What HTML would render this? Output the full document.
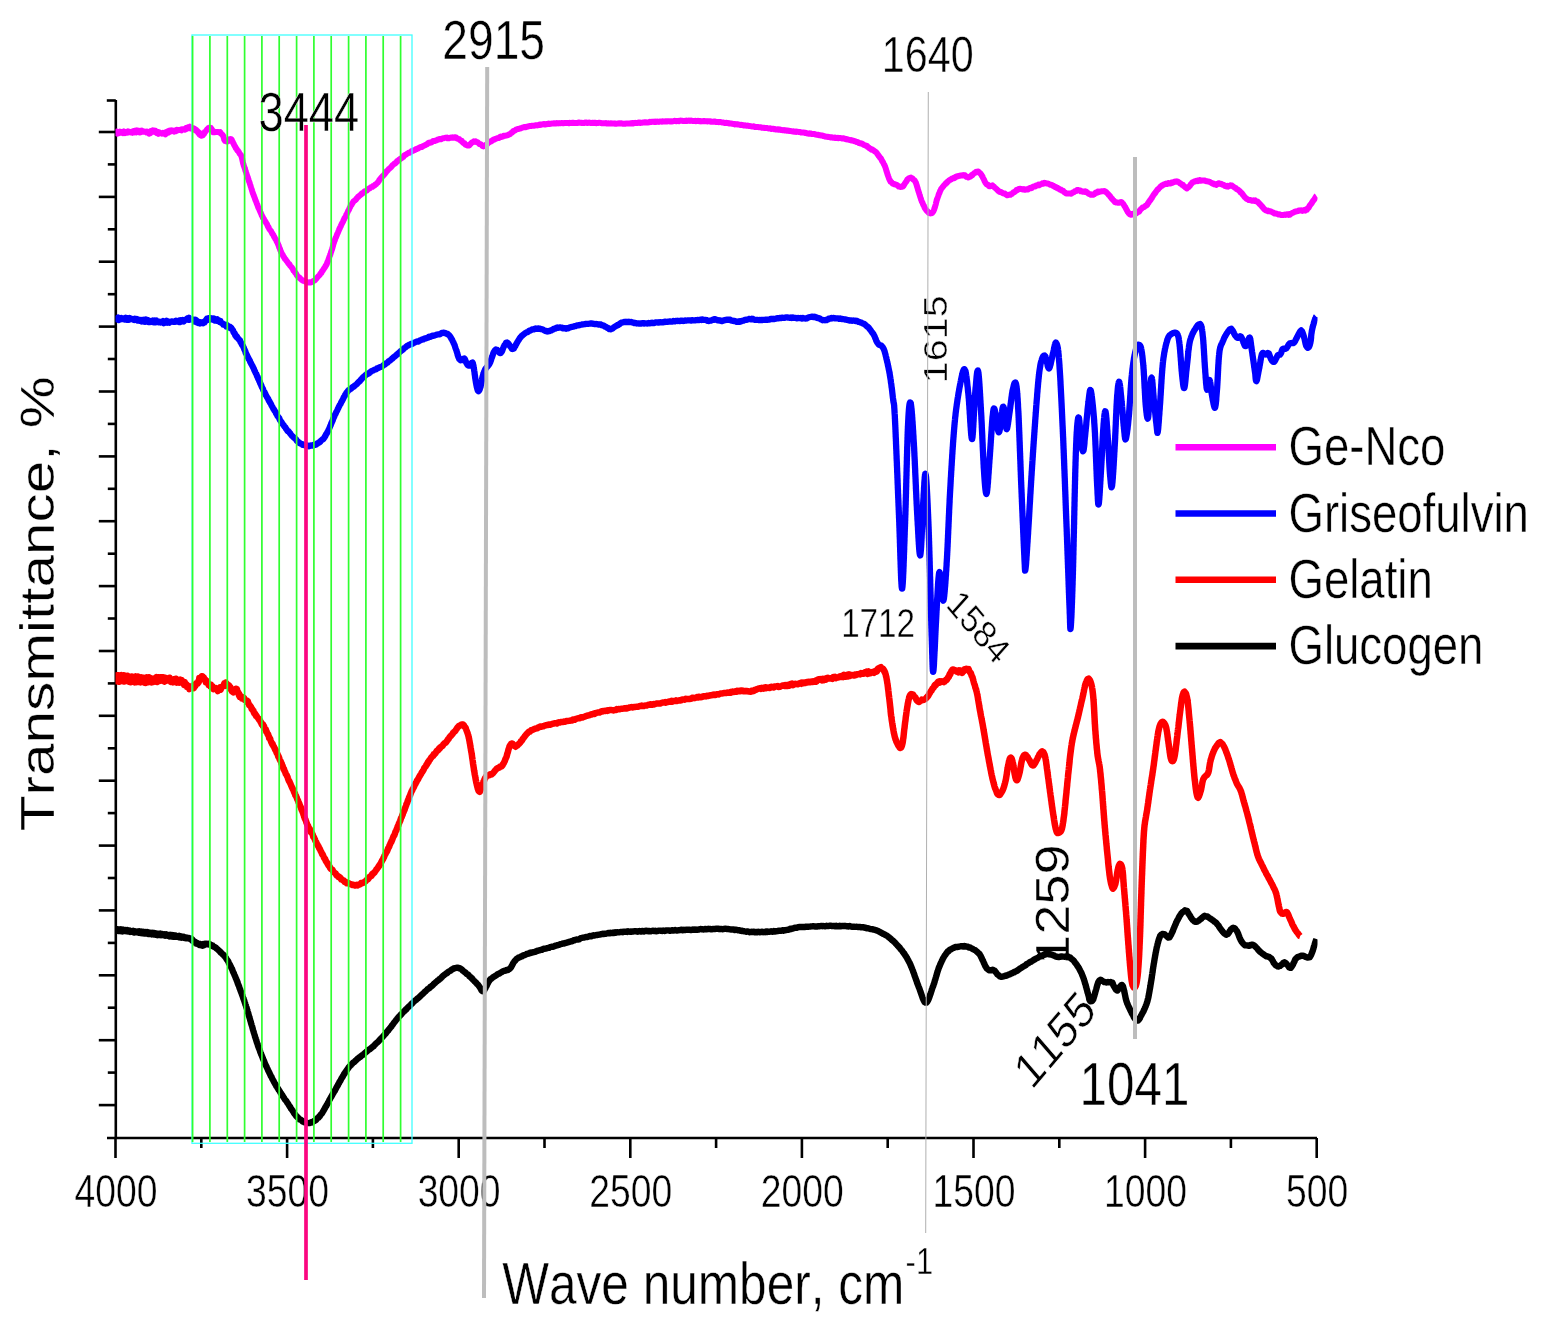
<!DOCTYPE html>
<html lang="en"><head><meta charset="utf-8"><title>FTIR spectra</title>
<style>html,body{margin:0;padding:0;background:#fff}body{width:1548px;height:1327px;overflow:hidden}svg{display:block}text{font-family:"Liberation Sans",sans-serif;fill:#000;font-kerning:none;stroke:#fff;stroke-width:.45px}text.b{stroke-width:.35px}</style>
</head><body>
<svg width="1548" height="1327" viewBox="0 0 1548 1327">
<rect width="1548" height="1327" fill="#fff"/>
<g stroke="#000" stroke-width="2.6" fill="none" stroke-linecap="butt">
<path d="M115.8,100 V1139"/>
<path d="M107,1138 H1317"/>
<path d="M106.8,100.5 H115.8"/>
<path d="M98.8,132.0 H115.8"/>
<path d="M107.8,164.4 H115.8"/>
<path d="M98.8,196.9 H115.8"/>
<path d="M107.8,229.3 H115.8"/>
<path d="M98.8,261.7 H115.8"/>
<path d="M107.8,294.2 H115.8"/>
<path d="M98.8,326.6 H115.8"/>
<path d="M107.8,359.0 H115.8"/>
<path d="M98.8,391.5 H115.8"/>
<path d="M107.8,423.9 H115.8"/>
<path d="M98.8,456.4 H115.8"/>
<path d="M107.8,488.8 H115.8"/>
<path d="M98.8,521.2 H115.8"/>
<path d="M107.8,553.7 H115.8"/>
<path d="M98.8,586.1 H115.8"/>
<path d="M107.8,618.5 H115.8"/>
<path d="M98.8,651.0 H115.8"/>
<path d="M107.8,683.4 H115.8"/>
<path d="M98.8,715.8 H115.8"/>
<path d="M107.8,748.3 H115.8"/>
<path d="M98.8,780.7 H115.8"/>
<path d="M107.8,813.1 H115.8"/>
<path d="M98.8,845.6 H115.8"/>
<path d="M107.8,878.0 H115.8"/>
<path d="M98.8,910.4 H115.8"/>
<path d="M107.8,942.9 H115.8"/>
<path d="M98.8,975.3 H115.8"/>
<path d="M107.8,1007.7 H115.8"/>
<path d="M98.8,1040.2 H115.8"/>
<path d="M107.8,1072.6 H115.8"/>
<path d="M98.8,1105.1 H115.8"/>
<path d="M115.5,1138 V1158"/>
<path d="M201.3,1138 V1148"/>
<path d="M287.1,1138 V1158"/>
<path d="M372.9,1138 V1148"/>
<path d="M458.7,1138 V1158"/>
<path d="M544.5,1138 V1148"/>
<path d="M630.3,1138 V1158"/>
<path d="M716.1,1138 V1148"/>
<path d="M801.9,1138 V1158"/>
<path d="M887.7,1138 V1148"/>
<path d="M973.5,1138 V1158"/>
<path d="M1059.3,1138 V1148"/>
<path d="M1145.1,1138 V1158"/>
<path d="M1230.9,1138 V1148"/>
<path d="M1316.7,1138 V1158"/>
</g>
<text transform="translate(115.9,1207.1) scale(0.8,1)" font-size="46.6" text-anchor="middle">4000</text>
<text transform="translate(287.5,1207.1) scale(0.8,1)" font-size="46.6" text-anchor="middle">3500</text>
<text transform="translate(459.1,1207.1) scale(0.8,1)" font-size="46.6" text-anchor="middle">3000</text>
<text transform="translate(630.7,1207.1) scale(0.8,1)" font-size="46.6" text-anchor="middle">2500</text>
<text transform="translate(802.3,1207.1) scale(0.8,1)" font-size="46.6" text-anchor="middle">2000</text>
<text transform="translate(973.9,1207.1) scale(0.8,1)" font-size="46.6" text-anchor="middle">1500</text>
<text transform="translate(1145.5,1207.1) scale(0.8,1)" font-size="46.6" text-anchor="middle">1000</text>
<text transform="translate(1317.1,1207.1) scale(0.8,1)" font-size="46.6" text-anchor="middle">500</text>
<text transform="translate(442.34,59.14) scale(0.8189,1)" font-size="56.34">2915</text>
<text transform="translate(881.85,72.11) scale(0.8374,1)" font-size="49.30">1640</text>
<text transform="translate(1079.57,1105.09) scale(0.8090,1)" font-size="60.99">1041</text>
<text transform="translate(841.13,637.40) scale(0.8254,1)" font-size="40.29">1712</text>
<text transform="translate(946.57,383.21) rotate(-90) scale(1.2036,1)" font-size="32.82">1615</text>
<text transform="translate(1069.43,965.02) rotate(-90) scale(1.1510,1)" font-size="47.18">1259</text>
<text transform="translate(945.10,605.70) scale(1,1.15) rotate(45.8) scale(1.0,1)" font-size="32.90">1584</text>
<text transform="translate(1031.70,1090.80) scale(1,1.17) rotate(-45.2) scale(1.0,1)" font-size="42.40">1155</text>
<text transform="translate(1288.5,465.2) scale(0.828,1)" font-size="55.0">Ge-Nco</text>
<text transform="translate(1288.5,531.6) scale(0.828,1)" font-size="55.0">Griseofulvin</text>
<text transform="translate(1288.5,597.6) scale(0.828,1)" font-size="55.0">Gelatin</text>
<text transform="translate(1288.5,664) scale(0.828,1)" font-size="55.0">Glucogen</text>
<text transform="translate(502.20,1303.50) scale(0.8382,1)" font-size="59.15">Wave number, cm<tspan font-size="37" dy="-29.5" dx="1.5">-1</tspan></text>
<text transform="translate(54.30,831.26) rotate(-90) scale(1.1980,1)" font-size="48.84" class="b">Transmittance, %</text>
<defs><clipPath id="plot"><rect x="115.5" y="0" width="1202" height="1327"/></clipPath></defs>
<path d="M115.7,928.9 116.2,930.6 116.7,929.3 117.2,930.7 117.8,929.2 118.4,930.9 119.1,929.8 119.8,930.8 120.5,929.4 121.2,931.2 122.0,929.5 122.8,931.4 123.7,929.8 124.5,930.9 125.4,930.1 126.3,931.2 127.3,930.1 128.2,931.4 129.2,930.7 130.1,931.9 131.1,931.0 132.1,931.7 133.1,931.0 134.1,932.5 135.1,931.3 136.2,932.3 137.2,931.6 138.2,932.6 139.3,931.3 140.3,933.0 141.3,931.6 142.3,933.2 143.3,931.9 144.3,933.3 145.3,932.2 146.3,933.4 147.3,932.1 148.2,934.0 149.2,932.6 150.1,933.9 151.0,933.0 151.9,934.3 152.8,933.0 153.7,934.3 154.6,933.1 155.5,934.7 156.5,933.7 157.4,935.0 158.4,933.9 159.4,934.9 160.3,933.6 161.3,935.1 162.3,934.2 163.3,935.2 164.3,934.4 165.3,935.6 166.3,934.4 167.2,935.6 168.2,935.1 169.2,936.3 170.2,934.9 171.1,936.3 172.1,935.1 173.0,936.6 174.0,935.3 174.9,936.6 175.8,935.6 176.7,936.7 177.5,936.2 178.4,937.1 179.2,936.0 180.1,937.3 180.8,936.3 181.6,937.6 182.4,936.8 183.1,937.5 183.8,936.8 184.4,937.8 185.1,937.3 185.7,938.1 186.3,937.6 186.8,938.3 188.9,937.9 190.3,939.2 191.3,938.6 192.0,940.4 192.4,939.5 192.7,940.8 193.0,940.5 193.4,941.4 194.0,941.5 194.8,942.6 195.6,942.1 196.3,943.5 197.1,943.1 197.9,944.1 198.6,943.7 199.4,944.8 200.2,944.2 201.0,945.2 201.8,944.6 202.6,945.5 203.3,944.2 204.1,945.1 204.9,943.8 205.7,944.3 206.5,943.8 207.4,944.3 208.4,943.7 209.1,944.3 209.7,944.0 210.5,945.2 211.2,945.0 211.9,945.9 212.7,945.6 213.5,946.7 214.3,946.9 215.1,947.3 215.8,947.6 216.6,948.5 217.4,949.2 218.2,949.9 219.0,950.6 219.5,951.2 220.0,951.3 220.5,952.4 221.0,952.7 221.5,953.0 222.0,953.6 222.5,954.2 223.0,954.3 223.5,954.9 224.0,955.8 224.5,956.1 225.0,956.7 225.6,957.5 226.1,958.2 226.6,959.3 227.1,959.8 227.7,960.6 228.3,961.5 228.8,963.0 229.4,963.9 230.0,964.9 230.3,965.8 230.6,966.4 230.9,966.7 231.2,967.6 231.5,968.1 231.8,968.6 232.1,969.3 232.4,969.9 232.7,971.0 233.0,971.6 233.3,972.4 233.7,972.9 234.0,973.7 234.3,974.6 234.6,975.2 235.0,976.1 235.3,976.8 235.6,977.6 235.9,978.5 236.3,979.1 236.6,980.1 236.9,981.0 237.3,981.7 237.6,982.8 237.9,983.7 238.3,984.5 238.6,985.4 239.0,986.1 239.3,987.3 239.6,988.2 240.0,989.1 240.3,989.8 240.6,990.9 241.0,991.8 241.3,992.7 241.6,993.5 242.0,994.5 242.3,995.3 242.7,996.5 243.0,997.3 243.3,998.3 243.6,999.1 244.0,1000.0 244.3,1001.1 244.6,1001.8 244.8,1002.5 245.1,1003.2 245.3,1004.2 245.6,1004.9 245.9,1005.6 246.1,1006.5 246.4,1007.4 246.7,1008.2 246.9,1008.9 247.2,1009.9 247.4,1010.7 247.7,1011.7 248.0,1012.4 248.2,1013.2 248.5,1014.2 248.7,1015.0 249.0,1016.1 249.3,1016.9 249.5,1017.7 249.8,1018.7 250.1,1019.7 250.3,1020.6 250.6,1021.3 250.8,1022.2 251.1,1023.3 251.4,1024.1 251.6,1024.9 251.9,1025.8 252.2,1026.6 252.4,1027.8 252.7,1028.5 252.9,1029.6 253.2,1030.5 253.5,1031.3 253.7,1032.1 254.0,1033.2 254.3,1034.0 254.5,1034.7 254.8,1035.5 255.0,1036.6 255.3,1037.4 255.6,1038.1 255.8,1038.9 256.1,1039.7 256.3,1040.6 256.6,1041.5 256.9,1042.4 257.1,1043.0 257.4,1043.8 257.7,1044.5 257.9,1045.5 258.2,1046.3 258.4,1046.9 258.7,1047.7 259.1,1048.5 259.4,1049.4 259.8,1050.4 260.1,1051.5 260.5,1052.5 260.8,1053.2 261.2,1054.3 261.6,1055.1 261.9,1056.0 262.3,1056.9 262.6,1057.7 263.0,1058.8 263.3,1059.5 263.7,1060.3 264.1,1061.0 264.4,1062.1 264.8,1063.0 265.1,1063.9 265.5,1064.6 265.8,1065.4 266.2,1066.0 266.6,1066.9 266.9,1067.6 267.3,1068.4 267.6,1069.1 268.0,1070.0 268.3,1070.8 268.7,1071.4 269.1,1072.2 269.4,1072.9 269.8,1073.7 270.1,1074.5 270.5,1075.2 270.8,1075.9 271.2,1076.4 271.6,1077.3 271.9,1077.9 272.3,1078.7 272.6,1079.3 273.0,1080.0 273.5,1080.9 273.9,1081.8 274.4,1082.6 274.9,1083.6 275.4,1084.4 275.9,1085.0 276.3,1086.2 276.8,1086.6 277.3,1087.6 277.8,1088.4 278.3,1089.0 278.8,1090.1 279.3,1090.6 279.8,1091.4 280.2,1092.1 280.7,1093.1 281.2,1093.6 281.7,1094.5 282.2,1094.9 282.6,1095.9 283.1,1096.5 283.6,1097.3 284.0,1097.9 284.5,1098.8 284.9,1099.4 285.4,1099.9 285.8,1100.5 286.3,1101.0 286.7,1101.7 287.1,1102.3 287.5,1103.1 288.1,1103.7 288.7,1104.8 289.2,1105.5 289.7,1106.5 290.3,1107.1 290.8,1108.2 291.3,1109.1 291.8,1109.6 292.3,1110.2 292.7,1110.9 293.2,1111.8 293.7,1112.3 294.1,1113.3 294.6,1113.8 295.1,1114.5 295.6,1115.1 296.0,1115.9 296.5,1116.3 297.0,1116.6 297.5,1117.3 298.0,1117.6 298.8,1118.5 299.5,1119.3 300.3,1119.5 301.1,1120.0 301.9,1120.6 302.7,1121.5 303.5,1121.4 304.3,1122.3 305.1,1122.3 305.9,1122.4 306.6,1122.9 307.4,1123.1 308.2,1123.1 309.0,1123.1 309.7,1123.0 310.5,1122.5 311.2,1122.6 311.9,1122.4 312.6,1122.0 313.3,1121.5 314.1,1121.0 314.8,1120.7 315.5,1120.3 316.2,1119.7 316.9,1118.8 317.6,1118.1 318.4,1117.8 319.1,1116.6 319.8,1116.2 320.2,1115.4 320.7,1114.7 321.1,1114.3 321.6,1113.7 322.0,1113.3 322.4,1112.5 322.8,1111.9 323.3,1110.9 323.7,1110.5 324.1,1109.5 324.5,1109.0 325.0,1108.1 325.4,1107.3 325.8,1106.5 326.3,1105.9 326.7,1105.0 327.2,1104.2 327.6,1103.5 328.1,1102.6 328.6,1101.6 329.1,1100.8 329.6,1099.6 330.1,1098.9 330.6,1097.9 331.0,1097.1 331.4,1096.7 331.8,1095.8 332.2,1095.1 332.6,1094.4 333.1,1093.5 333.5,1092.8 334.0,1091.9 334.4,1091.2 334.9,1090.6 335.3,1089.7 335.8,1088.9 336.3,1087.8 336.7,1087.1 337.2,1086.3 337.7,1085.5 338.1,1084.7 338.6,1083.6 339.1,1083.1 339.5,1081.9 340.0,1081.3 340.5,1080.6 340.9,1079.6 341.4,1078.6 341.8,1078.1 342.2,1077.2 342.7,1076.7 343.1,1075.7 343.5,1075.4 343.9,1074.4 344.3,1073.7 344.6,1073.5 345.0,1072.7 345.7,1071.8 346.3,1071.0 346.9,1070.0 347.4,1069.4 347.9,1068.6 348.3,1068.2 348.7,1067.2 349.2,1067.0 349.6,1066.3 350.1,1066.0 350.6,1065.3 351.1,1064.9 351.7,1064.0 352.4,1063.6 353.2,1062.6 354.0,1062.2 354.5,1061.8 355.1,1061.1 355.6,1060.5 356.2,1060.2 356.9,1059.4 357.5,1058.8 358.2,1058.4 358.9,1057.9 359.6,1057.1 360.3,1057.0 361.0,1056.1 361.8,1055.5 362.5,1055.1 363.3,1054.5 364.0,1053.9 364.8,1053.1 365.5,1052.5 366.3,1051.9 367.0,1051.3 367.8,1050.7 368.5,1049.9 369.2,1049.5 369.9,1049.1 370.6,1048.7 371.3,1047.9 371.9,1047.5 372.5,1047.0 373.1,1046.4 373.7,1046.1 374.5,1044.9 375.2,1044.6 375.9,1043.5 376.6,1043.1 377.3,1042.4 377.9,1042.0 378.5,1041.3 379.1,1040.6 379.7,1039.9 380.3,1039.6 380.8,1038.8 381.4,1038.3 382.0,1037.5 382.5,1037.0 383.1,1036.5 383.6,1035.8 384.2,1035.0 384.8,1034.3 385.4,1033.9 386.0,1033.2 386.5,1032.3 387.1,1031.6 387.6,1031.0 388.2,1030.6 388.7,1029.7 389.3,1029.0 389.8,1028.4 390.4,1027.6 390.9,1027.1 391.5,1026.4 392.0,1025.3 392.6,1024.7 393.1,1024.2 393.7,1023.2 394.2,1022.5 394.8,1021.7 395.3,1021.2 395.9,1020.4 396.5,1019.5 397.1,1018.9 397.6,1018.2 398.2,1017.6 398.8,1016.9 399.4,1016.2 400.0,1015.8 400.6,1014.8 401.1,1014.5 401.7,1014.0 402.3,1013.1 402.9,1012.5 403.5,1011.8 404.1,1011.2 404.7,1010.9 405.3,1010.3 405.9,1009.4 406.5,1009.2 407.1,1008.1 407.7,1007.6 408.4,1006.9 409.0,1006.6 409.6,1005.8 410.3,1005.3 411.0,1004.6 411.6,1003.9 412.3,1003.5 413.0,1002.5 413.6,1001.9 414.2,1001.4 414.8,1000.7 415.5,1000.3 416.1,999.9 416.7,999.3 417.4,998.6 418.1,998.2 418.7,997.6 419.4,997.0 420.1,996.4 420.7,995.7 421.4,995.0 422.1,994.4 422.8,993.9 423.5,993.1 424.2,992.5 424.9,991.7 425.5,991.3 426.2,990.5 426.9,990.0 427.6,989.2 428.3,988.9 429.0,988.3 429.7,987.8 430.3,986.8 431.0,986.6 431.7,986.1 432.4,985.5 433.0,984.9 433.8,984.0 434.5,983.3 435.2,982.8 435.9,982.0 436.6,981.5 437.3,981.1 438.1,980.1 438.8,980.0 439.5,979.1 440.2,978.7 440.9,978.1 441.6,977.3 442.3,976.7 443.0,975.9 443.7,975.4 444.3,974.8 445.0,974.3 445.6,974.0 446.2,973.4 446.8,973.3 447.4,972.8 448.0,972.1 448.5,971.7 449.0,971.4 450.2,970.9 451.2,969.9 452.1,969.3 452.9,969.2 453.7,968.3 454.4,968.2 455.1,968.2 455.8,968.0 456.5,967.8 457.2,967.9 458.0,967.7 458.7,968.0 459.4,968.4 460.0,968.3 460.7,968.8 461.4,969.1 462.0,969.6 462.7,970.6 463.4,971.0 464.1,971.5 464.8,972.2 465.5,972.5 466.2,973.4 467.0,974.2 467.6,974.3 468.2,974.8 468.8,975.3 469.4,976.3 470.1,976.9 470.7,977.2 471.4,978.2 472.1,978.4 472.7,979.4 473.4,980.2 474.0,980.6 474.7,981.5 475.3,982.1 475.9,982.5 476.5,983.3 477.0,983.9 477.5,984.3 478.0,984.7 478.8,985.8 479.4,986.6 479.9,987.5 480.4,988.2 480.9,989.0 481.3,989.9 481.7,990.6 482.2,991.1 482.7,990.7 483.3,990.8 483.7,990.6 484.1,990.5 484.5,989.7 484.8,989.2 485.2,988.5 485.6,987.7 486.0,986.8 486.5,986.0 486.9,985.2 487.3,984.3 487.8,983.4 488.3,982.3 488.8,981.5 489.3,980.8 489.9,979.9 490.5,979.2 491.1,978.9 491.8,978.2 492.5,977.8 493.2,977.1 494.0,976.7 494.7,976.3 495.5,975.8 496.4,975.3 497.2,974.5 498.0,974.0 498.8,973.7 499.6,973.4 500.3,972.9 501.1,972.4 501.7,972.1 502.4,971.6 503.0,971.3 504.0,970.9 504.9,970.7 505.8,970.6 506.5,969.9 507.3,969.9 507.9,970.1 508.6,969.3 509.3,969.2 510.0,968.4 510.5,967.9 510.9,967.6 511.3,966.8 511.7,966.0 512.1,965.3 512.5,964.5 512.8,964.0 513.2,963.1 513.7,962.3 514.2,961.7 514.7,960.9 515.3,960.5 516.0,959.6 516.6,958.9 517.2,958.5 517.8,958.3 518.4,957.7 519.1,957.5 519.7,957.4 520.4,956.9 521.1,956.4 521.9,956.4 522.7,955.6 523.6,955.4 524.5,954.9 525.4,955.0 526.5,954.0 527.5,953.9 528.7,953.3 529.4,953.5 530.0,952.8 530.8,953.1 531.5,952.5 532.3,952.5 533.1,952.2 533.9,952.1 534.7,951.9 535.6,951.6 536.5,951.1 537.4,950.7 538.3,950.7 539.2,950.2 540.1,950.3 541.0,949.8 541.9,949.8 542.9,949.1 543.8,948.8 544.7,948.7 545.6,948.6 546.5,948.4 547.4,948.2 548.3,947.8 549.2,947.8 550.1,947.2 550.9,947.0 551.7,946.7 552.5,946.6 553.3,946.7 554.0,946.5 555.0,945.7 556.0,945.8 556.9,945.3 557.8,945.2 558.7,945.0 559.6,944.4 560.4,944.3 561.2,944.0 562.0,943.8 562.8,943.5 563.6,943.6 564.4,943.4 565.2,943.2 566.0,942.6 566.8,942.7 567.6,942.2 568.5,942.2 569.3,941.6 570.2,941.8 571.1,941.3 572.0,941.2 572.8,941.1 573.6,940.3 574.4,940.4 575.2,940.0 575.9,939.6 576.7,939.5 577.5,939.6 578.3,939.5 579.2,939.3 580.0,938.6 580.8,938.2 581.6,938.0 582.5,937.7 583.3,937.6 584.2,937.6 585.0,937.3 585.9,936.9 586.8,937.0 587.7,937.0 588.6,936.5 589.5,936.0 590.5,936.2 591.4,936.2 592.4,935.8 593.4,935.2 594.2,935.5 594.9,935.5 595.7,935.1 596.5,935.0 597.2,935.0 598.0,934.9 598.8,934.6 599.6,934.6 600.4,934.4 601.2,934.3 602.0,934.0 602.8,933.7 603.6,934.1 604.5,933.7 605.3,933.9 606.1,933.6 607.0,933.4 607.8,933.2 608.7,932.9 609.6,933.3 610.5,932.7 611.4,933.0 612.3,933.1 613.2,932.5 614.1,933.0 615.1,932.3 616.0,932.8 617.0,932.2 618.0,932.4 619.0,932.4 620.0,932.2 621.0,931.9 622.0,932.0 622.8,932.2 623.5,931.7 624.3,931.9 625.0,931.9 625.8,931.7 626.6,931.5 627.3,931.9 628.1,931.3 628.9,931.5 629.7,931.7 630.4,931.5 631.2,931.8 632.0,931.4 632.8,931.5 633.6,931.5 634.4,931.1 635.2,931.1 636.1,931.4 636.9,931.5 637.7,931.7 638.5,931.2 639.4,931.0 640.2,931.3 641.1,931.6 642.0,930.9 642.9,930.9 643.7,931.5 644.6,930.9 645.6,931.1 646.5,930.8 647.4,930.9 648.3,931.2 649.3,930.9 650.3,931.4 651.2,931.1 652.2,930.9 653.2,930.7 654.2,931.1 655.2,930.8 656.3,931.2 657.3,931.1 658.4,930.6 659.5,930.6 660.6,930.7 661.7,930.9 662.4,931.0 663.2,930.5 664.0,930.9 664.8,931.0 665.6,930.5 666.4,930.5 667.3,930.4 668.1,930.4 669.0,930.5 669.8,930.8 670.7,930.6 671.6,930.4 672.5,930.2 673.4,930.6 674.4,930.4 675.3,930.0 676.2,930.5 677.2,930.5 678.1,930.4 679.1,930.1 680.1,930.1 681.0,929.8 682.0,929.8 683.0,930.3 684.0,929.7 685.0,930.0 686.0,929.6 687.0,929.7 687.9,929.6 688.9,929.7 689.9,929.8 690.9,930.0 691.9,929.8 692.9,929.4 693.9,929.9 694.9,929.4 695.9,929.9 696.9,929.8 697.9,929.7 698.9,929.5 699.9,929.1 700.8,929.0 701.8,929.4 702.8,929.1 703.7,929.5 704.7,929.2 705.6,928.9 706.6,929.3 707.5,928.9 708.4,929.1 709.3,928.9 710.2,929.0 711.1,929.4 712.0,929.3 712.8,929.0 713.7,929.1 714.5,929.0 715.4,929.0 716.2,928.8 717.0,928.7 717.8,928.8 718.5,928.7 719.3,929.1 720.0,929.2 720.7,929.1 721.4,928.9 722.1,929.2 722.8,929.3 724.1,928.9 725.4,928.7 726.6,929.0 727.8,928.9 728.9,929.1 730.0,929.4 731.0,929.5 732.0,929.5 733.0,929.5 733.9,929.4 734.8,930.0 735.6,929.7 736.4,929.9 737.2,930.0 738.0,930.3 738.8,930.3 739.5,930.2 740.3,930.9 741.0,930.7 741.7,930.9 742.4,931.1 743.1,931.0 743.8,931.2 744.5,931.4 745.3,931.4 746.0,931.8 746.7,931.5 747.5,931.6 748.2,931.5 749.0,931.9 749.8,932.2 750.6,932.0 751.5,931.7 752.4,932.1 753.3,931.8 754.1,931.7 755.0,932.3 755.9,932.2 756.8,931.9 757.7,932.2 758.6,931.8 759.5,932.3 760.5,932.1 761.4,931.8 762.3,931.6 763.2,932.2 764.1,932.0 765.0,932.2 765.9,931.6 766.8,932.1 767.7,931.5 768.6,931.8 769.5,931.7 770.4,931.6 771.2,931.3 772.1,931.8 773.0,931.6 773.8,931.1 774.7,931.6 775.5,931.2 776.3,931.3 777.2,931.1 778.0,931.0 778.7,930.6 779.5,930.6 780.3,930.8 781.3,930.7 782.2,930.3 783.1,930.8 784.0,930.2 784.8,930.3 785.6,930.1 786.4,930.0 787.2,929.9 788.0,929.8 788.7,929.6 789.5,929.4 790.2,928.7 791.0,929.1 791.7,928.6 792.5,928.5 793.3,928.5 794.1,928.1 794.9,927.7 795.8,927.8 796.7,927.8 797.6,927.4 798.6,927.1 799.6,926.9 800.7,927.0 801.8,926.9 802.5,926.9 803.2,927.1 804.0,926.9 804.8,927.0 805.6,926.7 806.4,926.6 807.2,926.7 808.0,926.8 808.9,926.6 809.7,926.6 810.6,926.5 811.5,926.4 812.4,926.4 813.3,926.2 814.2,926.4 815.1,926.5 816.1,926.4 817.0,926.5 817.9,926.1 818.9,926.3 819.8,926.3 820.8,926.0 821.7,926.0 822.7,926.2 823.6,926.0 824.6,926.3 825.5,926.2 826.4,925.8 827.4,926.1 828.3,926.1 829.2,925.9 830.1,925.7 831.0,925.7 831.9,926.1 832.8,926.1 833.7,925.9 834.5,926.1 835.4,926.3 836.2,925.8 837.0,926.3 837.8,926.3 838.8,926.1 839.8,925.8 840.8,926.3 841.8,925.9 842.8,926.0 843.8,925.9 844.8,926.1 845.7,925.9 846.7,926.3 847.7,926.2 848.6,926.6 849.6,926.0 850.5,926.4 851.4,926.6 852.4,926.8 853.3,926.7 854.2,926.8 855.1,926.9 856.0,926.9 856.8,926.7 857.7,927.0 858.6,927.0 859.4,927.1 860.2,927.0 861.1,927.4 861.9,927.2 862.7,927.2 863.5,927.3 864.3,927.7 865.0,927.8 865.8,927.6 866.5,928.2 867.5,928.1 868.6,928.3 869.5,928.7 870.5,929.1 871.4,929.1 872.3,929.2 873.1,929.5 874.0,929.6 874.8,929.8 875.6,930.2 876.4,930.2 877.2,930.7 877.9,930.8 878.7,931.6 879.4,931.7 880.1,932.2 880.9,932.5 881.6,933.1 882.3,933.2 883.0,933.8 883.8,934.0 884.5,934.4 885.2,934.9 886.0,935.2 886.7,935.6 887.4,936.0 888.1,936.5 888.8,937.5 889.5,937.7 890.2,938.4 890.9,938.9 891.5,939.6 892.2,940.2 892.9,940.6 893.5,941.2 894.2,941.9 894.8,942.4 895.4,943.3 896.0,943.8 896.6,944.4 897.2,945.2 897.8,945.7 898.4,946.4 899.0,947.1 899.6,947.4 900.1,948.5 900.7,949.1 901.2,949.8 901.7,950.3 902.2,950.7 902.7,951.8 903.2,952.2 903.7,953.1 904.2,953.4 904.6,954.3 905.1,955.1 905.6,955.7 906.0,956.4 906.5,957.3 906.9,957.8 907.4,958.8 907.8,959.7 908.3,960.4 908.7,961.3 909.2,962.2 909.6,962.8 909.9,963.5 910.3,964.4 910.6,965.1 911.0,966.2 911.3,966.8 911.7,967.7 912.0,968.4 912.3,969.3 912.7,970.2 913.0,971.0 913.3,972.0 913.7,972.9 914.0,973.7 914.3,974.6 914.6,975.8 915.0,976.7 915.3,977.4 915.6,978.5 915.9,979.1 916.2,980.1 916.5,980.9 916.8,981.7 917.1,982.8 917.4,983.3 917.7,984.4 918.0,984.8 918.3,985.9 918.6,986.7 919.0,987.6 919.4,988.5 919.8,989.7 920.2,990.9 920.5,991.9 920.9,993.0 921.3,994.0 921.6,994.9 922.0,996.1 922.3,997.0 922.7,998.1 923.0,998.9 923.4,999.7 923.7,1000.5 924.0,1000.9 924.4,1001.6 924.7,1002.2 925.1,1002.3 925.4,1002.5 925.8,1002.4 926.2,1002.4 926.5,1002.6 926.9,1002.3 927.2,1001.7 927.6,1001.2 928.0,1000.5 928.3,999.8 928.7,999.0 929.1,997.9 929.4,997.1 929.8,996.0 930.1,994.8 930.5,994.0 930.9,992.6 931.2,991.8 931.6,990.6 931.9,989.4 932.3,988.3 932.6,987.4 933.0,986.5 933.3,985.9 933.5,985.0 933.8,984.1 934.1,983.6 934.3,982.7 934.6,981.9 934.8,980.8 935.1,979.9 935.4,979.3 935.6,978.2 935.9,977.3 936.1,976.4 936.4,975.7 936.6,974.9 936.9,973.8 937.2,972.9 937.4,972.0 937.7,971.3 938.0,970.3 938.3,969.6 938.5,968.7 938.8,967.8 939.1,967.2 939.4,966.5 939.7,965.9 940.0,965.0 940.4,964.0 940.8,963.2 941.3,962.1 941.7,961.2 942.1,960.2 942.5,959.8 942.9,958.6 943.4,957.8 943.8,957.3 944.3,956.2 944.7,955.6 945.2,954.9 945.7,954.4 946.2,953.4 946.7,953.0 947.3,952.0 947.8,951.4 948.4,951.3 949.0,950.6 949.7,949.8 950.5,949.4 951.2,949.3 952.0,948.7 952.9,948.1 953.7,947.9 954.6,947.4 955.5,947.0 956.4,946.9 957.3,947.1 958.2,946.7 959.1,946.7 960.0,946.5 960.9,946.2 961.8,946.1 962.6,946.1 963.5,946.6 964.3,946.0 965.1,946.3 966.0,946.6 966.8,946.5 967.7,946.7 968.5,947.4 969.4,947.6 970.2,947.5 971.1,948.1 971.9,948.6 972.8,949.0 973.6,949.5 974.4,949.9 975.1,950.1 975.9,950.7 976.6,951.4 977.3,952.0 978.0,952.6 978.5,953.2 979.1,953.5 979.6,954.1 980.1,955.1 980.6,955.7 981.0,956.7 981.5,957.7 981.9,958.5 982.3,959.6 982.8,960.3 983.2,961.3 983.6,962.2 984.0,963.2 984.4,963.8 984.7,964.8 985.1,965.5 985.5,966.5 985.9,966.9 986.2,967.4 986.6,968.2 987.0,968.7 987.9,969.3 988.7,970.1 989.5,970.3 990.2,970.3 991.0,970.1 991.7,970.3 992.5,969.7 993.2,970.0 994.0,970.5 994.6,970.6 995.2,971.3 995.7,972.0 996.3,972.8 996.8,973.5 997.4,974.4 998.0,974.8 998.6,975.2 999.3,976.0 1000.1,976.5 1001.0,976.8 1001.7,976.8 1002.4,976.7 1003.1,976.5 1003.9,976.2 1004.7,975.9 1005.5,975.5 1006.4,975.7 1007.2,975.2 1008.1,974.9 1009.0,974.5 1009.9,974.4 1010.8,973.6 1011.7,973.4 1012.6,972.9 1013.5,972.3 1014.4,972.2 1015.1,971.5 1015.9,971.3 1016.6,971.0 1017.4,970.7 1018.1,969.8 1018.9,969.6 1019.7,968.7 1020.5,968.2 1021.2,967.9 1022.0,967.6 1022.8,966.6 1023.5,966.5 1024.3,965.9 1025.1,965.6 1025.8,965.1 1026.5,964.1 1027.3,963.9 1028.0,963.4 1028.7,963.1 1029.5,962.4 1030.4,961.7 1031.2,961.8 1032.0,961.0 1032.9,960.5 1033.7,959.8 1034.5,959.7 1035.3,958.9 1036.1,958.5 1036.8,958.4 1037.6,957.9 1038.3,957.6 1039.0,956.9 1039.7,956.7 1040.4,956.0 1041.0,955.8 1042.0,955.5 1043.0,955.1 1043.8,955.1 1044.6,954.2 1045.3,954.5 1046.1,954.2 1046.8,953.8 1047.6,953.7 1048.5,954.2 1049.3,954.1 1050.0,954.5 1050.8,954.3 1051.6,954.5 1052.4,954.9 1053.2,955.3 1054.1,955.4 1054.9,956.1 1055.8,956.5 1056.6,956.8 1057.5,956.7 1058.3,957.0 1059.2,957.0 1060.1,956.9 1061.0,956.4 1061.9,956.5 1062.8,956.6 1063.8,956.6 1064.7,956.7 1065.6,956.6 1066.4,956.4 1067.2,956.4 1068.0,956.4 1068.8,957.2 1069.6,957.4 1070.3,957.6 1071.0,958.4 1071.6,959.0 1072.3,959.4 1072.9,959.9 1073.6,960.6 1074.2,961.2 1074.8,962.4 1075.5,963.2 1075.9,963.6 1076.4,964.2 1076.8,964.8 1077.2,965.6 1077.7,966.2 1078.1,966.9 1078.5,967.5 1079.0,968.1 1079.4,969.1 1079.8,969.7 1080.2,970.6 1080.6,971.3 1081.1,972.4 1081.5,973.0 1081.8,973.8 1082.2,975.0 1082.6,975.9 1082.9,976.7 1083.2,977.5 1083.5,978.2 1083.8,979.2 1084.1,980.0 1084.4,980.9 1084.7,981.8 1084.9,982.8 1085.2,983.8 1085.5,984.5 1085.8,985.4 1086.0,986.6 1086.3,987.4 1086.5,988.5 1086.8,989.3 1087.0,989.9 1087.2,990.8 1087.4,991.7 1087.6,992.5 1087.8,993.0 1088.0,993.6 1088.4,995.1 1088.7,996.2 1088.9,997.2 1089.1,998.1 1089.2,999.0 1089.4,999.7 1089.6,1000.0 1089.8,1000.6 1090.0,1000.8 1090.7,1001.3 1091.4,1001.2 1092.2,1000.9 1093.0,999.5 1093.3,999.3 1093.5,998.3 1093.8,997.5 1094.0,996.8 1094.3,996.0 1094.5,995.1 1094.8,994.2 1095.1,993.1 1095.3,992.4 1095.5,991.5 1095.8,990.5 1096.0,989.9 1096.3,988.9 1096.6,987.7 1096.8,987.0 1097.1,985.9 1097.3,985.0 1097.6,984.3 1097.8,983.6 1098.0,983.0 1098.3,982.1 1098.8,981.3 1099.4,980.5 1099.9,980.4 1100.6,979.8 1101.2,979.9 1101.9,980.8 1102.7,981.1 1103.5,981.5 1104.3,982.1 1105.0,981.9 1105.8,982.4 1106.6,982.5 1107.4,982.3 1108.1,982.0 1108.8,982.4 1109.7,982.4 1110.5,981.9 1111.2,982.2 1111.9,982.3 1112.3,982.6 1112.7,983.2 1113.0,984.3 1113.3,985.1 1113.7,985.8 1114.1,986.6 1114.6,987.4 1115.1,988.3 1115.6,989.0 1116.1,989.9 1116.6,990.1 1117.1,990.6 1117.6,990.5 1118.1,989.6 1118.5,988.8 1118.9,988.4 1119.4,987.5 1120.0,986.7 1120.7,985.9 1121.4,985.1 1122.0,985.0 1122.4,985.5 1122.7,986.0 1123.0,986.5 1123.3,987.5 1123.6,988.7 1123.9,989.8 1124.1,990.6 1124.3,991.2 1124.4,992.1 1124.6,993.0 1124.8,993.9 1125.0,995.0 1125.2,995.8 1125.4,996.8 1125.6,997.8 1125.8,998.7 1126.0,999.6 1126.2,1000.2 1126.5,1001.4 1126.8,1002.0 1127.1,1003.1 1127.5,1004.0 1127.8,1004.6 1128.2,1005.6 1128.5,1006.4 1128.9,1007.0 1129.2,1007.7 1129.6,1008.5 1130.0,1009.4 1130.3,1010.2 1130.7,1010.9 1131.1,1011.6 1131.5,1012.3 1131.8,1013.3 1132.2,1013.9 1132.6,1014.6 1133.1,1015.4 1133.5,1016.4 1133.9,1017.4 1134.3,1017.7 1134.8,1018.5 1135.2,1018.9 1136.0,1019.8 1136.7,1020.5 1137.5,1020.2 1138.2,1020.4 1138.6,1019.7 1139.0,1019.6 1139.4,1018.8 1139.9,1018.1 1140.3,1017.0 1140.7,1016.3 1141.2,1015.3 1141.6,1014.7 1141.9,1014.1 1142.3,1013.3 1142.7,1012.7 1143.1,1012.0 1143.5,1011.2 1143.9,1010.2 1144.3,1009.4 1144.6,1008.7 1145.0,1007.7 1145.3,1007.1 1145.6,1006.4 1145.9,1005.5 1146.1,1005.1 1146.4,1004.4 1146.7,1003.4 1146.9,1002.8 1147.2,1001.9 1147.5,1001.0 1147.7,999.9 1148.0,998.8 1148.2,998.1 1148.3,997.5 1148.5,996.7 1148.6,996.0 1148.8,995.1 1148.9,994.3 1149.1,993.4 1149.3,992.4 1149.4,991.6 1149.6,990.6 1149.7,989.8 1149.9,988.9 1150.1,987.9 1150.2,987.0 1150.4,986.0 1150.5,985.1 1150.7,984.2 1150.8,983.0 1151.0,982.3 1151.1,981.4 1151.3,980.5 1151.4,979.8 1151.5,979.0 1151.7,978.0 1151.8,977.2 1151.9,976.3 1152.0,975.4 1152.2,974.6 1152.3,973.8 1152.4,972.8 1152.6,972.1 1152.7,971.2 1152.8,970.2 1152.9,969.3 1153.1,968.4 1153.2,967.6 1153.3,966.7 1153.5,965.9 1153.6,965.0 1153.7,964.3 1153.9,963.4 1154.0,962.6 1154.2,961.7 1154.3,960.6 1154.5,959.9 1154.6,958.8 1154.8,957.8 1155.0,956.8 1155.1,956.0 1155.3,955.0 1155.5,954.1 1155.6,953.1 1155.8,952.3 1156.0,951.6 1156.1,950.5 1156.3,949.9 1156.5,948.9 1156.6,948.1 1156.8,947.4 1156.9,946.6 1157.1,946.1 1157.4,945.0 1157.6,943.9 1157.9,942.9 1158.1,942.1 1158.4,941.0 1158.6,940.2 1158.9,939.4 1159.1,938.7 1159.4,938.1 1159.6,937.4 1159.9,936.9 1160.1,936.0 1160.7,935.2 1161.3,934.6 1161.9,934.5 1162.5,934.0 1163.1,933.9 1163.8,934.4 1164.6,934.3 1165.3,934.9 1166.1,935.7 1166.8,936.2 1167.6,937.0 1168.3,937.6 1169.1,937.1 1169.5,937.3 1169.9,936.6 1170.3,935.9 1170.8,935.2 1171.2,934.2 1171.6,933.6 1172.1,932.4 1172.4,932.0 1172.7,931.3 1173.1,930.2 1173.4,929.3 1173.8,928.4 1174.1,927.6 1174.5,926.8 1174.8,926.0 1175.2,924.9 1175.6,924.3 1175.9,923.3 1176.3,922.5 1176.7,921.6 1177.0,920.8 1177.4,920.3 1177.8,919.5 1178.2,918.8 1178.6,918.0 1178.9,917.4 1179.3,916.7 1179.7,915.8 1180.2,915.1 1180.8,914.2 1181.3,913.4 1181.9,912.9 1182.4,912.1 1182.9,912.0 1183.4,911.6 1184.2,911.1 1185.0,910.3 1185.7,910.7 1186.5,910.6 1186.9,910.8 1187.3,911.3 1187.8,912.4 1188.2,912.7 1188.6,913.8 1189.0,914.3 1189.5,915.1 1189.9,915.7 1190.4,916.4 1190.8,917.4 1191.3,917.9 1191.8,918.7 1192.3,919.3 1192.7,919.9 1193.2,920.1 1194.0,921.2 1194.7,921.5 1195.5,921.9 1196.2,921.9 1197.0,921.7 1197.6,921.5 1198.2,920.8 1198.9,920.6 1199.5,919.8 1200.1,919.6 1200.8,918.8 1201.4,918.6 1202.0,917.7 1202.6,917.3 1203.3,916.9 1203.9,916.2 1204.6,915.8 1205.3,916.2 1206.0,916.3 1206.7,916.6 1207.5,916.4 1208.2,917.1 1209.0,917.7 1209.8,918.3 1210.6,918.7 1211.2,919.2 1211.9,919.7 1212.6,920.1 1213.3,920.6 1214.0,921.3 1214.7,921.8 1215.4,922.1 1216.0,922.6 1216.6,923.3 1217.2,924.2 1217.7,924.7 1218.2,925.3 1218.7,925.9 1219.2,927.0 1219.7,927.6 1220.2,928.3 1220.6,929.1 1221.1,929.5 1221.7,930.4 1222.3,931.0 1222.8,931.9 1223.4,932.4 1223.9,933.1 1224.4,933.6 1224.9,933.8 1225.7,934.4 1226.5,934.7 1227.2,934.2 1227.9,934.0 1228.3,933.5 1228.8,932.8 1229.2,932.2 1229.6,931.3 1230.0,930.8 1230.5,930.1 1230.9,929.4 1231.7,929.0 1232.4,928.2 1233.2,927.7 1233.9,928.1 1234.5,928.2 1235.1,928.7 1235.6,929.4 1236.2,930.2 1236.9,930.9 1237.2,931.6 1237.5,932.4 1237.9,933.1 1238.2,933.8 1238.6,935.0 1238.9,935.7 1239.3,936.9 1239.6,937.7 1240.0,938.5 1240.4,939.4 1240.7,940.2 1241.2,940.8 1241.8,942.0 1242.3,942.4 1242.9,943.3 1243.4,943.9 1244.0,944.3 1244.5,945.0 1245.2,945.4 1246.0,945.4 1246.7,945.4 1247.5,945.5 1248.3,945.5 1249.0,945.9 1249.8,945.7 1250.6,944.9 1251.3,944.8 1252.1,944.8 1252.8,944.7 1253.5,945.3 1254.1,945.4 1254.7,946.0 1255.3,946.5 1255.9,947.2 1256.5,947.8 1257.0,948.2 1257.5,948.8 1258.0,949.6 1258.6,950.3 1259.1,950.6 1259.7,951.6 1260.3,951.8 1260.9,952.4 1261.5,952.8 1262.2,953.5 1262.9,953.9 1263.5,954.4 1264.2,954.8 1264.9,955.3 1265.6,955.9 1266.4,956.3 1267.2,956.2 1268.0,956.7 1268.7,956.6 1269.5,957.2 1270.2,957.8 1270.9,958.0 1271.4,958.6 1271.9,959.5 1272.4,960.3 1272.8,960.9 1273.3,962.0 1273.7,962.9 1274.1,963.3 1274.6,963.8 1275.4,965.0 1276.2,965.5 1276.9,965.8 1277.7,966.4 1278.4,966.5 1279.2,966.2 1280.0,966.0 1280.7,965.4 1281.4,964.7 1282.0,964.6 1282.6,963.8 1283.2,963.0 1283.8,962.6 1284.4,962.3 1285.0,962.8 1285.6,962.9 1286.2,963.5 1286.8,964.5 1287.4,965.1 1288.0,965.5 1288.5,966.3 1289.1,967.3 1289.7,967.6 1290.2,967.8 1290.7,967.9 1291.2,967.3 1291.7,966.6 1292.2,965.8 1292.7,965.0 1293.1,964.3 1293.4,963.6 1293.8,962.5 1294.2,961.9 1294.6,961.2 1294.9,960.1 1295.3,959.3 1295.7,958.9 1296.3,958.2 1296.9,957.7 1297.4,957.3 1298.0,956.8 1298.7,956.7 1299.4,956.6 1300.2,956.3 1301.0,955.7 1301.8,955.9 1302.5,955.7 1303.3,955.7 1304.0,956.2 1304.7,956.4 1305.5,956.8 1306.2,957.0 1307.0,957.4 1307.8,957.6 1308.6,957.3 1309.3,957.2 1309.8,957.2 1310.2,956.2 1310.7,955.6 1311.1,954.9 1311.5,954.0 1311.9,952.9 1312.3,952.0 1312.6,951.2 1312.9,950.3 1313.1,949.5 1313.4,948.7 1313.6,947.7 1313.9,946.8 1314.1,946.1 1314.4,945.4 1314.6,944.6 1314.9,943.5 1315.2,942.5 1315.5,941.8 1315.8,940.7 1316.1,940.0 1316.3,939.6 1316.5,939.0" fill="none" stroke="#000" stroke-width="6.4" stroke-linejoin="round" stroke-linecap="butt" clip-path="url(#plot)"/>
<path d="M115.0,675.5 115.5,680.0 116.0,675.5 116.6,681.2 117.2,675.3 117.9,681.0 118.6,675.3 119.4,681.8 120.2,676.1 121.0,681.0 121.8,675.1 122.7,681.1 123.7,675.2 124.6,681.5 125.6,675.7 126.6,681.0 127.6,675.7 128.6,681.7 129.6,676.6 130.6,682.3 131.7,676.5 132.7,681.8 133.7,677.4 134.8,682.4 135.8,676.4 136.8,682.1 137.8,676.5 138.8,681.9 139.7,677.5 140.7,682.4 141.6,677.4 142.5,681.4 143.4,677.7 144.3,682.6 145.2,678.1 146.1,682.9 147.0,677.4 148.0,682.2 148.9,677.3 149.9,682.0 150.8,678.1 151.8,682.4 152.7,678.7 153.6,681.9 154.6,678.3 155.5,681.1 156.5,677.1 157.4,682.0 158.3,677.3 159.2,681.2 160.1,677.2 161.0,680.6 161.9,677.2 162.7,680.2 163.6,677.4 164.4,681.7 165.2,677.7 166.0,680.8 166.8,679.7 167.5,680.1 168.2,678.8 168.9,680.3 169.6,677.7 170.8,682.0 172.0,679.8 173.1,682.3 174.1,679.3 175.0,682.0 175.9,678.7 176.8,682.6 177.6,680.1 178.3,682.1 179.0,681.3 179.7,682.7 180.4,679.6 181.1,681.9 181.7,680.1 182.4,682.4 183.0,681.5 184.0,684.9 184.8,682.2 185.6,684.7 186.3,684.2 186.9,686.9 187.5,685.3 188.1,686.8 188.7,686.5 189.3,689.1 190.0,686.3 190.8,688.2 191.5,687.0 192.3,687.9 193.1,685.5 193.9,688.2 194.6,684.9 195.3,686.1 196.0,683.6 196.7,684.1 197.3,683.1 197.9,683.4 198.4,680.9 198.8,682.0 199.3,678.1 199.8,678.9 200.3,677.9 200.9,677.4 201.5,676.5 202.1,677.7 202.6,676.3 203.2,678.9 203.8,677.4 204.5,679.8 205.1,679.4 205.8,682.3 206.4,680.6 207.2,682.7 207.9,682.9 208.6,685.0 209.3,684.1 210.1,686.2 210.9,684.7 211.7,687.5 212.5,686.2 213.4,689.1 214.2,688.1 215.0,688.5 215.8,688.2 216.5,689.7 217.2,689.8 217.8,691.0 218.8,688.6 219.5,689.2 220.2,687.4 220.7,689.7 221.3,687.3 222.0,687.1 222.7,686.2 223.4,686.3 224.2,683.7 224.9,686.0 225.7,682.5 226.4,684.8 227.2,684.2 227.7,685.1 228.3,685.1 228.8,686.1 229.3,685.7 229.9,688.0 230.4,687.1 230.9,689.6 231.4,689.7 231.9,691.5 232.4,691.6 233.3,692.4 234.1,690.9 234.9,690.1 235.7,689.0 236.5,691.6 236.9,689.0 237.3,691.9 237.7,691.4 238.1,692.2 238.5,693.2 238.9,695.3 239.3,693.9 239.7,696.7 240.2,696.6 240.7,697.1 241.3,696.6 241.9,698.5 242.6,698.3 243.3,698.7 244.0,697.9 244.8,700.1 245.5,700.0 246.2,701.0 246.9,700.6 247.4,702.2 247.8,701.3 248.3,702.9 248.8,703.9 249.2,705.2 249.7,705.5 250.2,705.8 250.6,706.4 251.1,707.1 251.6,708.7 252.1,709.5 252.5,709.4 253.0,710.6 253.5,710.9 254.0,713.0 254.4,713.0 254.9,714.1 255.4,714.1 255.9,715.8 256.4,715.6 256.9,716.8 257.4,717.3 257.8,717.8 258.3,718.2 258.8,719.3 259.3,719.1 259.8,720.8 260.3,720.8 260.7,722.3 261.2,722.4 261.7,724.3 262.2,723.7 262.6,725.7 263.1,724.5 263.6,725.9 264.1,726.4 264.5,728.3 265.0,728.6 265.5,729.4 265.9,729.5 266.2,731.5 266.6,731.4 267.0,732.8 267.3,733.2 267.7,734.4 268.1,734.1 268.4,735.8 268.8,735.9 269.1,737.9 269.5,737.6 269.9,738.6 270.2,738.9 270.6,740.4 271.0,741.4 271.3,742.5 271.7,742.6 272.1,744.1 272.5,743.8 272.9,744.8 273.3,746.2 273.6,746.3 274.0,746.8 274.4,747.9 274.8,748.3 275.2,749.8 275.6,749.9 276.0,750.6 276.4,752.1 276.7,753.1 277.1,753.2 277.5,754.1 277.9,755.0 278.2,756.5 278.6,756.3 278.9,757.2 279.2,758.0 279.5,759.0 279.9,759.9 280.2,760.4 280.5,761.0 280.8,761.6 281.1,762.1 281.5,763.9 281.8,763.7 282.1,765.6 282.5,765.5 282.9,766.7 283.2,767.9 283.6,769.3 284.0,769.0 284.3,770.2 284.6,771.0 285.0,771.9 285.3,772.1 285.7,773.9 286.0,774.3 286.4,774.7 286.8,775.3 287.1,776.2 287.5,776.8 287.9,778.2 288.3,779.4 288.6,780.2 289.0,781.1 289.4,781.2 289.8,782.5 290.2,783.2 290.5,783.9 290.9,784.9 291.3,786.0 291.7,786.6 292.0,787.6 292.4,788.0 292.8,789.2 293.1,789.4 293.5,790.3 293.9,791.6 294.2,792.4 294.6,793.4 295.0,793.4 295.3,795.1 295.7,795.7 296.1,796.1 296.5,797.3 296.8,797.7 297.2,799.3 297.5,799.7 297.9,800.2 298.3,801.5 298.6,802.5 299.0,802.8 299.3,803.9 299.6,804.6 300.0,805.5 300.3,806.4 300.6,806.6 301.0,807.6 301.3,809.0 301.6,809.7 302.0,810.6 302.3,811.1 302.6,812.0 302.9,812.6 303.2,813.5 303.5,814.7 303.8,815.1 304.1,816.6 304.4,817.2 304.7,818.3 305.0,818.5 305.3,819.8 305.6,819.8 305.9,820.8 306.2,821.7 306.5,822.8 306.8,823.2 307.2,824.5 307.6,825.1 307.9,825.5 308.3,826.5 308.7,827.4 309.0,828.2 309.4,829.1 309.8,829.1 310.1,830.7 310.5,830.6 310.9,832.1 311.3,832.6 311.7,832.9 312.1,833.5 312.6,834.4 313.0,835.6 313.3,836.9 313.7,837.1 314.1,837.6 314.4,838.6 314.8,839.0 315.2,840.4 315.6,841.2 316.0,841.8 316.4,842.6 316.8,843.7 317.2,844.4 317.6,844.8 318.0,845.9 318.5,846.3 318.9,847.6 319.3,848.5 319.7,848.7 320.1,849.5 320.5,850.6 320.9,851.3 321.3,852.2 321.7,852.9 322.2,854.3 322.6,854.2 323.0,855.3 323.5,856.4 323.9,857.5 324.4,858.4 324.8,858.5 325.2,859.0 325.7,860.8 326.1,861.4 326.5,861.9 327.0,862.5 327.4,863.6 327.9,863.5 328.3,865.2 328.7,865.6 329.2,866.5 329.6,866.4 330.2,868.0 330.8,868.8 331.4,869.2 332.0,869.5 332.5,869.9 333.1,871.2 333.7,872.1 334.3,872.5 334.9,873.0 335.5,873.3 336.0,874.3 336.6,875.5 337.2,875.5 337.8,875.9 338.5,877.0 339.2,876.8 339.8,877.4 340.5,877.8 341.2,879.6 341.9,879.6 342.6,879.9 343.3,880.4 343.9,880.6 344.6,882.0 345.3,882.0 346.0,881.9 346.8,883.3 347.7,883.1 348.5,883.1 349.4,883.6 350.2,884.0 351.0,884.4 351.9,884.5 352.7,885.1 353.6,884.8 354.4,885.3 355.2,885.6 356.1,885.0 356.9,884.7 357.7,885.3 358.5,884.6 359.3,884.5 360.1,884.3 361.0,883.1 361.8,883.4 362.6,882.8 363.3,882.8 364.0,882.5 364.7,881.4 365.4,881.4 366.1,880.7 366.7,879.8 367.4,879.3 368.1,879.2 368.8,878.2 369.5,877.0 370.2,876.5 370.9,876.1 371.5,875.9 372.0,874.4 372.6,873.7 373.1,873.9 373.7,872.8 374.2,872.8 374.8,872.1 375.3,871.1 375.9,870.5 376.4,869.4 377.0,869.0 377.5,868.1 378.1,867.4 378.6,866.3 379.2,866.2 379.6,864.8 380.0,864.6 380.4,863.8 380.8,863.3 381.3,862.3 381.7,861.4 382.1,860.7 382.5,859.7 382.9,859.6 383.3,858.6 383.7,857.4 384.1,857.1 384.5,855.7 384.9,855.0 385.3,854.3 385.8,853.2 386.2,852.6 386.6,851.9 387.0,851.4 387.4,850.5 387.8,849.4 388.1,848.3 388.5,847.9 388.8,847.4 389.2,846.7 389.6,845.2 389.9,844.6 390.3,843.7 390.6,843.2 391.0,842.1 391.4,841.9 391.7,840.6 392.1,840.1 392.4,839.3 392.8,838.1 393.2,837.1 393.5,836.4 393.9,835.8 394.3,835.4 394.6,834.2 395.0,833.7 395.3,832.2 395.7,831.2 396.0,830.9 396.4,830.3 396.7,828.9 397.0,828.8 397.4,827.6 397.7,826.4 398.0,826.3 398.4,825.4 398.7,824.2 399.0,823.2 399.4,822.7 399.7,821.8 400.0,821.3 400.4,820.3 400.7,819.2 401.0,818.2 401.4,817.5 401.7,817.0 402.0,816.2 402.3,815.0 402.7,814.6 403.0,813.1 403.3,812.5 403.7,811.9 404.0,810.7 404.3,810.4 404.7,809.5 405.0,808.1 405.3,807.6 405.6,806.7 406.0,805.8 406.3,804.9 406.6,803.8 407.0,803.1 407.3,802.4 407.6,801.3 407.9,800.5 408.3,799.5 408.6,799.3 408.9,797.9 409.2,797.0 409.6,796.4 409.9,795.6 410.2,795.1 410.6,793.6 410.9,793.1 411.2,792.2 411.5,791.5 411.9,790.7 412.2,790.4 412.6,789.2 413.0,788.7 413.4,788.0 413.9,787.0 414.3,786.0 414.7,785.2 415.1,784.0 415.5,783.9 415.9,782.7 416.3,782.3 416.8,781.2 417.2,780.2 417.6,780.0 418.0,779.4 418.4,778.7 418.8,777.6 419.3,776.6 419.7,776.4 420.1,775.4 420.5,774.9 421.0,774.1 421.4,773.2 421.9,772.3 422.3,771.9 422.8,771.0 423.3,770.3 423.7,769.5 424.2,768.2 424.7,767.5 425.1,767.0 425.6,766.5 426.0,765.7 426.5,764.6 427.0,764.4 427.4,763.3 427.9,762.2 428.3,762.4 428.8,761.5 429.3,760.1 429.9,759.7 430.4,758.9 431.0,757.9 431.5,757.4 432.1,756.6 432.6,756.1 433.2,755.9 433.7,754.4 434.3,754.6 434.8,753.8 435.4,753.3 435.9,752.4 436.5,751.3 437.0,750.7 437.6,750.7 438.2,750.1 438.8,748.7 439.4,748.1 440.0,748.4 440.6,747.0 441.1,747.0 441.7,746.2 442.3,746.1 442.9,745.4 443.5,744.1 444.1,743.7 444.7,743.1 445.3,742.9 445.9,742.4 446.4,741.8 447.0,740.8 447.6,740.2 448.1,739.0 448.7,738.8 449.3,737.5 449.9,736.8 450.4,736.2 451.0,735.9 451.5,735.1 452.1,734.5 452.6,734.0 453.1,732.8 453.6,732.4 454.3,731.7 454.9,731.3 455.5,730.6 456.1,729.5 456.7,728.8 457.2,727.9 457.8,727.2 458.3,727.0 458.8,726.1 459.3,725.9 459.8,725.6 460.8,725.0 461.6,724.4 462.4,724.7 463.1,724.5 463.9,725.3 464.3,726.0 464.7,727.0 465.0,727.0 465.4,727.5 465.8,728.3 466.2,729.5 466.6,730.6 466.9,731.4 467.3,732.5 467.7,733.5 468.0,734.5 468.2,735.1 468.4,735.9 468.6,736.7 468.7,737.4 468.9,738.2 469.1,738.7 469.2,739.8 469.4,740.6 469.6,741.5 469.7,742.6 469.9,743.3 470.1,744.4 470.2,745.3 470.4,746.0 470.5,747.1 470.7,748.2 470.9,749.0 471.0,750.2 471.2,751.0 471.3,751.9 471.5,752.6 471.6,753.4 471.7,754.2 471.9,755.2 472.0,756.1 472.1,757.0 472.2,757.8 472.4,758.5 472.5,759.6 472.6,760.3 472.8,761.5 472.9,762.4 473.0,763.3 473.1,764.0 473.3,765.1 473.4,765.8 473.5,766.7 473.7,767.7 473.8,768.3 473.9,769.1 474.0,770.2 474.2,770.7 474.3,771.5 474.5,772.5 474.6,773.6 474.8,774.7 475.0,775.5 475.2,776.5 475.4,777.7 475.5,778.4 475.7,779.5 475.9,780.6 476.1,781.1 476.2,782.1 476.4,783.0 476.6,783.6 476.8,784.7 476.9,785.1 477.1,785.7 477.2,786.3 477.4,787.0 477.8,788.6 478.2,789.8 478.6,791.0 479.0,791.3 479.4,791.1 479.8,791.7 480.1,790.7 480.4,790.3 480.6,789.6 480.9,789.0 481.2,788.0 481.5,787.0 481.8,785.8 482.1,784.8 482.5,784.2 482.8,783.4 483.2,782.5 483.5,781.5 483.9,781.0 484.3,780.1 484.6,779.1 485.0,778.4 485.4,777.4 485.9,777.2 486.3,775.9 486.7,775.9 487.5,775.6 488.3,775.3 489.2,775.2 490.1,774.3 490.9,774.3 491.8,774.4 492.4,773.6 492.9,773.3 493.5,772.5 494.1,771.8 494.7,771.0 495.3,770.2 495.8,769.7 496.4,768.9 497.0,768.7 497.8,767.9 498.5,767.9 499.3,767.7 500.0,766.5 500.8,766.6 501.5,766.4 502.2,765.7 502.6,765.1 503.0,763.9 503.4,763.9 503.8,763.1 504.2,762.0 504.6,761.5 504.9,760.5 505.3,759.6 505.6,758.6 506.0,757.9 506.3,757.2 506.6,756.6 506.8,755.7 507.1,754.6 507.3,753.7 507.6,752.9 507.8,752.3 508.1,751.2 508.3,750.2 508.5,749.4 508.7,748.9 509.0,748.1 509.2,747.6 509.4,746.7 509.9,745.6 510.4,744.9 510.8,744.5 511.3,743.6 511.9,743.5 512.4,744.2 513.0,744.1 513.6,744.9 514.2,745.7 514.9,746.1 515.6,746.8 516.2,746.2 516.8,745.7 517.4,745.6 518.0,744.6 518.7,744.0 519.4,743.5 520.1,742.8 520.8,741.4 521.3,741.1 521.8,740.7 522.3,739.8 522.8,738.8 523.3,738.4 523.8,737.7 524.4,737.0 524.9,736.1 525.5,735.5 526.1,734.6 526.7,733.9 527.4,733.4 528.0,732.6 528.6,732.1 529.2,731.5 529.9,731.6 530.5,731.0 531.1,730.3 531.8,730.2 532.6,729.7 533.4,729.6 534.2,728.9 535.1,728.8 536.1,728.4 537.2,728.2 537.9,727.9 538.5,727.2 539.3,727.2 540.0,726.6 540.8,726.6 541.6,726.7 542.4,726.2 543.3,726.3 544.2,726.0 545.0,725.4 545.9,725.3 546.8,725.0 547.7,724.9 548.7,724.5 549.6,724.6 550.5,724.7 551.4,724.2 552.4,723.8 553.3,723.6 554.2,723.5 555.1,723.2 555.9,723.2 556.8,723.5 557.7,722.7 558.5,722.3 559.3,722.5 560.2,722.4 561.0,722.0 561.9,721.9 562.7,722.0 563.6,721.6 564.4,721.8 565.2,721.8 566.1,721.1 566.9,721.1 567.8,721.0 568.6,720.9 569.5,720.8 570.3,720.6 571.2,720.2 572.1,720.4 572.9,719.6 573.8,719.6 574.7,719.7 575.6,719.1 576.5,718.6 577.3,718.5 578.1,718.4 579.0,718.0 579.8,718.3 580.7,717.4 581.6,717.2 582.4,717.5 583.3,716.9 584.2,716.9 585.1,716.5 586.0,715.9 586.9,715.8 587.8,715.5 588.7,715.3 589.6,715.3 590.5,714.6 591.3,714.6 592.2,713.9 593.0,714.1 593.9,713.5 594.7,713.9 595.5,713.2 596.3,713.0 597.0,712.6 597.8,712.5 598.5,712.5 599.5,712.5 600.5,711.8 601.4,711.3 602.2,711.5 602.9,711.0 603.7,711.0 604.4,711.1 605.1,711.0 605.8,710.7 606.5,710.5 607.3,710.9 608.1,710.2 609.0,710.4 609.9,710.0 610.9,709.9 612.1,710.1 613.3,710.4 614.0,710.1 614.7,710.0 615.4,710.0 616.1,710.0 616.9,709.1 617.7,709.2 618.4,709.0 619.2,709.2 620.1,709.2 620.9,708.8 621.7,708.8 622.6,708.7 623.5,708.6 624.4,708.2 625.3,708.5 626.2,708.1 627.1,708.4 628.0,707.9 629.0,707.7 629.9,707.4 630.8,707.3 631.8,707.0 632.8,707.4 633.8,707.1 634.7,707.1 635.7,706.9 636.7,706.7 637.7,706.8 638.7,706.6 639.7,705.9 640.7,706.1 641.7,705.5 642.7,705.8 643.5,706.1 644.3,705.8 645.1,705.5 645.9,705.6 646.7,705.5 647.6,705.1 648.4,704.7 649.2,704.8 650.1,704.3 650.9,704.3 651.8,704.8 652.7,704.3 653.5,704.1 654.4,704.4 655.3,704.0 656.2,703.5 657.1,703.5 657.9,703.5 658.8,703.6 659.7,703.4 660.6,703.5 661.5,702.8 662.4,702.6 663.3,702.4 664.2,702.5 665.1,702.1 666.0,702.7 667.0,702.2 667.9,702.0 668.8,701.5 669.7,701.8 670.6,701.4 671.5,700.9 672.4,701.7 673.3,701.0 674.2,701.0 675.1,701.0 676.0,700.4 676.9,701.0 677.7,700.7 678.6,700.6 679.5,700.3 680.4,700.4 681.3,700.3 682.2,699.4 683.1,699.5 684.0,699.6 684.9,699.7 685.8,698.7 686.7,699.1 687.6,699.1 688.5,699.1 689.5,699.0 690.4,698.6 691.3,698.7 692.3,697.8 693.2,697.7 694.1,698.2 695.0,698.0 696.0,697.7 696.9,697.1 697.8,697.5 698.7,696.7 699.6,696.9 700.5,697.3 701.4,697.1 702.3,696.8 703.2,696.2 704.1,696.4 705.0,696.2 705.9,696.4 706.8,695.7 707.6,695.9 708.5,696.0 709.3,695.5 710.1,695.2 711.0,695.4 711.8,695.3 712.6,694.8 713.4,694.9 714.1,694.5 714.9,694.9 715.7,694.9 716.4,694.5 717.5,694.2 718.6,694.4 719.6,694.0 720.7,693.4 721.7,693.6 722.7,693.4 723.7,693.1 724.7,693.1 725.7,692.9 726.7,692.9 727.6,692.4 728.5,692.8 729.4,692.8 730.3,692.1 731.2,692.6 732.1,691.6 732.9,691.5 733.7,692.0 734.5,691.7 735.3,691.5 736.1,691.1 736.8,691.7 737.6,690.9 738.3,691.3 739.0,690.8 739.6,691.2 740.3,691.3 740.9,690.6 742.3,690.6 743.6,691.2 744.6,690.9 745.5,691.2 746.3,691.2 747.1,690.9 747.8,691.2 748.4,691.4 749.1,691.4 749.9,691.6 750.7,691.8 751.5,690.9 752.2,691.3 753.0,690.6 753.7,690.9 754.4,690.0 755.1,689.7 755.9,690.0 756.7,689.4 757.5,689.0 758.4,688.5 759.4,688.4 760.5,688.9 761.2,688.0 761.9,688.1 762.6,687.9 763.3,688.5 764.1,687.6 764.9,687.4 765.7,687.3 766.5,688.2 767.3,687.8 768.2,687.4 769.0,687.9 769.9,687.9 770.8,687.0 771.8,686.8 772.7,687.1 773.7,687.5 774.6,686.5 775.6,686.4 776.7,686.6 777.7,686.1 778.5,686.9 779.2,686.5 780.0,686.7 780.8,686.2 781.6,686.1 782.5,685.5 783.3,685.4 784.2,685.9 785.1,685.1 785.9,685.9 786.8,685.2 787.7,685.9 788.6,684.9 789.5,685.5 790.5,684.2 791.4,684.9 792.3,683.8 793.2,685.1 794.1,684.5 795.1,683.8 796.0,683.9 796.9,684.0 797.8,684.3 798.7,683.9 799.6,683.3 800.5,682.9 801.4,683.8 802.3,682.6 803.2,683.2 804.1,682.6 805.0,683.0 805.8,682.3 806.7,682.0 807.6,682.4 808.5,681.7 809.4,682.0 810.4,682.3 811.3,681.6 812.2,682.0 813.1,681.2 814.0,681.6 814.9,681.8 815.8,680.7 816.6,681.5 817.5,679.9 818.4,679.3 819.3,679.7 820.2,679.0 821.0,679.5 821.9,680.3 822.7,678.8 823.6,680.2 824.4,679.6 825.2,678.7 826.0,679.6 826.8,678.1 827.8,677.7 828.7,678.6 829.6,678.6 830.5,678.2 831.5,678.7 832.3,678.9 833.2,677.1 834.1,677.1 835.0,676.8 835.8,678.1 836.7,677.6 837.5,677.3 838.4,677.5 839.2,676.8 840.0,676.3 840.9,676.9 841.7,677.0 842.5,675.6 843.3,677.0 844.1,674.9 844.9,675.1 845.7,676.6 846.5,676.1 847.4,674.9 848.4,676.4 849.3,674.4 850.3,675.7 851.2,675.0 852.2,675.0 853.1,675.4 854.0,675.6 855.0,674.6 855.9,675.0 856.8,674.2 857.7,674.3 858.5,674.1 859.3,673.9 860.1,674.3 860.9,673.2 861.6,673.9 862.3,673.8 863.0,673.5 863.6,673.7 864.9,672.3 866.0,672.7 866.8,671.7 867.5,673.8 868.1,672.5 868.7,671.5 869.3,673.5 870.0,673.3 870.8,673.1 871.6,672.7 872.4,672.1 873.2,671.8 874.0,672.7 874.8,671.6 875.5,671.0 876.2,671.7 877.0,671.4 877.7,669.0 878.4,668.5 879.0,668.0 879.7,667.6 880.3,667.5 880.9,667.2 881.5,668.6 882.1,668.4 882.7,669.1 883.2,668.8 883.7,670.6 884.2,670.4 884.7,672.4 885.0,672.1 885.2,672.9 885.4,673.7 885.6,674.1 885.8,675.0 886.0,676.2 886.2,676.5 886.4,677.5 886.6,678.7 886.8,679.8 887.0,680.8 887.1,681.6 887.2,682.4 887.3,683.1 887.5,683.8 887.6,684.7 887.7,685.7 887.8,686.4 887.9,687.2 888.0,688.2 888.1,689.0 888.3,690.0 888.4,691.1 888.5,691.9 888.6,693.0 888.7,694.0 888.8,695.0 888.9,695.8 889.1,696.7 889.2,697.8 889.3,698.6 889.4,699.5 889.5,700.4 889.6,701.3 889.7,702.2 889.8,703.0 889.9,703.9 890.0,704.9 890.1,705.8 890.2,706.7 890.3,707.5 890.4,708.4 890.5,709.3 890.6,710.3 890.6,711.1 890.7,712.0 890.8,713.0 890.9,713.9 891.0,714.8 891.1,715.5 891.3,716.4 891.4,717.2 891.5,718.2 891.6,719.0 891.7,719.7 891.8,720.7 892.0,721.7 892.1,722.5 892.3,723.6 892.4,724.5 892.6,725.5 892.7,726.3 892.9,727.4 893.0,728.1 893.2,729.1 893.4,729.9 893.5,730.7 893.7,731.6 893.8,732.6 894.0,733.3 894.2,734.1 894.3,734.7 894.5,735.4 894.6,736.2 894.8,736.8 895.1,737.9 895.4,739.0 895.7,739.8 896.1,740.7 896.4,741.7 896.7,742.1 897.0,742.9 897.3,743.5 897.6,744.1 897.9,744.8 898.5,745.8 899.0,746.4 899.5,747.4 900.0,747.9 900.5,747.5 900.9,747.7 901.2,747.4 901.6,746.5 901.9,745.7 902.2,744.6 902.6,742.9 902.7,742.4 902.8,741.8 902.9,741.0 903.0,740.2 903.1,739.5 903.2,738.6 903.4,737.8 903.5,736.9 903.6,735.9 903.7,735.0 903.8,734.0 903.9,732.9 904.0,732.0 904.1,731.0 904.2,730.0 904.3,729.1 904.5,728.1 904.6,727.1 904.7,726.1 904.8,725.2 904.9,724.3 905.0,723.5 905.1,722.7 905.2,721.8 905.4,720.9 905.5,720.0 905.6,719.0 905.7,718.0 905.8,717.2 905.9,716.3 906.1,715.4 906.2,714.5 906.3,713.6 906.4,712.8 906.5,712.1 906.6,711.2 906.7,710.4 906.9,709.7 907.0,708.9 907.1,708.1 907.2,707.4 907.4,706.3 907.6,705.3 907.7,704.2 907.9,703.3 908.1,702.3 908.3,701.4 908.4,700.7 908.6,699.7 908.8,699.1 909.0,698.3 909.1,697.7 909.3,697.1 909.5,696.4 910.1,695.1 910.6,694.6 911.2,694.1 911.9,694.2 912.5,694.5 913.1,694.7 913.7,695.7 914.3,696.7 915.0,697.1 915.5,697.7 915.9,698.5 916.4,699.8 916.9,700.5 917.4,700.9 917.9,701.4 918.4,701.7 919.1,702.0 919.8,701.4 920.5,700.8 921.2,700.6 921.9,699.6 922.7,700.0 923.5,700.1 924.2,699.5 925.0,699.2 925.5,698.8 926.0,698.5 926.5,697.6 927.0,697.4 927.5,696.4 928.1,696.0 928.5,695.2 928.9,694.6 929.3,693.6 929.8,693.1 930.2,692.4 930.7,691.5 931.1,690.8 931.6,690.5 932.0,689.5 932.5,688.6 933.0,688.1 933.4,687.8 933.9,687.2 934.4,685.8 934.9,685.0 935.4,685.4 935.9,684.9 936.5,684.2 937.2,682.9 937.9,682.1 938.5,681.6 939.2,681.4 939.9,682.5 940.5,681.5 941.3,681.2 942.1,681.5 942.9,681.8 943.6,682.1 944.4,681.1 945.0,681.4 945.5,680.4 946.1,679.5 946.7,679.8 947.2,679.2 947.8,677.9 948.3,676.9 948.8,677.1 949.3,675.3 949.7,674.0 950.2,674.5 950.6,673.3 951.0,672.2 951.4,671.1 952.0,670.2 952.5,669.4 953.1,669.4 953.7,669.7 954.3,670.2 954.9,670.0 955.5,670.5 956.2,671.3 956.8,671.8 957.6,671.7 958.3,672.3 959.1,670.3 959.9,671.4 960.7,670.7 961.4,671.7 962.2,672.8 963.0,671.1 963.5,671.5 964.1,670.7 964.6,669.3 965.2,669.8 965.8,669.4 966.4,668.7 966.9,668.9 967.5,669.4 968.0,669.2 968.6,669.1 969.2,670.9 969.8,672.0 970.3,672.8 970.8,673.0 971.1,673.6 971.4,675.1 971.7,675.9 972.0,676.3 972.3,676.9 972.6,677.6 972.8,678.7 973.1,679.5 973.4,680.6 973.6,681.5 973.9,682.6 974.1,683.4 974.4,684.2 974.6,684.7 974.9,685.5 975.1,686.3 975.3,687.5 975.6,688.1 975.8,688.8 976.1,689.3 976.3,690.6 976.5,691.3 976.8,692.2 977.0,693.4 977.2,694.1 977.3,694.7 977.5,695.6 977.6,696.5 977.8,697.3 977.9,697.9 978.0,698.9 978.2,699.7 978.3,700.5 978.5,701.6 978.6,702.5 978.8,703.4 978.9,704.2 979.1,705.2 979.2,706.0 979.4,707.0 979.5,707.8 979.7,708.8 979.8,709.6 980.0,710.6 980.2,711.4 980.3,712.1 980.5,713.1 980.6,713.9 980.8,714.7 980.9,715.6 981.1,716.5 981.3,717.3 981.4,718.0 981.6,718.9 981.8,719.7 981.9,720.7 982.1,721.4 982.2,722.3 982.4,723.1 982.6,724.0 982.7,724.9 982.9,725.7 983.0,726.6 983.2,727.5 983.3,728.3 983.5,729.2 983.6,730.0 983.8,731.0 983.9,731.8 984.1,732.7 984.2,733.6 984.4,734.4 984.5,735.4 984.7,736.3 984.8,737.3 985.0,738.1 985.1,739.0 985.3,739.8 985.4,740.7 985.6,741.7 985.7,742.5 985.9,743.4 986.0,744.4 986.2,745.1 986.3,746.0 986.5,746.9 986.6,747.8 986.8,748.7 986.9,749.5 987.1,750.5 987.2,751.3 987.4,752.1 987.5,753.1 987.7,754.0 987.8,754.9 988.0,755.6 988.2,756.6 988.3,757.3 988.5,758.1 988.6,758.9 988.8,759.8 988.9,760.8 989.1,761.5 989.2,762.3 989.4,763.1 989.6,764.0 989.7,765.0 989.9,766.0 990.1,766.9 990.3,767.8 990.4,768.6 990.6,769.5 990.8,770.5 991.0,771.3 991.1,772.3 991.3,773.2 991.5,774.0 991.6,774.7 991.8,775.5 992.0,776.4 992.2,777.1 992.3,778.0 992.5,778.6 992.7,779.6 993.0,780.6 993.2,781.6 993.5,782.4 993.7,783.5 993.9,784.3 994.2,785.0 994.4,786.0 994.6,786.7 994.9,787.6 995.1,788.3 995.4,788.7 995.6,789.5 996.0,790.4 996.4,791.4 996.7,792.3 997.1,793.4 997.5,794.0 997.9,794.4 998.3,794.6 998.7,794.9 999.2,795.1 999.8,794.8 1000.4,794.1 1000.9,793.3 1001.5,792.4 1002.1,791.4 1002.6,790.3 1002.9,789.7 1003.2,788.9 1003.5,788.4 1003.7,787.5 1004.0,786.8 1004.2,785.8 1004.5,785.0 1004.8,783.9 1005.0,783.2 1005.2,782.1 1005.5,781.1 1005.7,780.1 1005.9,779.4 1006.0,778.7 1006.2,777.7 1006.3,776.8 1006.5,775.9 1006.6,775.0 1006.8,774.1 1006.9,773.2 1007.0,772.2 1007.2,771.3 1007.3,770.4 1007.4,769.5 1007.6,768.5 1007.7,767.9 1007.9,767.0 1008.0,766.3 1008.2,765.1 1008.5,764.2 1008.7,763.0 1008.9,762.0 1009.1,760.9 1009.4,760.0 1009.6,759.3 1009.8,758.7 1010.1,758.1 1010.3,758.0 1010.8,757.6 1011.2,758.0 1011.7,758.7 1012.1,760.0 1012.6,761.7 1012.7,762.1 1012.9,762.8 1013.0,763.6 1013.2,764.6 1013.4,765.5 1013.5,766.4 1013.7,767.6 1013.8,768.6 1014.0,769.5 1014.1,770.5 1014.3,771.7 1014.4,772.5 1014.6,773.4 1014.7,774.3 1014.9,774.9 1015.0,775.5 1015.3,777.1 1015.7,778.3 1016.0,779.4 1016.3,779.9 1016.6,780.2 1017.0,780.0 1017.2,780.1 1017.5,779.6 1017.7,779.0 1018.0,778.2 1018.3,777.3 1018.5,776.6 1018.8,775.6 1019.1,774.4 1019.3,773.6 1019.6,772.5 1019.8,771.9 1019.9,771.0 1020.1,770.2 1020.2,769.3 1020.4,768.5 1020.5,767.5 1020.7,766.6 1020.9,765.7 1021.0,764.7 1021.2,763.8 1021.3,762.9 1021.5,762.1 1021.7,761.3 1021.8,760.6 1022.0,760.1 1022.4,758.9 1022.8,757.5 1023.2,756.7 1023.6,755.9 1024.1,755.2 1024.5,755.1 1025.0,754.8 1025.5,754.7 1026.0,755.1 1026.6,755.9 1027.2,756.7 1027.8,757.4 1028.3,758.5 1028.9,759.4 1029.3,760.1 1029.8,760.7 1030.2,761.8 1030.6,762.5 1031.1,763.5 1031.5,764.3 1031.9,764.9 1032.4,765.2 1032.8,765.5 1033.3,765.4 1033.8,765.1 1034.3,764.3 1034.8,763.5 1035.3,762.7 1035.8,761.9 1036.3,760.6 1036.7,760.0 1037.1,759.4 1037.5,758.5 1037.9,757.4 1038.3,756.7 1038.7,756.1 1039.1,755.3 1039.4,754.4 1039.8,753.9 1040.4,753.3 1041.0,752.2 1041.5,751.8 1042.1,751.3 1042.6,751.8 1043.0,752.0 1043.4,752.2 1043.7,752.8 1044.1,753.6 1044.5,754.4 1044.8,755.6 1045.2,757.1 1045.3,757.6 1045.5,758.2 1045.6,759.0 1045.7,759.6 1045.8,760.3 1046.0,761.2 1046.1,761.9 1046.2,762.8 1046.3,763.7 1046.4,764.6 1046.6,765.4 1046.7,766.5 1046.8,767.4 1046.9,768.4 1047.1,769.3 1047.2,770.4 1047.4,771.4 1047.5,772.5 1047.6,773.3 1047.7,774.0 1047.8,774.7 1047.9,775.5 1048.0,776.4 1048.1,777.2 1048.2,778.0 1048.4,778.9 1048.5,779.7 1048.6,780.6 1048.7,781.5 1048.8,782.3 1048.9,783.3 1049.1,784.1 1049.2,785.1 1049.3,786.0 1049.4,787.0 1049.5,787.8 1049.7,788.6 1049.8,789.5 1049.9,790.5 1050.0,791.4 1050.1,792.2 1050.3,793.1 1050.4,793.9 1050.5,794.9 1050.6,795.7 1050.7,796.7 1050.9,797.4 1051.0,798.4 1051.1,799.4 1051.2,800.3 1051.4,801.1 1051.5,802.1 1051.6,803.1 1051.7,804.0 1051.9,805.0 1052.0,805.9 1052.1,806.8 1052.3,807.7 1052.4,808.6 1052.5,809.5 1052.6,810.3 1052.8,811.3 1052.9,812.1 1053.0,812.8 1053.1,813.6 1053.2,814.4 1053.4,815.3 1053.5,816.0 1053.6,816.7 1053.7,817.4 1053.9,818.5 1054.0,819.6 1054.2,820.6 1054.4,821.7 1054.5,822.6 1054.7,823.4 1054.8,824.4 1055.0,825.2 1055.1,825.8 1055.3,826.6 1055.4,827.4 1055.6,828.0 1055.7,828.6 1055.9,829.2 1056.0,829.7 1056.4,831.1 1056.7,831.9 1057.1,832.8 1057.5,833.0 1058.0,833.1 1058.5,833.1 1059.1,832.6 1059.7,832.5 1060.4,831.8 1061.0,831.1 1061.5,829.9 1061.7,829.3 1061.9,828.8 1062.0,828.0 1062.2,827.5 1062.4,826.6 1062.5,825.9 1062.7,825.1 1062.8,824.2 1062.9,823.4 1063.1,822.5 1063.2,821.7 1063.4,820.6 1063.5,819.7 1063.6,818.6 1063.8,817.3 1063.9,816.6 1064.0,815.9 1064.1,815.3 1064.2,814.5 1064.3,813.7 1064.4,812.8 1064.4,812.1 1064.5,811.1 1064.6,810.3 1064.7,809.5 1064.8,808.6 1064.9,807.6 1065.0,806.8 1065.1,805.8 1065.2,804.9 1065.3,804.0 1065.4,803.1 1065.5,802.2 1065.5,801.2 1065.6,800.3 1065.7,799.4 1065.8,798.5 1065.9,797.5 1066.0,796.6 1066.1,795.7 1066.2,794.8 1066.3,793.9 1066.4,793.0 1066.5,792.2 1066.5,791.3 1066.6,790.4 1066.7,789.5 1066.8,788.6 1066.9,787.7 1067.0,786.8 1067.1,785.9 1067.2,785.0 1067.2,784.1 1067.3,783.2 1067.4,782.3 1067.5,781.4 1067.6,780.5 1067.7,779.5 1067.8,778.6 1067.9,777.8 1068.0,776.8 1068.0,776.0 1068.1,775.1 1068.2,774.2 1068.3,773.3 1068.4,772.5 1068.5,771.6 1068.6,770.6 1068.7,769.8 1068.8,768.8 1068.9,767.9 1069.0,767.1 1069.1,766.0 1069.2,765.2 1069.3,764.3 1069.4,763.3 1069.5,762.5 1069.6,761.5 1069.6,760.7 1069.7,759.7 1069.8,758.9 1069.9,758.0 1070.0,757.1 1070.1,756.2 1070.2,755.5 1070.3,754.7 1070.4,753.8 1070.5,753.1 1070.6,752.3 1070.7,751.5 1070.8,750.9 1070.9,749.8 1071.1,748.7 1071.2,747.7 1071.3,746.9 1071.4,746.1 1071.6,745.1 1071.7,744.4 1071.8,743.5 1071.9,742.8 1072.1,742.1 1072.2,741.2 1072.4,740.5 1072.5,739.6 1072.7,738.7 1072.9,737.8 1073.1,736.7 1073.3,736.0 1073.4,735.4 1073.6,734.6 1073.8,733.8 1074.0,732.8 1074.2,732.2 1074.4,731.2 1074.6,730.5 1074.8,729.6 1075.0,728.7 1075.3,727.9 1075.5,726.9 1075.7,726.2 1075.9,725.4 1076.1,724.5 1076.4,723.4 1076.6,722.7 1076.8,721.7 1077.0,720.9 1077.3,720.0 1077.5,719.1 1077.7,718.2 1077.9,717.5 1078.1,716.5 1078.3,715.7 1078.5,714.9 1078.7,714.1 1078.9,713.0 1079.1,712.3 1079.3,711.4 1079.5,710.5 1079.7,709.6 1079.9,708.8 1080.1,707.9 1080.3,707.0 1080.6,705.9 1080.8,705.1 1080.9,704.4 1081.1,703.5 1081.3,702.6 1081.5,701.7 1081.7,700.9 1081.9,700.2 1082.1,699.4 1082.2,698.8 1082.4,698.0 1082.6,697.0 1082.9,695.9 1083.1,694.9 1083.3,694.0 1083.5,692.8 1083.7,692.0 1083.9,691.1 1084.0,690.1 1084.2,689.4 1084.4,688.3 1084.6,687.6 1084.8,686.8 1084.9,686.0 1085.1,685.3 1085.3,684.8 1085.5,684.1 1085.9,682.7 1086.4,681.7 1086.8,680.6 1087.3,679.5 1087.7,679.1 1088.2,678.8 1088.6,678.6 1089.0,679.1 1089.3,679.4 1089.7,680.0 1090.0,680.4 1090.4,681.3 1090.8,682.5 1091.1,683.5 1091.4,684.5 1091.7,685.7 1091.8,686.4 1092.0,686.9 1092.1,687.7 1092.2,688.3 1092.3,688.8 1092.4,689.6 1092.5,690.3 1092.6,691.1 1092.7,691.8 1092.8,692.7 1092.9,693.5 1093.0,694.4 1093.1,695.4 1093.2,696.5 1093.3,697.6 1093.4,698.7 1093.5,700.0 1093.6,700.7 1093.6,701.4 1093.7,702.1 1093.7,702.9 1093.8,703.7 1093.8,704.5 1093.9,705.3 1093.9,706.1 1094.0,707.1 1094.0,707.9 1094.1,708.9 1094.1,709.8 1094.2,710.7 1094.2,711.6 1094.3,712.6 1094.3,713.6 1094.4,714.5 1094.4,715.5 1094.5,716.5 1094.5,717.5 1094.6,718.5 1094.6,719.4 1094.7,720.4 1094.7,721.4 1094.8,722.3 1094.8,723.3 1094.9,724.2 1095.0,725.1 1095.0,726.0 1095.1,727.0 1095.1,727.8 1095.2,728.7 1095.2,729.5 1095.3,730.2 1095.4,731.3 1095.5,732.3 1095.5,733.3 1095.6,734.3 1095.7,735.3 1095.8,736.3 1095.8,737.2 1095.9,738.3 1096.0,739.2 1096.1,740.1 1096.2,741.0 1096.2,742.1 1096.3,742.9 1096.4,743.8 1096.5,744.7 1096.6,745.6 1096.7,746.6 1096.7,747.4 1096.8,748.2 1096.9,749.1 1097.0,749.9 1097.1,750.6 1097.2,751.4 1097.2,752.2 1097.3,753.0 1097.4,753.7 1097.5,754.4 1097.6,755.5 1097.8,756.5 1097.9,757.4 1098.1,758.4 1098.2,759.2 1098.4,759.8 1098.5,760.7 1098.6,761.2 1098.8,762.0 1098.9,762.8 1099.1,763.4 1099.2,764.2 1099.4,765.0 1099.5,766.0 1099.7,766.9 1099.8,768.0 1099.9,768.7 1100.0,769.4 1100.1,770.2 1100.1,770.9 1100.2,771.7 1100.3,772.4 1100.4,773.2 1100.5,774.0 1100.6,774.9 1100.6,775.6 1100.7,776.5 1100.8,777.4 1100.9,778.2 1101.0,779.1 1101.1,780.1 1101.2,781.0 1101.2,781.8 1101.3,782.8 1101.4,783.7 1101.5,784.6 1101.6,785.7 1101.7,786.7 1101.7,787.6 1101.8,788.6 1101.9,789.6 1102.0,790.6 1102.1,791.4 1102.1,792.2 1102.2,793.0 1102.3,793.8 1102.3,794.6 1102.4,795.5 1102.5,796.3 1102.5,797.3 1102.6,798.2 1102.7,799.1 1102.7,799.9 1102.8,800.9 1102.9,801.7 1102.9,802.7 1103.0,803.6 1103.1,804.5 1103.1,805.5 1103.2,806.5 1103.3,807.3 1103.3,808.2 1103.4,809.2 1103.5,810.1 1103.6,811.0 1103.6,811.9 1103.7,812.9 1103.8,813.8 1103.8,814.6 1103.9,815.5 1104.0,816.4 1104.0,817.3 1104.1,818.2 1104.2,819.1 1104.2,819.9 1104.3,820.7 1104.4,821.6 1104.5,822.6 1104.5,823.5 1104.6,824.4 1104.7,825.3 1104.8,826.2 1104.8,827.1 1104.9,827.9 1105.0,828.7 1105.1,829.6 1105.1,830.5 1105.2,831.3 1105.3,832.2 1105.4,833.0 1105.4,833.8 1105.5,834.7 1105.6,835.4 1105.7,836.3 1105.8,837.2 1105.8,838.0 1105.9,838.8 1106.0,839.7 1106.1,840.6 1106.2,841.5 1106.2,842.4 1106.3,843.2 1106.4,844.2 1106.5,845.0 1106.6,846.0 1106.7,846.9 1106.8,847.7 1106.8,848.6 1106.9,849.4 1107.0,850.4 1107.1,851.3 1107.2,852.2 1107.3,853.2 1107.4,854.2 1107.5,855.1 1107.6,856.0 1107.7,857.1 1107.8,858.0 1107.9,859.1 1108.0,860.0 1108.1,861.0 1108.1,862.0 1108.2,862.9 1108.3,863.8 1108.4,864.8 1108.5,865.7 1108.6,866.7 1108.7,867.5 1108.8,868.4 1108.9,869.3 1109.0,870.1 1109.1,870.9 1109.2,871.7 1109.3,872.5 1109.4,873.2 1109.4,873.8 1109.5,874.5 1109.6,875.2 1109.8,876.6 1110.0,877.9 1110.2,879.2 1110.4,880.2 1110.6,881.3 1110.8,882.1 1110.9,883.0 1111.1,883.6 1111.3,884.4 1111.4,884.8 1111.6,885.4 1111.8,885.9 1111.9,886.5 1112.4,888.0 1112.9,888.6 1113.4,888.2 1113.7,887.7 1114.0,887.4 1114.3,886.7 1114.6,886.1 1114.9,885.1 1115.3,884.2 1115.6,882.8 1115.7,882.2 1115.9,881.4 1116.0,880.7 1116.2,879.8 1116.3,878.8 1116.5,878.0 1116.6,877.1 1116.8,876.0 1116.9,875.1 1117.0,874.1 1117.2,873.1 1117.3,872.2 1117.5,871.4 1117.6,870.5 1117.8,869.8 1117.9,869.3 1118.2,867.9 1118.5,866.8 1118.8,865.9 1119.2,865.0 1119.5,864.4 1119.8,863.9 1120.1,864.0 1120.4,864.1 1120.8,864.5 1121.1,864.7 1121.5,865.6 1121.8,866.5 1122.1,867.6 1122.4,869.2 1122.5,869.8 1122.6,870.3 1122.6,871.1 1122.7,871.7 1122.8,872.4 1122.9,873.1 1122.9,873.9 1123.0,874.7 1123.1,875.6 1123.1,876.4 1123.2,877.3 1123.2,878.3 1123.3,879.1 1123.4,880.1 1123.4,881.1 1123.5,882.1 1123.6,883.1 1123.7,884.2 1123.7,885.2 1123.8,886.2 1123.9,887.3 1124.0,888.1 1124.0,888.8 1124.1,889.6 1124.2,890.3 1124.2,891.1 1124.3,891.9 1124.4,892.7 1124.4,893.6 1124.5,894.4 1124.6,895.2 1124.7,896.1 1124.7,897.0 1124.8,897.9 1124.9,898.8 1125.0,899.7 1125.0,900.5 1125.1,901.5 1125.2,902.4 1125.3,903.2 1125.4,904.2 1125.4,905.1 1125.5,906.1 1125.6,906.9 1125.7,908.0 1125.7,908.9 1125.8,909.8 1125.9,910.6 1126.0,911.6 1126.1,912.5 1126.1,913.4 1126.2,914.4 1126.3,915.2 1126.3,916.1 1126.4,916.9 1126.5,917.9 1126.5,918.7 1126.6,919.7 1126.7,920.5 1126.7,921.4 1126.8,922.3 1126.9,923.2 1126.9,924.2 1127.0,925.0 1127.1,926.0 1127.1,926.8 1127.2,927.8 1127.3,928.7 1127.3,929.6 1127.4,930.5 1127.4,931.5 1127.5,932.4 1127.6,933.3 1127.6,934.2 1127.7,935.1 1127.8,936.0 1127.8,936.9 1127.9,937.7 1128.0,938.6 1128.0,939.5 1128.1,940.3 1128.2,941.2 1128.2,942.1 1128.3,942.8 1128.3,943.7 1128.4,944.5 1128.5,945.5 1128.6,946.5 1128.6,947.4 1128.7,948.5 1128.8,949.5 1128.9,950.4 1128.9,951.5 1129.0,952.3 1129.1,953.4 1129.2,954.3 1129.2,955.2 1129.3,956.2 1129.4,957.1 1129.5,958.0 1129.5,958.9 1129.6,959.8 1129.7,960.6 1129.8,961.5 1129.8,962.4 1129.9,963.2 1130.0,964.1 1130.0,964.9 1130.1,965.7 1130.2,966.5 1130.3,967.3 1130.3,967.9 1130.4,968.7 1130.5,969.9 1130.6,971.0 1130.7,972.0 1130.8,973.1 1130.9,974.1 1131.0,975.1 1131.1,976.1 1131.2,977.1 1131.3,977.9 1131.4,978.8 1131.5,979.7 1131.6,980.4 1131.7,981.2 1131.9,981.9 1132.0,982.6 1132.1,983.2 1132.2,983.7 1132.6,985.4 1133.1,986.4 1133.6,987.4 1134.0,987.3 1134.5,987.5 1134.8,987.4 1135.1,987.1 1135.5,986.3 1135.8,985.8 1136.1,984.8 1136.4,983.6 1136.7,982.3 1136.8,981.6 1136.9,981.1 1137.0,980.3 1137.1,979.6 1137.2,978.9 1137.3,978.2 1137.4,977.4 1137.5,976.8 1137.6,975.9 1137.7,975.1 1137.8,974.2 1137.9,973.2 1138.0,972.2 1138.1,971.2 1138.1,970.1 1138.2,969.1 1138.3,967.9 1138.4,966.8 1138.5,965.6 1138.5,964.9 1138.6,964.2 1138.6,963.4 1138.7,962.7 1138.7,961.9 1138.8,961.2 1138.8,960.4 1138.9,959.6 1138.9,958.8 1139.0,958.0 1139.0,957.1 1139.1,956.3 1139.1,955.4 1139.2,954.5 1139.2,953.7 1139.2,952.8 1139.3,951.9 1139.3,951.0 1139.4,950.0 1139.4,949.1 1139.5,948.2 1139.5,947.2 1139.5,946.3 1139.6,945.3 1139.6,944.3 1139.7,943.4 1139.7,942.4 1139.8,941.4 1139.8,940.5 1139.8,939.5 1139.9,938.5 1139.9,937.5 1140.0,936.5 1140.0,935.5 1140.0,934.7 1140.1,933.8 1140.1,933.0 1140.1,932.2 1140.2,931.4 1140.2,930.6 1140.2,929.7 1140.2,928.9 1140.3,928.0 1140.3,927.1 1140.3,926.3 1140.4,925.4 1140.4,924.6 1140.4,923.7 1140.4,922.8 1140.5,921.9 1140.5,921.1 1140.5,920.1 1140.5,919.2 1140.6,918.4 1140.6,917.5 1140.6,916.5 1140.6,915.6 1140.7,914.7 1140.7,913.8 1140.7,912.9 1140.8,912.0 1140.8,911.0 1140.8,910.1 1140.8,909.1 1140.9,908.2 1140.9,907.3 1140.9,906.3 1141.0,905.4 1141.0,904.5 1141.0,903.5 1141.0,902.6 1141.1,901.6 1141.1,900.7 1141.1,899.7 1141.2,898.7 1141.2,897.8 1141.2,896.9 1141.3,896.1 1141.3,895.2 1141.3,894.4 1141.4,893.5 1141.4,892.6 1141.4,891.7 1141.4,890.8 1141.5,889.8 1141.5,888.9 1141.5,888.0 1141.6,887.1 1141.6,886.1 1141.6,885.2 1141.7,884.3 1141.7,883.3 1141.7,882.4 1141.8,881.4 1141.8,880.5 1141.8,879.5 1141.9,878.6 1141.9,877.7 1141.9,876.7 1142.0,875.7 1142.0,874.8 1142.1,873.9 1142.1,872.9 1142.1,872.0 1142.2,871.0 1142.2,870.1 1142.2,869.2 1142.3,868.3 1142.3,867.4 1142.3,866.5 1142.4,865.6 1142.4,864.7 1142.4,863.8 1142.5,863.0 1142.5,862.1 1142.5,861.3 1142.6,860.4 1142.6,859.6 1142.6,858.8 1142.7,858.0 1142.7,857.3 1142.7,856.5 1142.8,855.7 1142.8,855.0 1142.8,853.9 1142.9,852.8 1142.9,851.7 1143.0,850.7 1143.0,849.7 1143.1,848.6 1143.1,847.7 1143.2,846.7 1143.2,845.8 1143.2,844.9 1143.3,843.9 1143.3,843.0 1143.4,842.2 1143.4,841.3 1143.4,840.4 1143.5,839.6 1143.5,838.8 1143.6,838.0 1143.6,837.1 1143.7,836.4 1143.7,835.6 1143.8,834.8 1143.8,834.0 1143.9,833.2 1143.9,832.5 1144.0,831.7 1144.0,831.0 1144.1,830.3 1144.2,829.5 1144.2,828.8 1144.3,827.9 1144.4,827.0 1144.5,825.9 1144.6,824.9 1144.8,824.0 1144.9,823.1 1145.0,822.2 1145.1,821.4 1145.3,820.4 1145.4,819.7 1145.6,818.8 1145.7,818.0 1145.9,817.2 1146.0,816.3 1146.1,815.6 1146.3,814.8 1146.4,813.8 1146.6,813.1 1146.7,812.2 1146.9,811.4 1147.0,810.6 1147.2,809.7 1147.3,808.7 1147.4,807.9 1147.5,807.1 1147.7,806.1 1147.8,805.3 1147.9,804.4 1148.0,803.6 1148.2,802.7 1148.3,801.8 1148.4,800.9 1148.5,799.9 1148.7,799.1 1148.8,798.2 1148.9,797.3 1149.0,796.4 1149.2,795.5 1149.3,794.6 1149.4,793.7 1149.5,792.8 1149.7,791.9 1149.8,791.0 1149.9,790.2 1150.0,789.3 1150.2,788.5 1150.3,787.7 1150.4,786.7 1150.6,785.9 1150.7,785.1 1150.8,784.1 1151.0,783.4 1151.1,782.4 1151.2,781.6 1151.3,780.8 1151.5,779.9 1151.6,779.1 1151.7,778.2 1151.9,777.5 1152.0,776.6 1152.1,775.8 1152.3,775.1 1152.4,774.2 1152.5,773.3 1152.6,772.4 1152.8,771.6 1152.9,770.7 1153.0,769.9 1153.2,768.9 1153.3,768.0 1153.4,767.1 1153.5,766.4 1153.7,765.5 1153.8,764.6 1153.9,763.7 1154.0,762.9 1154.1,762.0 1154.2,761.1 1154.4,760.1 1154.5,759.2 1154.6,758.3 1154.7,757.4 1154.8,756.5 1155.0,755.5 1155.1,754.5 1155.2,753.6 1155.3,752.9 1155.4,751.9 1155.5,751.0 1155.7,750.1 1155.8,749.3 1155.9,748.5 1156.0,747.7 1156.1,746.9 1156.2,746.1 1156.3,745.4 1156.5,744.3 1156.6,743.3 1156.7,742.1 1156.9,741.1 1157.0,740.2 1157.2,739.1 1157.3,738.3 1157.4,737.3 1157.6,736.4 1157.7,735.6 1157.8,734.6 1158.0,734.0 1158.1,733.0 1158.2,732.4 1158.3,731.6 1158.5,731.0 1158.6,730.3 1158.9,729.1 1159.2,727.8 1159.4,726.9 1159.7,726.0 1160.0,725.5 1160.2,724.6 1160.5,724.0 1160.8,723.6 1161.4,722.5 1161.9,722.1 1162.5,721.7 1163.1,722.0 1163.5,722.4 1163.9,722.8 1164.4,723.3 1164.8,724.0 1165.3,724.9 1165.7,725.9 1166.1,727.2 1166.3,728.0 1166.4,728.6 1166.5,729.4 1166.7,730.2 1166.8,731.1 1167.0,731.8 1167.1,732.8 1167.2,733.7 1167.4,734.7 1167.5,735.6 1167.6,736.6 1167.8,737.6 1167.9,738.6 1168.0,739.6 1168.1,740.5 1168.3,741.3 1168.4,742.2 1168.5,743.1 1168.7,744.1 1168.8,745.1 1168.9,746.1 1169.1,747.1 1169.2,748.0 1169.3,749.0 1169.5,750.0 1169.6,751.0 1169.7,752.1 1169.9,752.9 1170.0,753.9 1170.1,754.6 1170.2,755.4 1170.4,756.2 1170.5,756.9 1170.6,757.5 1171.0,758.9 1171.3,760.0 1171.7,760.7 1172.0,761.1 1172.4,761.2 1172.7,760.9 1173.0,761.0 1173.3,760.3 1173.7,759.8 1174.0,758.8 1174.3,757.6 1174.7,755.8 1174.8,755.3 1174.9,754.7 1175.0,754.0 1175.1,753.4 1175.2,752.5 1175.3,751.8 1175.5,750.9 1175.6,750.1 1175.7,749.2 1175.8,748.3 1175.9,747.3 1176.0,746.5 1176.1,745.4 1176.3,744.5 1176.4,743.6 1176.5,742.6 1176.6,741.6 1176.7,740.5 1176.8,739.6 1176.9,738.6 1177.1,737.6 1177.2,736.6 1177.3,735.8 1177.4,734.8 1177.5,734.0 1177.6,733.0 1177.7,732.2 1177.8,731.4 1177.9,730.4 1178.0,729.6 1178.1,728.6 1178.3,727.7 1178.4,726.9 1178.5,725.9 1178.6,725.0 1178.7,724.0 1178.8,723.2 1178.9,722.2 1179.0,721.4 1179.1,720.5 1179.2,719.5 1179.3,718.7 1179.4,717.8 1179.5,716.9 1179.6,716.0 1179.7,715.3 1179.8,714.4 1179.9,713.7 1180.0,712.9 1180.1,712.2 1180.2,711.1 1180.4,710.0 1180.5,709.0 1180.6,707.9 1180.8,706.9 1180.9,706.0 1181.0,704.9 1181.1,704.0 1181.2,703.1 1181.4,702.3 1181.5,701.4 1181.6,700.6 1181.7,699.8 1181.8,699.1 1181.9,698.4 1182.1,697.7 1182.2,697.0 1182.5,695.8 1182.8,694.6 1183.2,693.6 1183.5,692.9 1183.8,692.1 1184.1,692.0 1184.5,691.7 1184.8,692.1 1185.1,692.5 1185.4,692.7 1185.7,693.2 1186.0,693.8 1186.3,695.0 1186.6,695.8 1186.9,697.3 1187.2,698.6 1187.3,699.1 1187.4,699.9 1187.5,700.5 1187.6,701.3 1187.7,701.9 1187.8,702.7 1187.9,703.5 1188.0,704.4 1188.1,705.2 1188.2,706.1 1188.3,707.0 1188.4,708.0 1188.5,708.9 1188.6,709.9 1188.7,710.8 1188.8,711.8 1188.8,712.8 1188.9,713.8 1189.0,714.7 1189.1,715.7 1189.2,716.8 1189.3,717.8 1189.4,718.7 1189.5,719.6 1189.6,720.6 1189.7,721.3 1189.7,722.1 1189.8,723.0 1189.9,723.8 1190.0,724.7 1190.0,725.5 1190.1,726.4 1190.2,727.3 1190.3,728.1 1190.3,729.0 1190.4,729.9 1190.5,730.8 1190.6,731.7 1190.6,732.6 1190.7,733.6 1190.8,734.5 1190.9,735.3 1190.9,736.2 1191.0,737.1 1191.1,738.1 1191.2,739.1 1191.2,740.0 1191.3,740.8 1191.4,741.7 1191.5,742.7 1191.5,743.6 1191.6,744.5 1191.7,745.4 1191.8,746.2 1191.8,747.1 1191.9,748.0 1192.0,748.9 1192.1,749.8 1192.1,750.6 1192.2,751.6 1192.3,752.5 1192.4,753.4 1192.4,754.3 1192.5,755.2 1192.6,756.1 1192.7,757.1 1192.7,758.0 1192.8,758.9 1192.9,759.8 1193.0,760.7 1193.0,761.6 1193.1,762.5 1193.2,763.3 1193.3,764.3 1193.3,765.2 1193.4,766.0 1193.5,766.9 1193.6,767.7 1193.6,768.6 1193.7,769.3 1193.8,770.2 1193.9,771.0 1193.9,771.8 1194.0,772.5 1194.1,773.5 1194.2,774.6 1194.3,775.7 1194.4,776.7 1194.5,777.8 1194.6,778.7 1194.7,779.7 1194.9,780.8 1195.0,781.7 1195.1,782.7 1195.2,783.6 1195.3,784.5 1195.4,785.4 1195.5,786.3 1195.6,787.0 1195.7,788.0 1195.8,788.7 1195.9,789.4 1196.0,790.2 1196.1,790.7 1196.2,791.5 1196.3,792.0 1196.6,793.6 1196.9,795.0 1197.1,795.8 1197.4,796.7 1197.6,797.2 1197.9,797.3 1198.2,797.7 1198.5,797.0 1198.7,796.8 1199.0,796.2 1199.3,795.3 1199.6,794.5 1199.9,793.6 1200.2,792.5 1200.5,791.5 1200.8,790.7 1201.0,789.8 1201.2,789.1 1201.3,788.4 1201.5,787.4 1201.7,786.5 1201.8,785.5 1202.0,784.7 1202.2,783.7 1202.3,782.8 1202.5,782.0 1202.7,781.2 1202.8,780.6 1203.0,779.9 1203.4,778.8 1203.9,778.2 1204.3,777.2 1204.8,776.7 1205.3,776.3 1205.8,776.0 1206.3,775.2 1206.8,775.1 1207.3,774.6 1207.8,773.8 1208.3,772.6 1208.5,771.8 1208.7,771.2 1208.8,770.5 1209.0,769.7 1209.1,768.8 1209.3,767.7 1209.4,766.9 1209.6,765.8 1209.7,764.9 1209.9,763.9 1210.0,763.0 1210.2,762.2 1210.4,761.2 1210.6,760.5 1210.8,759.5 1211.1,758.8 1211.4,757.9 1211.6,756.9 1211.9,756.0 1212.2,755.2 1212.5,754.4 1212.8,753.4 1213.1,752.8 1213.4,752.0 1213.7,751.3 1214.0,750.4 1214.3,750.0 1214.8,748.8 1215.3,747.8 1215.8,747.2 1216.3,746.2 1216.8,745.7 1217.3,744.8 1217.7,744.5 1218.1,743.8 1218.7,743.0 1219.3,742.7 1219.8,742.3 1220.4,742.1 1220.8,742.8 1221.3,743.1 1221.8,743.5 1222.4,743.9 1222.9,744.8 1223.5,745.7 1224.1,746.8 1224.4,747.5 1224.7,748.1 1225.0,748.7 1225.3,749.4 1225.6,750.2 1225.9,750.9 1226.2,752.0 1226.5,752.5 1226.8,753.4 1227.1,754.3 1227.5,755.3 1227.8,756.1 1228.1,757.2 1228.4,758.1 1228.7,758.8 1229.0,759.6 1229.2,760.4 1229.5,761.2 1229.7,762.1 1230.0,763.1 1230.2,763.9 1230.5,764.8 1230.7,765.7 1231.0,766.5 1231.3,767.4 1231.5,768.3 1231.8,769.4 1232.0,770.0 1232.2,770.9 1232.5,771.7 1232.7,772.6 1233.0,773.2 1233.2,774.0 1233.5,775.2 1233.9,775.9 1234.2,776.9 1234.5,777.8 1234.8,778.7 1235.2,779.4 1235.5,780.1 1235.8,780.8 1236.1,781.8 1236.4,782.5 1236.7,783.2 1237.0,783.9 1237.4,784.5 1237.8,785.4 1238.3,786.1 1238.7,786.7 1239.1,787.3 1239.5,788.2 1239.9,788.9 1240.3,789.7 1240.7,790.8 1241.0,791.2 1241.2,791.9 1241.4,792.6 1241.6,793.6 1241.9,794.2 1242.1,795.1 1242.3,795.8 1242.5,796.6 1242.7,797.5 1243.0,798.5 1243.2,799.3 1243.4,800.2 1243.7,801.1 1243.9,801.9 1244.1,802.5 1244.4,803.5 1244.6,804.4 1244.8,805.2 1245.1,805.9 1245.3,806.6 1245.6,807.6 1245.8,808.4 1246.0,809.2 1246.3,810.3 1246.5,811.1 1246.8,811.9 1247.0,812.9 1247.3,813.9 1247.5,814.7 1247.7,815.6 1247.9,816.2 1248.1,817.2 1248.4,817.9 1248.6,819.0 1248.8,819.6 1249.0,820.6 1249.2,821.4 1249.4,822.3 1249.6,823.1 1249.9,824.1 1250.1,825.0 1250.3,825.7 1250.5,826.6 1250.7,827.6 1250.9,828.4 1251.1,829.3 1251.3,830.0 1251.5,830.8 1251.7,831.7 1251.9,832.6 1252.1,833.5 1252.3,834.2 1252.5,835.0 1252.7,836.0 1252.9,836.9 1253.1,837.7 1253.3,838.3 1253.5,839.1 1253.7,840.1 1253.9,840.9 1254.1,841.6 1254.3,842.3 1254.5,843.2 1254.7,843.9 1254.9,844.8 1255.1,845.7 1255.4,846.5 1255.6,847.5 1255.8,848.5 1256.0,849.4 1256.2,850.1 1256.4,851.0 1256.6,851.9 1256.9,852.7 1257.1,853.5 1257.3,854.4 1257.5,855.0 1257.8,855.7 1258.0,856.5 1258.3,857.3 1258.7,858.2 1259.0,859.1 1259.4,859.8 1259.8,860.6 1260.1,861.5 1260.5,862.0 1260.9,862.8 1261.3,863.6 1261.6,864.3 1262.0,865.0 1262.4,865.9 1262.8,866.5 1263.1,867.3 1263.5,868.0 1263.8,868.7 1264.2,869.7 1264.6,870.4 1265.0,871.1 1265.5,871.9 1266.0,873.2 1266.3,873.8 1266.7,874.4 1267.1,875.1 1267.5,875.8 1267.9,876.4 1268.3,877.4 1268.8,878.3 1269.2,879.0 1269.7,879.8 1270.1,880.6 1270.5,881.3 1270.9,882.2 1271.3,883.0 1271.7,883.6 1272.1,884.4 1272.4,884.9 1272.8,885.9 1273.3,886.8 1273.6,887.6 1274.0,888.3 1274.3,888.9 1274.7,889.6 1275.0,890.3 1275.3,891.0 1275.5,891.6 1275.8,892.6 1276.1,893.3 1276.3,893.9 1276.5,894.8 1276.7,895.6 1276.9,896.6 1277.1,897.4 1277.3,898.3 1277.5,899.1 1277.6,900.0 1277.8,900.7 1277.9,901.6 1278.1,902.5 1278.2,903.3 1278.4,903.8 1278.6,905.0 1278.8,906.0 1279.0,906.8 1279.2,907.8 1279.4,908.6 1279.6,909.5 1279.7,910.2 1280.0,910.8 1280.2,911.6 1280.8,912.4 1281.4,912.9 1282.1,913.6 1282.9,913.7 1283.6,913.7 1284.4,913.0 1285.2,912.5 1286.0,911.9 1286.7,911.9 1287.1,912.6 1287.5,913.2 1287.8,913.7 1288.2,914.5 1288.6,915.4 1288.9,916.4 1289.3,917.3 1289.7,918.0 1290.0,918.8 1290.3,919.7 1290.7,920.4 1291.0,921.0 1291.4,921.9 1291.7,922.6 1292.1,923.7 1292.4,924.5 1292.8,925.2 1293.2,925.7 1293.5,926.5 1294.0,927.3 1294.4,928.3 1294.9,929.0 1295.4,930.0 1295.9,930.7 1296.3,931.2 1296.8,932.0 1297.2,932.5 1297.8,933.2 1298.4,934.2 1298.9,934.9 1299.4,935.3 1299.9,936.0 1300.2,936.1" fill="none" stroke="#ff0000" stroke-width="6.5" stroke-linejoin="round" stroke-linecap="butt" clip-path="url(#plot)"/>
<path d="M115.5,317.7 116.0,319.0 116.6,318.4 117.2,318.4 118.0,317.7 118.8,320.0 119.6,318.7 120.6,319.3 121.5,318.2 122.5,319.1 123.6,318.4 124.6,319.5 125.7,317.7 126.8,319.7 127.9,318.4 129.0,319.6 129.8,318.0 130.6,319.3 131.4,319.1 132.2,318.9 133.1,319.4 134.0,319.9 134.9,318.8 135.8,319.7 136.7,319.1 137.6,320.5 138.6,319.8 139.5,320.7 140.4,320.1 141.4,321.3 142.3,320.2 143.2,321.4 144.1,319.7 145.0,321.8 145.9,319.5 146.8,321.1 147.6,320.1 148.4,322.0 149.4,320.8 150.3,322.0 151.2,321.3 152.1,321.9 153.0,320.7 153.8,322.1 154.7,320.6 155.5,322.3 156.3,320.5 157.2,322.0 158.0,322.0 158.8,322.3 159.6,321.7 160.5,322.5 161.3,322.2 162.2,322.4 163.1,321.1 164.0,323.2 164.8,321.7 165.7,322.3 166.6,320.7 167.5,322.6 168.5,321.7 169.4,322.6 170.4,321.7 171.3,321.5 172.3,321.5 173.2,321.8 174.2,321.4 175.1,321.8 176.0,320.9 176.9,321.6 177.8,321.4 178.6,321.9 179.3,320.5 180.1,322.0 180.8,320.2 181.4,321.7 182.8,320.1 183.8,321.3 184.7,320.1 185.5,319.9 186.1,319.4 186.7,319.0 187.4,318.4 188.2,319.6 189.1,317.9 189.9,319.7 190.8,319.1 191.6,319.2 192.5,319.7 193.3,320.2 194.2,319.8 195.0,321.6 195.8,319.8 196.7,322.3 197.5,321.2 198.3,323.1 199.2,322.4 200.0,323.5 200.9,322.3 201.7,323.0 202.4,322.5 203.1,323.2 203.9,322.0 204.6,322.3 205.3,320.8 206.0,320.0 206.8,318.9 207.6,319.8 208.5,318.4 209.3,319.5 210.1,318.1 211.0,319.3 212.0,318.5 212.9,319.7 213.9,318.5 214.8,320.6 215.8,319.9 216.6,320.6 217.5,319.4 218.2,320.7 219.0,320.5 219.7,322.1 220.4,321.0 221.0,322.3 221.6,323.0 222.1,323.4 222.7,323.4 223.3,324.7 224.0,324.6 224.7,325.2 225.5,324.7 226.3,326.4 227.1,325.1 227.9,326.5 228.6,326.5 229.4,327.6 230.1,326.8 230.8,328.2 231.3,327.9 231.8,329.2 232.2,329.2 232.7,330.2 233.1,330.6 233.5,332.4 233.9,332.5 234.4,333.4 234.8,333.4 235.2,335.2 235.7,335.5 236.2,336.7 236.7,336.2 237.2,337.3 237.7,338.2 238.3,338.6 238.8,339.5 239.4,339.9 239.9,340.2 240.4,342.0 241.0,342.6 241.5,343.8 241.9,344.0 242.2,345.0 242.6,345.3 242.9,345.9 243.2,346.6 243.6,347.5 243.9,347.9 244.3,349.5 244.6,349.7 245.0,350.8 245.3,351.1 245.7,353.0 246.1,353.3 246.5,354.5 246.9,355.0 247.3,356.0 247.6,356.8 248.0,357.2 248.4,358.2 248.7,358.9 249.1,359.2 249.5,360.2 249.9,360.8 250.2,362.1 250.6,362.3 251.0,363.4 251.4,364.1 251.8,364.8 252.2,365.6 252.6,366.4 253.0,367.1 253.4,367.9 253.8,368.9 254.2,369.8 254.6,370.8 255.0,371.4 255.4,372.4 255.7,373.1 256.1,373.6 256.4,374.3 256.8,375.4 257.1,376.4 257.5,376.6 257.8,377.5 258.2,378.8 258.5,379.2 258.9,380.0 259.3,381.1 259.6,381.5 260.0,382.5 260.3,383.5 260.7,383.9 261.0,385.0 261.4,385.6 261.7,386.9 262.1,387.3 262.4,387.9 262.8,388.5 263.2,389.9 263.6,390.8 264.0,391.5 264.4,391.9 264.8,393.0 265.2,393.5 265.6,394.8 266.0,395.2 266.4,396.0 266.9,396.9 267.3,397.5 267.7,398.3 268.1,398.7 268.5,399.8 268.9,400.8 269.3,401.1 269.7,402.0 270.1,402.8 270.5,403.3 270.9,403.9 271.4,405.2 271.8,405.9 272.2,406.4 272.7,407.6 273.1,408.1 273.5,409.1 274.0,409.5 274.4,410.4 274.8,411.0 275.3,411.6 275.7,412.3 276.1,413.6 276.6,413.9 277.0,414.8 277.4,415.8 277.9,416.4 278.3,416.9 278.8,417.8 279.3,418.3 279.7,419.6 280.2,420.3 280.7,421.2 281.2,421.7 281.7,422.5 282.1,423.3 282.6,424.1 283.1,424.6 283.6,424.9 284.1,426.1 284.6,426.7 285.0,427.1 285.5,427.6 286.0,428.7 286.6,429.4 287.2,430.4 287.8,431.1 288.5,431.2 289.1,432.1 289.7,433.0 290.3,433.5 290.9,434.5 291.5,435.2 292.1,435.9 292.7,436.4 293.3,437.0 293.8,437.6 294.5,438.2 295.1,438.4 295.6,439.0 296.2,439.6 296.7,440.7 297.2,441.0 297.8,441.4 298.3,442.3 298.9,442.3 299.6,443.2 300.3,443.3 301.0,443.9 301.8,443.8 302.6,444.9 303.4,444.9 304.2,445.0 305.0,445.4 305.8,445.2 306.6,445.5 307.4,445.5 308.3,446.0 309.1,446.3 309.9,445.9 310.8,445.5 311.6,445.5 312.5,445.6 313.3,445.5 314.1,444.7 315.0,444.9 315.7,444.6 316.4,444.4 317.2,443.4 317.9,443.5 318.7,442.6 319.4,442.4 320.2,441.8 320.9,440.7 321.6,440.3 322.3,439.5 322.9,439.5 323.4,438.9 323.9,438.2 324.4,437.6 324.8,436.5 325.3,436.2 325.7,435.1 326.1,434.2 326.6,433.6 327.0,433.2 327.4,432.2 327.8,431.4 328.3,430.6 328.7,429.5 329.0,429.0 329.4,428.0 329.7,427.5 330.0,426.7 330.3,425.9 330.7,425.2 331.0,424.3 331.3,423.6 331.6,422.6 332.0,422.0 332.3,421.3 332.7,420.4 333.0,419.3 333.4,418.3 333.7,417.9 334.1,416.9 334.5,415.8 334.8,415.1 335.2,414.3 335.6,413.8 335.9,412.8 336.3,412.0 336.7,411.3 337.1,410.6 337.5,409.7 337.9,408.7 338.3,408.2 338.8,406.9 339.2,406.2 339.6,405.3 340.0,404.6 340.4,404.1 340.8,403.4 341.1,402.4 341.5,401.8 341.9,401.3 342.2,400.7 342.7,399.6 343.2,398.8 343.6,397.7 344.1,396.7 344.5,396.3 344.9,395.5 345.3,394.5 345.7,394.3 346.1,393.3 346.6,392.5 347.0,392.3 347.5,391.6 348.0,390.9 348.6,390.2 349.3,389.9 349.9,389.4 350.6,388.8 351.3,388.5 352.0,387.5 352.7,387.0 353.5,386.9 354.2,386.3 355.0,385.3 355.8,384.8 356.4,384.4 356.9,384.1 357.5,383.1 358.1,382.7 358.7,381.9 359.3,381.6 359.9,381.1 360.5,380.1 361.2,379.4 361.8,378.8 362.4,378.1 363.0,377.4 363.7,377.2 364.3,376.2 364.9,376.0 365.5,375.1 366.3,374.7 367.0,373.9 367.8,373.8 368.5,373.5 369.3,373.0 370.1,372.0 370.9,371.8 371.6,371.1 372.4,370.7 373.1,370.5 373.8,370.2 374.5,369.6 375.2,369.6 376.1,369.3 376.9,368.5 377.7,368.4 378.5,367.9 379.2,367.6 380.0,367.0 380.7,366.9 381.5,366.7 382.2,366.2 383.0,365.8 383.7,365.1 384.4,364.5 385.1,364.3 385.8,363.7 386.4,363.1 387.1,362.8 387.8,362.4 388.5,361.5 389.2,360.9 390.0,360.6 390.7,359.9 391.3,359.4 391.9,358.8 392.6,358.4 393.2,357.5 393.9,357.1 394.5,356.8 395.2,356.1 395.8,355.7 396.5,354.8 397.2,354.2 397.8,354.0 398.5,353.1 399.1,352.6 399.7,352.1 400.4,351.4 401.1,350.9 401.7,350.5 402.4,350.1 403.0,349.5 403.6,348.7 404.3,348.0 404.9,347.7 405.6,347.2 406.3,346.5 407.0,346.0 407.8,345.5 408.5,345.4 409.2,344.7 410.0,344.7 410.8,344.0 411.6,344.1 412.4,343.8 413.2,343.1 414.0,342.8 414.9,342.4 415.7,342.0 416.5,341.8 417.4,341.3 418.2,341.5 419.0,341.2 419.8,340.5 420.6,340.2 421.5,339.8 422.3,339.5 423.2,339.4 424.0,338.8 424.9,338.5 425.7,338.4 426.6,337.9 427.4,337.8 428.2,337.6 428.9,336.8 429.7,336.6 430.4,336.8 431.4,336.4 432.3,335.6 433.2,335.9 434.0,335.6 434.8,335.4 435.6,335.1 436.4,334.7 437.1,334.6 437.8,334.5 438.5,334.3 439.4,334.4 440.3,334.0 441.1,333.3 441.8,333.0 442.5,333.0 443.3,332.7 444.0,332.7 444.7,332.9 445.5,333.1 446.2,333.6 447.0,333.6 447.7,333.9 448.3,334.8 449.0,335.0 449.5,335.7 450.0,336.3 450.4,337.0 450.9,337.7 451.3,338.6 451.8,339.2 452.2,340.0 452.6,340.9 453.0,341.7 453.4,342.3 453.7,343.3 454.0,343.9 454.4,344.7 454.7,345.7 455.0,346.5 455.3,347.4 455.6,348.3 455.9,349.1 456.2,349.9 456.5,350.6 456.7,351.4 457.0,352.5 457.3,353.1 457.5,354.1 457.7,355.1 458.0,355.7 458.2,356.6 458.5,357.3 458.7,357.8 459.3,359.1 459.8,359.4 460.4,360.2 461.0,360.0 461.6,360.1 462.3,359.9 463.0,359.0 463.7,358.7 464.3,358.5 464.8,359.0 465.2,359.7 465.5,360.9 465.9,361.7 466.3,362.8 466.7,363.5 467.3,364.6 467.9,365.2 468.5,365.6 469.2,365.7 469.7,365.6 470.3,365.0 470.9,364.2 471.4,363.1 472.0,362.7 472.4,362.5 472.7,362.9 472.9,363.7 473.1,364.3 473.3,365.0 473.5,365.9 473.6,367.0 473.8,368.2 474.0,369.2 474.1,369.8 474.2,370.7 474.4,371.5 474.5,372.4 474.6,373.4 474.7,374.3 474.9,375.3 475.0,376.1 475.1,377.1 475.2,378.0 475.4,378.9 475.5,379.8 475.6,380.5 475.8,381.4 475.9,382.4 476.1,383.4 476.3,384.2 476.4,385.0 476.6,385.9 476.7,386.7 476.9,387.2 477.1,388.0 477.2,388.5 477.5,389.6 477.8,390.5 478.1,390.8 478.5,391.2 478.8,390.7 479.1,390.6 479.4,390.0 479.8,389.1 480.1,387.9 480.5,387.0 480.7,386.2 480.8,385.4 481.0,384.7 481.2,383.7 481.4,382.8 481.6,381.8 481.8,380.8 482.0,379.9 482.1,378.8 482.3,377.9 482.5,377.1 482.7,376.3 482.9,375.7 483.2,374.5 483.5,373.6 483.7,372.9 484.0,372.2 484.3,371.3 484.6,370.8 484.9,369.9 485.3,369.1 485.7,368.7 486.2,368.0 486.8,367.0 487.4,366.7 487.9,365.9 488.5,365.3 489.0,364.5 489.4,363.9 489.8,363.2 490.1,362.6 490.4,361.8 490.7,361.1 491.0,360.2 491.2,359.3 491.5,358.5 491.8,357.7 492.1,357.0 492.4,356.2 492.7,355.2 493.0,354.3 493.3,353.6 493.6,352.5 493.9,352.1 494.2,351.5 494.8,350.6 495.3,350.1 495.9,349.5 496.6,350.0 497.2,349.9 497.9,351.0 498.6,351.7 499.3,352.5 500.0,353.1 500.7,352.9 501.1,352.5 501.5,352.2 501.8,351.6 502.2,350.8 502.5,349.9 502.9,348.9 503.2,347.9 503.5,347.3 503.9,346.4 504.4,345.4 505.0,344.7 505.5,343.9 506.0,342.9 506.6,342.6 507.1,342.5 507.7,342.9 508.2,343.4 508.8,344.1 509.3,344.9 509.9,346.0 510.4,346.3 511.0,347.3 511.5,348.0 512.0,348.9 512.5,349.0 513.1,348.8 513.5,348.7 513.9,348.4 514.4,347.3 514.9,346.5 515.3,346.0 515.8,344.8 516.3,344.0 516.8,343.2 517.2,342.4 517.6,341.7 518.1,340.9 518.5,340.2 518.9,339.7 519.3,339.0 519.8,338.2 520.3,337.5 520.9,337.0 521.5,336.0 522.1,335.8 522.8,335.1 523.5,334.4 524.2,334.0 525.0,333.3 525.7,332.8 526.5,332.3 527.3,332.1 528.0,331.9 528.8,331.0 529.7,330.5 530.5,330.5 531.3,329.9 532.2,329.5 533.0,329.4 533.9,329.4 534.6,328.9 535.4,328.5 536.3,328.8 537.1,328.8 538.0,328.5 538.8,328.5 539.5,328.9 540.3,328.7 541.1,329.1 541.9,329.3 542.7,329.3 543.4,329.9 544.2,330.4 544.9,330.7 545.7,331.0 546.5,330.9 547.3,331.5 548.3,331.3 549.0,330.9 549.7,331.1 550.5,330.3 551.3,330.4 552.2,329.7 553.0,329.7 553.9,328.7 554.8,328.5 555.6,328.5 556.4,327.7 557.2,327.5 558.0,327.8 558.9,327.7 559.7,327.3 560.5,327.6 561.3,327.6 562.1,327.7 562.8,328.3 563.6,328.4 564.4,328.2 565.2,328.2 566.1,328.7 566.8,328.3 567.6,328.1 568.4,328.3 569.2,327.7 569.9,327.4 570.8,327.2 571.6,326.8 572.4,326.8 573.2,326.7 574.1,326.2 574.9,326.2 575.8,326.1 576.6,325.5 577.5,325.3 578.3,325.4 579.2,325.1 580.0,325.0 580.9,324.8 581.8,324.6 582.7,324.3 583.6,324.3 584.5,324.2 585.3,324.0 586.2,323.9 587.1,323.9 588.0,323.8 588.9,323.8 589.8,323.6 590.7,323.5 591.7,323.5 592.6,323.6 593.5,323.8 594.4,324.1 595.3,324.2 596.1,323.9 596.9,324.2 597.7,324.3 598.4,324.5 599.4,324.6 600.4,324.3 601.2,324.6 602.0,325.3 602.7,325.5 603.5,325.5 604.2,325.7 604.9,326.6 605.7,326.8 606.6,327.3 607.4,327.9 608.1,328.1 608.9,329.0 609.7,329.1 610.5,329.3 611.2,329.0 611.9,328.5 612.6,328.5 613.3,327.8 614.0,327.2 614.7,326.8 615.5,326.4 616.2,325.8 616.9,325.7 617.6,324.9 618.3,324.9 619.0,324.2 619.7,324.0 620.4,323.1 621.2,322.8 621.9,322.5 622.6,322.4 623.4,322.2 624.1,322.0 624.9,321.9 625.6,322.1 626.4,322.0 627.2,322.1 628.1,321.9 629.0,322.1 629.7,321.9 630.4,322.2 631.2,322.0 631.9,322.3 632.7,322.6 633.5,322.7 634.3,323.2 635.2,322.8 636.1,323.2 637.0,323.5 638.0,323.3 638.7,323.5 639.4,323.7 640.1,323.3 640.8,323.5 641.6,323.5 642.3,323.1 643.1,323.2 643.8,323.6 644.7,323.2 645.5,323.4 646.4,323.4 647.4,323.5 648.4,323.0 649.5,323.3 650.7,323.1 651.4,322.9 652.1,322.6 652.8,323.1 653.5,322.9 654.3,323.1 655.1,322.6 655.9,322.4 656.7,322.3 657.5,322.4 658.4,322.6 659.2,322.6 660.1,322.1 661.0,322.2 661.9,322.4 662.8,322.3 663.7,321.9 664.6,322.1 665.6,321.7 666.5,321.8 667.4,321.9 668.4,321.7 669.4,321.3 670.3,321.4 671.3,321.7 672.3,321.6 673.2,321.0 674.2,321.4 675.0,321.3 675.9,320.9 676.7,320.8 677.6,321.0 678.5,320.8 679.5,321.2 680.4,320.7 681.4,320.7 682.4,320.7 683.3,321.0 684.3,320.8 685.3,320.3 686.3,320.7 687.3,320.3 688.3,320.4 689.3,320.4 690.3,320.4 691.3,320.6 692.3,320.2 693.2,320.3 694.2,320.4 695.1,320.3 696.0,320.1 696.8,320.1 697.7,320.0 698.5,320.2 699.3,319.9 700.0,319.8 700.8,319.6 701.4,320.0 702.1,319.5 702.7,319.5 703.2,319.8 705.1,319.8 706.3,320.1 707.0,320.4 707.3,320.7 707.6,320.5 708.0,320.6 708.6,321.1 709.4,320.8 710.1,320.7 710.9,320.6 711.7,320.2 712.6,319.7 713.4,319.9 714.2,319.1 715.0,319.2 715.8,319.3 716.6,319.8 717.3,320.2 718.1,320.4 718.9,320.2 719.7,320.6 720.5,320.5 721.3,320.9 722.0,321.1 722.8,320.7 723.5,320.5 724.3,320.4 725.1,320.1 725.9,319.9 726.7,319.6 727.6,319.9 728.5,319.7 729.2,319.6 730.0,319.7 730.7,320.3 731.5,320.6 732.3,320.6 733.2,320.9 734.0,321.0 734.9,321.0 735.7,321.4 736.6,321.8 737.5,321.8 738.4,321.4 739.2,321.9 740.0,321.2 740.9,321.5 741.8,321.0 742.7,320.6 743.6,320.5 744.5,320.1 745.4,319.8 746.2,319.7 747.1,319.8 747.9,319.4 748.7,319.1 749.5,318.8 750.2,319.1 751.2,319.3 752.0,318.7 752.8,318.9 753.5,319.5 754.2,319.6 754.9,319.9 755.6,319.8 756.5,319.8 757.4,319.9 758.1,320.0 758.8,320.1 759.5,319.8 760.2,320.2 761.0,320.1 761.8,319.9 762.6,320.0 763.4,319.8 764.3,319.9 765.2,319.7 766.2,319.6 767.2,319.8 768.3,319.6 769.0,319.5 769.7,319.6 770.5,319.0 771.3,319.0 772.1,319.1 772.9,318.9 773.8,319.1 774.7,318.9 775.6,318.7 776.5,318.6 777.4,318.1 778.3,318.3 779.2,318.1 780.1,317.9 781.0,318.1 781.9,317.7 782.9,317.7 783.8,317.9 784.7,317.8 785.5,317.5 786.4,317.3 787.3,317.4 788.2,317.6 789.1,317.7 790.0,317.9 790.9,317.4 791.8,318.0 792.8,317.5 793.7,317.9 794.6,317.8 795.6,317.8 796.5,318.3 797.4,318.1 798.3,318.0 799.1,318.2 800.0,318.2 800.8,318.0 801.6,318.6 802.3,318.1 803.1,318.0 803.8,318.4 804.4,318.4 805.6,318.5 806.7,318.4 807.6,317.7 808.5,317.5 809.2,317.2 809.9,317.0 810.6,316.9 811.2,316.8 811.9,316.7 812.6,316.6 813.5,317.0 814.3,316.7 815.1,316.9 815.9,317.5 816.7,317.4 817.4,318.0 818.2,318.0 818.9,318.1 819.7,318.4 820.4,319.0 821.1,319.4 821.8,319.5 822.5,320.3 823.3,320.1 824.3,320.1 825.0,320.3 825.7,320.1 826.4,320.2 827.1,319.5 827.9,319.5 828.7,318.7 829.5,318.6 830.4,318.6 831.4,317.9 832.4,318.3 833.4,317.9 834.1,318.0 834.9,318.3 835.7,318.3 836.5,318.3 837.4,318.3 838.3,318.3 839.2,318.9 840.1,318.5 841.1,318.9 842.0,319.0 842.9,319.1 843.8,319.3 844.7,319.5 845.5,319.5 846.3,319.6 847.1,320.0 847.8,320.1 848.8,320.1 849.8,320.6 850.7,320.3 851.5,320.5 852.3,320.8 853.1,320.3 853.8,320.6 854.6,320.6 855.3,321.0 856.1,320.7 856.9,320.9 857.7,321.2 858.6,321.9 859.4,321.8 860.3,322.4 861.1,322.4 861.9,322.9 862.8,323.4 863.6,323.9 864.4,324.0 865.1,324.5 865.9,325.4 866.5,325.7 867.1,326.5 867.8,326.8 868.4,327.5 869.0,328.1 869.5,328.8 870.1,329.6 870.7,330.3 871.2,331.1 871.7,331.9 872.2,332.4 872.7,333.3 873.2,333.7 873.7,334.7 874.1,335.3 874.5,336.2 874.9,337.2 875.2,338.1 875.6,338.7 875.9,339.6 876.2,340.6 876.6,341.3 876.9,341.9 877.3,342.6 877.7,343.1 878.3,344.0 879.0,344.7 879.7,345.1 880.5,345.4 881.2,345.6 881.9,346.3 882.5,346.8 883.1,347.8 883.4,348.3 883.7,349.0 884.0,349.7 884.3,350.5 884.5,351.1 884.8,352.0 885.0,353.0 885.3,353.8 885.5,354.5 885.7,355.6 886.0,356.6 886.2,357.5 886.4,358.6 886.7,359.7 886.9,360.3 887.0,361.1 887.2,361.9 887.4,362.6 887.6,363.4 887.8,364.2 887.9,365.1 888.1,365.8 888.3,366.7 888.5,367.6 888.6,368.5 888.8,369.3 889.0,370.2 889.2,371.1 889.3,371.9 889.5,373.0 889.7,373.8 889.8,374.8 890.0,375.7 890.1,376.6 890.3,377.5 890.4,378.4 890.6,379.2 890.7,380.0 890.8,380.9 890.9,381.8 891.0,382.7 891.2,383.5 891.3,384.4 891.4,385.2 891.5,386.2 891.6,387.1 891.8,388.0 891.9,388.9 892.0,389.8 892.1,390.6 892.2,391.5 892.3,392.5 892.4,393.4 892.5,394.2 892.6,395.1 892.7,396.0 892.8,396.8 892.9,397.7 893.0,398.4 893.1,399.2 893.2,400.2 893.3,400.8 893.4,401.4 893.5,401.9 893.5,402.2 893.6,402.5 893.7,402.8 893.8,403.1 893.8,403.4 893.9,403.7 894.0,404.1 894.0,404.6 894.1,405.2 894.2,406.0 894.2,407.0 894.3,408.1 894.4,409.5 894.5,411.2 894.6,413.2 894.8,415.4 894.9,418.0 894.9,418.6 895.0,419.1 895.0,419.7 895.0,420.2 895.0,420.9 895.1,421.5 895.1,422.1 895.1,422.8 895.2,423.4 895.2,424.1 895.2,424.8 895.3,425.4 895.3,426.2 895.3,426.9 895.4,427.6 895.4,428.4 895.4,429.1 895.5,429.9 895.5,430.7 895.5,431.5 895.6,432.3 895.6,433.1 895.6,433.9 895.7,434.7 895.7,435.6 895.7,436.5 895.8,437.3 895.8,438.2 895.9,439.1 895.9,440.0 895.9,440.8 896.0,441.8 896.0,442.6 896.0,443.6 896.1,444.5 896.1,445.4 896.2,446.4 896.2,447.3 896.2,448.3 896.3,449.2 896.3,450.2 896.4,451.2 896.4,452.1 896.4,453.1 896.5,454.1 896.5,455.1 896.6,456.1 896.6,457.1 896.6,458.1 896.7,459.1 896.7,460.1 896.8,461.1 896.8,462.1 896.9,463.1 896.9,464.1 896.9,465.1 897.0,466.2 897.0,467.2 897.1,468.3 897.1,469.3 897.1,470.3 897.2,471.4 897.2,472.4 897.3,473.4 897.3,474.4 897.4,475.5 897.4,476.5 897.4,477.5 897.5,478.5 897.5,479.5 897.6,480.6 897.6,481.6 897.6,482.6 897.7,483.6 897.7,484.7 897.8,485.7 897.8,486.7 897.8,487.7 897.9,488.7 897.9,489.7 898.0,490.7 898.0,491.7 898.0,492.7 898.1,493.7 898.1,494.7 898.2,495.6 898.2,496.5 898.2,497.5 898.3,498.5 898.3,499.4 898.4,500.4 898.4,501.3 898.4,502.2 898.5,503.2 898.5,504.1 898.5,505.0 898.6,505.9 898.6,506.8 898.7,507.7 898.7,508.5 898.7,509.4 898.8,510.3 898.8,511.1 898.8,511.9 898.9,512.8 898.9,513.6 898.9,514.4 899.0,515.2 899.0,516.0 899.0,517.1 899.1,518.1 899.1,519.2 899.2,520.3 899.2,521.4 899.3,522.5 899.3,523.6 899.3,524.8 899.4,525.9 899.4,527.1 899.5,528.2 899.5,529.4 899.5,530.5 899.6,531.7 899.6,532.9 899.7,534.1 899.7,535.2 899.7,536.4 899.8,537.6 899.8,538.8 899.9,540.0 899.9,541.2 899.9,542.4 900.0,543.5 900.0,544.7 900.0,545.9 900.1,547.1 900.1,548.3 900.2,549.4 900.2,550.6 900.2,551.7 900.3,552.9 900.3,554.1 900.3,555.2 900.4,556.3 900.4,557.5 900.4,558.5 900.5,559.6 900.5,560.7 900.6,561.8 900.6,562.9 900.6,563.9 900.7,565.0 900.7,566.0 900.7,567.0 900.8,568.0 900.8,569.0 900.8,570.0 900.9,570.9 900.9,571.8 900.9,572.7 901.0,573.6 901.0,574.5 901.0,575.4 901.1,576.2 901.1,577.0 901.1,577.8 901.2,578.5 901.2,579.3 901.2,580.0 901.3,580.7 901.3,581.4 901.4,582.0 901.4,582.6 901.4,583.2 901.5,583.8 901.5,584.3 901.5,584.8 901.6,585.3 901.6,585.7 901.6,586.2 901.7,586.6 901.7,586.9 901.7,587.2 901.8,587.5 901.8,587.8 901.9,588.1 901.9,588.2 901.9,588.2 902.0,588.4 902.0,588.6 902.0,588.6 902.1,588.6 902.1,588.4 902.2,588.4 902.2,588.2 902.3,588.0 902.3,587.9 902.3,587.6 902.4,587.2 902.4,587.0 902.5,586.6 902.5,586.2 902.5,585.7 902.6,585.2 902.6,584.6 902.7,584.1 902.7,583.5 902.8,582.9 902.8,582.2 902.8,581.5 902.9,580.8 902.9,580.0 903.0,579.3 903.0,578.5 903.1,577.6 903.1,576.8 903.1,575.9 903.2,575.0 903.2,574.0 903.3,573.1 903.3,572.1 903.4,571.1 903.4,570.1 903.4,569.1 903.5,568.0 903.5,566.9 903.6,565.9 903.6,564.8 903.6,563.6 903.7,562.5 903.7,561.4 903.8,560.2 903.8,559.0 903.9,557.9 903.9,556.7 903.9,555.5 904.0,554.3 904.0,553.0 904.1,551.8 904.1,550.6 904.2,549.4 904.2,548.1 904.2,546.9 904.3,545.6 904.3,544.4 904.4,543.2 904.4,541.9 904.5,540.7 904.5,539.5 904.5,538.2 904.6,537.0 904.6,535.7 904.7,534.5 904.7,533.3 904.7,532.1 904.8,530.9 904.8,529.7 904.9,528.5 904.9,527.3 905.0,526.1 905.0,525.0 905.0,524.3 905.1,523.5 905.1,522.8 905.1,522.0 905.1,521.2 905.2,520.4 905.2,519.6 905.2,518.8 905.2,517.9 905.3,517.1 905.3,516.3 905.3,515.4 905.4,514.6 905.4,513.7 905.4,512.8 905.4,511.9 905.5,511.0 905.5,510.1 905.5,509.2 905.5,508.3 905.6,507.3 905.6,506.4 905.6,505.5 905.7,504.5 905.7,503.5 905.7,502.6 905.7,501.6 905.8,500.6 905.8,499.7 905.8,498.7 905.8,497.7 905.9,496.7 905.9,495.7 905.9,494.7 906.0,493.7 906.0,492.7 906.0,491.7 906.0,490.7 906.1,489.7 906.1,488.7 906.1,487.7 906.2,486.6 906.2,485.6 906.2,484.6 906.2,483.6 906.3,482.5 906.3,481.5 906.3,480.5 906.3,479.5 906.4,478.4 906.4,477.4 906.4,476.4 906.5,475.4 906.5,474.3 906.5,473.3 906.5,472.3 906.6,471.3 906.6,470.3 906.6,469.2 906.6,468.2 906.7,467.2 906.7,466.2 906.7,465.2 906.8,464.2 906.8,463.2 906.8,462.2 906.8,461.2 906.9,460.3 906.9,459.3 906.9,458.3 906.9,457.3 907.0,456.4 907.0,455.4 907.0,454.4 907.1,453.5 907.1,452.6 907.1,451.7 907.1,450.7 907.2,449.8 907.2,448.9 907.2,448.0 907.2,447.1 907.3,446.2 907.3,445.3 907.3,444.5 907.4,443.6 907.4,442.7 907.4,441.9 907.4,441.0 907.5,440.3 907.5,439.4 907.5,438.6 907.5,437.8 907.6,437.1 907.6,436.3 907.6,435.5 907.6,434.8 907.7,434.1 907.7,433.3 907.7,432.6 907.7,431.9 907.8,431.3 907.8,430.6 907.8,429.9 907.8,429.2 907.9,428.6 907.9,428.0 907.9,427.4 907.9,426.8 908.0,426.2 908.0,425.7 908.1,423.4 908.2,421.3 908.3,419.3 908.4,417.4 908.5,415.6 908.6,414.0 908.7,412.5 908.8,411.1 908.9,409.8 909.0,408.6 909.1,407.6 909.2,406.6 909.3,405.8 909.4,405.0 909.5,404.4 909.6,403.8 909.7,403.5 909.8,402.9 909.9,402.8 910.0,402.4 910.1,402.4 910.2,402.5 910.3,402.6 910.4,402.7 910.5,402.7 910.6,403.0 910.7,403.1 910.7,403.3 910.8,403.7 910.9,404.1 910.9,404.5 911.0,404.8 911.1,405.2 911.1,405.7 911.2,406.3 911.3,406.9 911.3,407.4 911.4,408.0 911.5,408.7 911.6,409.5 911.6,410.2 911.7,410.9 911.8,411.8 911.8,412.6 911.9,413.5 912.0,414.4 912.1,415.3 912.1,416.2 912.2,417.2 912.3,418.1 912.3,419.2 912.4,420.2 912.5,421.3 912.6,422.3 912.6,423.4 912.7,424.6 912.8,425.7 912.9,426.9 912.9,428.1 913.0,429.3 913.1,430.5 913.2,431.8 913.2,433.0 913.3,434.3 913.4,435.5 913.5,436.8 913.5,438.1 913.6,439.4 913.7,440.7 913.7,441.4 913.8,442.1 913.8,442.8 913.9,443.5 913.9,444.3 913.9,445.0 914.0,445.8 914.0,446.6 914.1,447.3 914.1,448.1 914.2,449.0 914.2,449.8 914.2,450.6 914.3,451.5 914.3,452.4 914.4,453.2 914.4,454.1 914.4,455.0 914.5,455.9 914.5,456.8 914.6,457.7 914.6,458.7 914.7,459.6 914.7,460.5 914.8,461.5 914.8,462.4 914.8,463.4 914.9,464.4 914.9,465.3 915.0,466.3 915.0,467.3 915.1,468.3 915.1,469.2 915.2,470.3 915.2,471.2 915.2,472.2 915.3,473.2 915.3,474.3 915.4,475.2 915.4,476.3 915.5,477.3 915.5,478.2 915.6,479.3 915.6,480.3 915.6,481.3 915.7,482.3 915.7,483.3 915.8,484.3 915.8,485.3 915.9,486.3 915.9,487.3 915.9,488.2 916.0,489.2 916.0,490.3 916.1,491.2 916.1,492.2 916.2,493.2 916.2,494.1 916.3,495.1 916.3,496.0 916.3,497.0 916.4,497.9 916.4,498.9 916.5,499.8 916.5,500.7 916.6,501.6 916.6,502.5 916.6,503.4 916.7,504.2 916.7,505.1 916.8,506.0 916.8,506.8 916.9,507.7 916.9,508.5 916.9,509.3 917.0,510.1 917.0,510.9 917.1,511.6 917.1,512.4 917.1,513.1 917.2,513.9 917.2,514.6 917.3,515.3 917.3,516.0 917.4,517.3 917.4,518.6 917.5,519.9 917.6,521.3 917.7,522.6 917.7,523.9 917.8,525.2 917.9,526.6 918.0,527.9 918.0,529.2 918.1,530.5 918.2,531.7 918.2,533.0 918.3,534.3 918.4,535.6 918.4,536.8 918.5,538.0 918.6,539.1 918.6,540.3 918.7,541.4 918.8,542.5 918.8,543.6 918.9,544.6 919.0,545.6 919.0,546.5 919.1,547.5 919.2,548.4 919.2,549.2 919.3,550.0 919.4,550.7 919.4,551.5 919.5,552.1 919.6,552.6 919.6,553.1 919.7,553.6 919.8,554.0 919.8,554.4 919.9,554.6 920.0,554.8 920.0,555.0 920.1,555.2 920.2,555.4 920.2,555.1 920.3,555.1 920.3,554.9 920.4,554.7 920.4,554.4 920.5,554.1 920.5,553.6 920.6,553.3 920.6,552.9 920.7,552.3 920.7,551.8 920.8,551.2 920.8,550.5 920.9,549.9 921.0,549.1 921.0,548.4 921.1,547.6 921.1,546.8 921.2,545.9 921.2,545.1 921.3,544.1 921.3,543.2 921.4,542.2 921.4,541.2 921.5,540.2 921.5,539.2 921.6,538.1 921.6,537.1 921.7,536.0 921.7,534.9 921.8,533.8 921.8,532.7 921.9,531.5 921.9,530.4 922.0,529.2 922.0,528.1 922.1,526.9 922.1,525.8 922.2,524.6 922.2,523.5 922.3,522.3 922.3,521.1 922.4,520.1 922.4,518.9 922.5,517.7 922.5,516.6 922.6,515.5 922.6,514.5 922.7,513.4 922.7,512.3 922.7,511.3 922.8,510.3 922.8,509.3 922.9,508.4 922.9,507.4 923.0,506.5 923.0,505.6 923.1,504.8 923.1,504.0 923.2,503.1 923.2,502.4 923.3,501.7 923.3,501.0 923.4,499.7 923.5,498.2 923.6,496.9 923.6,495.5 923.7,494.0 923.8,492.6 923.9,491.2 924.0,489.8 924.0,488.4 924.1,487.1 924.2,485.7 924.3,484.5 924.3,483.2 924.4,482.0 924.5,480.9 924.6,479.8 924.7,478.7 924.7,477.8 924.8,477.0 924.9,476.2 925.0,475.4 925.0,474.9 925.1,474.3 925.2,474.1 925.3,473.8 925.4,473.7 925.4,473.7 925.5,473.7 925.6,474.2 925.7,474.6 925.7,474.7 925.8,475.0 925.8,475.3 925.9,475.7 925.9,476.0 926.0,476.4 926.0,476.9 926.1,477.3 926.1,477.8 926.1,478.3 926.2,478.8 926.2,479.3 926.3,479.9 926.3,480.5 926.4,481.1 926.4,481.8 926.5,482.5 926.5,483.2 926.6,483.9 926.6,484.6 926.7,485.4 926.7,486.1 926.8,487.0 926.8,487.8 926.8,488.6 926.9,489.4 926.9,490.3 927.0,491.2 927.0,492.1 927.1,493.1 927.1,494.0 927.2,494.9 927.2,495.9 927.3,496.9 927.3,498.0 927.4,499.0 927.4,500.0 927.5,501.1 927.5,502.1 927.6,503.2 927.6,504.3 927.7,505.4 927.7,506.6 927.8,507.7 927.8,508.9 927.9,510.0 927.9,511.2 928.0,512.4 928.0,513.5 928.1,514.8 928.1,515.9 928.2,517.2 928.2,518.4 928.3,519.6 928.3,520.9 928.4,522.1 928.4,523.4 928.5,524.6 928.5,525.9 928.6,527.2 928.6,528.4 928.7,529.7 928.7,531.0 928.7,531.7 928.8,532.4 928.8,533.1 928.8,533.8 928.8,534.6 928.9,535.4 928.9,536.1 928.9,536.9 928.9,537.7 929.0,538.5 929.0,539.3 929.0,540.1 929.0,540.9 929.1,541.7 929.1,542.5 929.1,543.4 929.1,544.3 929.2,545.1 929.2,546.0 929.2,546.9 929.3,547.8 929.3,548.7 929.3,549.6 929.3,550.5 929.4,551.4 929.4,552.3 929.4,553.3 929.4,554.2 929.5,555.1 929.5,556.1 929.5,557.1 929.6,558.0 929.6,559.0 929.6,560.0 929.6,560.9 929.7,561.9 929.7,562.9 929.7,563.9 929.7,564.9 929.8,565.9 929.8,566.9 929.8,567.9 929.9,568.9 929.9,569.9 929.9,570.9 929.9,571.9 930.0,572.9 930.0,574.0 930.0,575.0 930.0,576.0 930.1,577.0 930.1,578.0 930.1,579.1 930.2,580.1 930.2,581.1 930.2,582.1 930.2,583.2 930.3,584.2 930.3,585.2 930.3,586.2 930.3,587.3 930.4,588.3 930.4,589.3 930.4,590.3 930.4,591.3 930.5,592.3 930.5,593.4 930.5,594.3 930.6,595.4 930.6,596.4 930.6,597.4 930.6,598.4 930.7,599.4 930.7,600.3 930.7,601.3 930.7,602.3 930.8,603.3 930.8,604.3 930.8,605.2 930.8,606.2 930.9,607.1 930.9,608.1 930.9,609.0 930.9,610.0 931.0,610.9 931.0,611.8 931.0,612.7 931.0,613.7 931.1,614.6 931.1,615.5 931.1,616.3 931.1,617.2 931.2,618.1 931.2,619.0 931.2,619.8 931.2,620.7 931.3,621.5 931.3,622.4 931.3,623.2 931.3,624.0 931.3,624.8 931.4,625.6 931.4,626.3 931.4,627.1 931.4,627.9 931.5,628.7 931.5,629.4 931.5,630.1 931.5,630.8 931.5,631.5 931.6,632.2 931.6,632.9 931.6,633.6 931.6,634.2 931.6,634.9 931.7,635.5 931.7,636.1 931.7,636.7 931.8,638.5 931.8,640.2 931.9,641.9 931.9,643.6 932.0,645.2 932.0,646.8 932.1,648.3 932.1,649.8 932.1,651.3 932.2,652.7 932.2,654.0 932.3,655.4 932.3,656.6 932.3,657.9 932.4,659.1 932.4,660.2 932.4,661.3 932.5,662.3 932.5,663.3 932.5,664.2 932.6,665.1 932.6,666.0 932.6,666.7 932.7,667.5 932.7,668.1 932.7,668.7 932.8,669.3 932.8,669.8 932.8,670.3 932.9,670.6 932.9,670.9 933.0,671.2 933.0,671.3 933.1,671.7 933.1,671.8 933.1,671.5 933.2,671.7 933.2,671.6 933.3,671.5 933.3,671.2 933.4,671.1 933.4,670.7 933.5,670.5 933.5,670.0 933.5,669.7 933.6,669.2 933.6,668.7 933.7,668.1 933.7,667.5 933.8,666.9 933.8,666.2 933.9,665.5 933.9,664.7 934.0,663.9 934.0,663.1 934.0,662.3 934.1,661.3 934.1,660.5 934.2,659.6 934.2,658.6 934.3,657.6 934.3,656.6 934.4,655.6 934.4,654.5 934.5,653.4 934.5,652.4 934.6,651.3 934.7,650.2 934.7,649.1 934.8,648.0 934.8,646.9 934.9,645.7 934.9,644.6 935.0,643.4 935.0,642.3 935.1,641.2 935.1,640.0 935.2,638.9 935.2,637.7 935.3,636.6 935.3,635.5 935.4,634.4 935.4,633.3 935.5,632.2 935.5,631.1 935.6,630.1 935.6,629.1 935.7,628.0 935.7,627.1 935.8,626.1 935.8,625.1 935.9,624.2 935.9,623.3 936.0,622.4 936.0,621.6 936.1,620.6 936.1,619.6 936.2,618.6 936.2,617.6 936.3,616.6 936.3,615.6 936.4,614.6 936.4,613.6 936.5,612.5 936.5,611.5 936.6,610.4 936.7,609.4 936.7,608.4 936.8,607.3 936.8,606.3 936.9,605.3 936.9,604.3 937.0,603.3 937.0,602.3 937.1,601.2 937.1,600.2 937.2,599.3 937.2,598.3 937.3,597.3 937.4,596.3 937.4,595.4 937.5,594.4 937.5,593.5 937.6,592.6 937.6,591.7 937.7,590.8 937.7,589.9 937.8,589.1 937.8,588.2 937.9,587.4 937.9,586.7 938.0,585.9 938.0,585.1 938.0,584.4 938.1,583.6 938.1,582.9 938.2,582.3 938.2,581.7 938.3,581.1 938.3,580.5 938.4,580.0 938.4,579.4 938.7,576.4 938.9,574.4 939.1,573.0 939.3,572.5 939.5,572.1 939.7,572.6 939.9,573.3 940.0,573.8 940.1,574.2 940.2,574.8 940.3,575.5 940.4,576.3 940.5,577.1 940.6,578.0 940.7,579.0 940.8,580.1 940.9,581.1 941.0,582.1 941.1,583.2 941.2,584.4 941.3,585.4 941.4,586.4 941.5,587.4 941.6,588.3 941.7,589.3 941.8,590.1 941.9,590.8 942.0,591.5 942.2,593.1 942.4,594.7 942.6,596.5 942.8,598.0 942.9,599.3 943.1,600.3 943.3,600.7 943.5,600.3 943.8,599.1 943.9,598.6 943.9,598.2 944.0,597.9 944.0,597.4 944.1,596.8 944.2,596.3 944.2,595.8 944.3,595.3 944.3,594.6 944.4,594.1 944.5,593.4 944.5,592.7 944.6,592.1 944.7,591.3 944.7,590.6 944.8,589.8 944.9,589.0 944.9,588.2 945.0,587.4 945.1,586.5 945.2,585.6 945.2,584.7 945.3,583.8 945.4,582.9 945.4,581.8 945.5,580.9 945.6,579.8 945.7,578.8 945.7,577.8 945.8,576.7 945.9,575.5 946.0,574.5 946.0,573.3 946.1,572.1 946.2,571.0 946.3,569.8 946.3,568.6 946.4,567.4 946.5,566.2 946.6,564.8 946.6,563.6 946.7,562.3 946.8,561.0 946.8,560.3 946.9,559.6 946.9,558.9 947.0,558.2 947.0,557.5 947.0,556.8 947.1,556.0 947.1,555.3 947.2,554.5 947.2,553.7 947.2,552.9 947.3,552.2 947.3,551.3 947.4,550.5 947.4,549.7 947.4,548.9 947.5,548.1 947.5,547.2 947.6,546.4 947.6,545.5 947.6,544.7 947.7,543.8 947.7,542.9 947.8,542.0 947.8,541.1 947.8,540.2 947.9,539.4 947.9,538.4 948.0,537.5 948.0,536.6 948.0,535.7 948.1,534.8 948.1,533.8 948.2,532.9 948.2,531.9 948.2,531.0 948.3,530.1 948.3,529.1 948.4,528.1 948.4,527.2 948.5,526.3 948.5,525.3 948.5,524.3 948.6,523.4 948.6,522.4 948.7,521.4 948.7,520.4 948.8,519.5 948.8,518.5 948.8,517.5 948.9,516.6 948.9,515.6 949.0,514.6 949.0,513.7 949.1,512.7 949.1,511.7 949.1,510.8 949.2,509.8 949.2,508.8 949.3,507.9 949.3,506.9 949.4,506.0 949.4,505.0 949.5,504.0 949.5,503.1 949.6,502.2 949.6,501.2 949.6,500.3 949.7,499.3 949.7,498.4 949.8,497.5 949.8,496.6 949.9,495.7 949.9,494.8 950.0,493.9 950.0,492.9 950.1,492.1 950.1,491.2 950.2,490.3 950.2,489.4 950.3,488.6 950.3,487.7 950.4,486.9 950.4,486.0 950.5,485.1 950.5,484.1 950.6,483.1 950.6,482.2 950.7,481.2 950.7,480.2 950.8,479.3 950.8,478.3 950.9,477.3 951.0,476.4 951.0,475.4 951.1,474.4 951.1,473.4 951.2,472.5 951.2,471.5 951.3,470.6 951.4,469.6 951.4,468.6 951.5,467.7 951.5,466.7 951.6,465.7 951.7,464.8 951.7,463.8 951.8,462.8 951.8,461.9 951.9,461.0 951.9,460.0 952.0,459.1 952.1,458.1 952.1,457.2 952.2,456.2 952.2,455.2 952.3,454.3 952.4,453.4 952.4,452.5 952.5,451.5 952.5,450.6 952.6,449.7 952.7,448.8 952.7,447.8 952.8,446.9 952.9,446.0 952.9,445.1 953.0,444.2 953.0,443.3 953.1,442.4 953.2,441.5 953.2,440.6 953.3,439.7 953.4,438.8 953.4,438.0 953.5,437.1 953.6,436.3 953.6,435.4 953.7,434.5 953.8,433.7 953.8,432.8 953.9,432.0 954.0,431.2 954.0,430.4 954.1,429.5 954.2,428.7 954.2,428.0 954.3,427.2 954.4,426.3 954.4,425.5 954.5,424.8 954.6,424.0 954.6,423.3 954.7,422.5 954.8,421.8 954.9,421.0 954.9,420.3 955.0,419.6 955.1,418.4 955.2,417.3 955.4,416.1 955.5,415.0 955.6,413.8 955.7,412.8 955.9,411.6 956.0,410.5 956.1,409.5 956.3,408.4 956.4,407.4 956.6,406.3 956.7,405.3 956.8,404.3 957.0,403.3 957.1,402.4 957.3,401.4 957.4,400.4 957.5,399.5 957.7,398.6 957.8,397.6 958.0,396.7 958.1,395.9 958.3,394.9 958.4,394.1 958.5,393.3 958.7,392.4 958.8,391.6 959.0,390.9 959.1,390.1 959.2,389.3 959.4,388.4 959.5,387.7 959.6,387.1 959.8,386.4 959.9,385.7 960.0,384.9 960.2,384.3 960.3,383.5 960.4,383.0 960.5,382.3 960.7,381.8 960.8,381.1 960.9,380.6 961.0,380.0 961.4,378.1 961.8,376.2 962.2,374.6 962.5,373.1 962.8,372.0 963.2,371.0 963.5,370.2 963.8,369.5 964.1,369.2 964.4,369.2 964.7,369.6 965.0,370.1 965.1,370.2 965.3,370.6 965.4,371.1 965.5,371.5 965.6,372.0 965.8,372.6 965.9,373.4 966.0,373.9 966.1,374.7 966.2,375.5 966.4,376.2 966.5,377.1 966.6,378.0 966.7,378.9 966.8,379.9 967.0,380.8 967.1,381.9 967.2,382.9 967.3,384.0 967.4,385.1 967.5,386.1 967.7,387.3 967.8,388.5 967.9,389.6 968.0,390.8 968.1,392.0 968.3,393.1 968.4,394.4 968.5,395.5 968.6,396.2 968.6,397.0 968.7,397.8 968.8,398.7 968.9,399.6 968.9,400.5 969.0,401.5 969.1,402.5 969.1,403.6 969.2,404.7 969.3,405.8 969.4,406.9 969.4,408.0 969.5,409.2 969.6,410.3 969.7,411.5 969.7,412.7 969.8,413.9 969.9,415.1 970.0,416.2 970.0,417.4 970.1,418.6 970.2,419.8 970.2,421.0 970.3,422.1 970.4,423.3 970.5,424.4 970.5,425.5 970.6,426.5 970.7,427.6 970.8,428.7 970.8,429.6 970.9,430.6 971.0,431.5 971.0,432.4 971.1,433.2 971.2,434.0 971.2,434.7 971.3,435.5 971.4,436.0 971.5,436.6 971.5,437.3 971.6,437.7 971.7,438.1 971.7,438.4 971.8,438.6 971.9,438.8 971.9,438.9 972.0,439.0 972.1,439.0 972.1,438.8 972.2,438.7 972.3,438.3 972.3,438.1 972.4,437.7 972.5,437.2 972.5,436.7 972.6,436.0 972.6,435.4 972.7,434.7 972.8,434.0 972.8,433.2 972.9,432.4 973.0,431.5 973.0,430.6 973.1,429.6 973.1,428.6 973.2,427.6 973.3,426.5 973.3,425.5 973.4,424.4 973.4,423.3 973.5,422.1 973.6,420.9 973.6,419.7 973.7,418.6 973.7,417.4 973.8,416.2 973.9,415.0 973.9,413.8 974.0,412.6 974.0,411.5 974.1,410.3 974.2,409.1 974.2,408.0 974.3,406.8 974.3,405.7 974.4,404.6 974.5,403.5 974.5,402.5 974.6,401.5 974.6,400.5 974.7,399.6 974.8,398.7 974.8,397.8 974.9,397.0 974.9,396.3 975.0,395.5 975.1,394.2 975.2,393.0 975.3,391.7 975.4,390.4 975.5,389.1 975.6,387.8 975.8,386.5 975.9,385.2 976.0,383.9 976.1,382.6 976.2,381.4 976.3,380.2 976.4,379.1 976.5,378.0 976.6,376.9 976.7,375.9 976.8,375.0 976.9,374.1 977.0,373.3 977.1,372.6 977.2,372.0 977.4,371.6 977.5,371.0 977.6,370.8 977.7,370.7 977.8,370.5 977.9,370.5 978.0,370.9 978.1,371.0 978.1,371.3 978.2,371.6 978.3,372.0 978.3,372.3 978.4,372.8 978.5,373.1 978.5,373.7 978.6,374.3 978.7,374.9 978.7,375.6 978.8,376.2 978.9,376.9 978.9,377.7 979.0,378.5 979.1,379.3 979.1,380.2 979.2,381.1 979.3,382.0 979.3,382.9 979.4,383.9 979.5,384.9 979.5,385.9 979.6,386.9 979.7,388.0 979.7,389.0 979.8,390.1 979.9,391.2 979.9,392.3 980.0,393.4 980.1,394.5 980.1,395.7 980.2,396.8 980.3,398.0 980.3,399.1 980.4,400.3 980.5,401.5 980.5,402.6 980.6,403.8 980.7,404.9 980.7,406.1 980.8,407.2 980.9,408.3 980.9,409.5 981.0,410.6 981.0,411.4 981.1,412.1 981.1,412.9 981.2,413.7 981.2,414.5 981.3,415.3 981.3,416.1 981.4,417.0 981.4,417.9 981.4,418.7 981.5,419.6 981.5,420.5 981.6,421.4 981.6,422.3 981.7,423.2 981.7,424.2 981.8,425.2 981.8,426.1 981.8,427.1 981.9,428.0 981.9,429.0 982.0,429.9 982.0,431.0 982.1,431.9 982.1,432.9 982.2,433.9 982.2,434.9 982.3,435.9 982.3,436.9 982.3,437.9 982.4,438.9 982.4,439.9 982.5,440.9 982.5,441.9 982.6,442.8 982.6,443.8 982.7,444.9 982.7,445.8 982.7,446.8 982.8,447.8 982.8,448.8 982.9,449.7 982.9,450.7 983.0,451.6 983.0,452.6 983.1,453.6 983.1,454.4 983.1,455.4 983.2,456.3 983.2,457.2 983.3,458.1 983.3,459.0 983.4,459.8 983.4,460.7 983.5,461.5 983.5,462.3 983.5,463.2 983.6,464.0 983.6,464.7 983.7,465.5 983.7,466.3 983.7,467.0 983.8,467.7 983.8,468.4 983.9,469.1 983.9,469.8 984.0,470.4 984.0,471.0 984.1,472.5 984.2,474.1 984.3,475.7 984.4,477.1 984.5,478.6 984.6,479.9 984.7,481.3 984.8,482.6 984.9,483.8 985.0,485.0 985.1,486.1 985.2,487.2 985.3,488.1 985.4,489.1 985.5,489.9 985.6,490.7 985.7,491.4 985.8,492.1 985.9,492.6 986.0,493.0 986.1,493.3 986.2,493.6 986.3,493.8 986.4,493.9 986.5,493.7 986.6,493.6 986.7,493.2 986.7,493.0 986.8,492.7 986.9,492.4 987.0,492.0 987.0,491.4 987.1,490.8 987.2,490.3 987.3,489.6 987.3,488.8 987.4,488.2 987.5,487.3 987.6,486.5 987.6,485.7 987.7,484.7 987.8,483.8 987.9,482.9 988.0,481.9 988.0,480.8 988.1,479.8 988.2,478.7 988.3,477.6 988.3,476.6 988.4,475.5 988.5,474.3 988.6,473.2 988.7,472.1 988.7,471.0 988.8,469.8 988.9,468.7 989.0,467.5 989.1,466.4 989.1,465.3 989.2,464.2 989.3,463.1 989.4,462.0 989.4,461.0 989.5,460.0 989.6,459.0 989.7,458.2 989.7,457.4 989.8,456.5 989.9,455.6 989.9,454.7 990.0,453.9 990.0,452.9 990.1,452.0 990.2,451.1 990.2,450.1 990.3,449.1 990.4,448.1 990.4,447.2 990.5,446.2 990.6,445.1 990.6,444.2 990.7,443.1 990.8,442.1 990.8,441.1 990.9,440.2 991.0,439.1 991.0,438.1 991.1,437.1 991.2,436.1 991.2,435.1 991.3,434.1 991.4,433.2 991.4,432.2 991.5,431.2 991.6,430.3 991.6,429.4 991.7,428.4 991.7,427.5 991.8,426.7 991.9,425.8 991.9,424.9 992.0,424.1 992.0,423.3 992.1,422.5 992.2,421.7 992.2,421.0 992.3,420.3 992.3,419.6 992.4,418.9 992.4,418.3 992.5,417.7 992.5,417.1 992.6,416.6 992.9,414.1 993.1,412.1 993.3,410.7 993.5,409.6 993.7,408.8 993.9,408.5 994.1,408.5 994.3,408.6 994.5,409.1 994.6,409.2 994.7,409.8 994.9,410.4 995.0,411.1 995.1,411.9 995.3,412.9 995.4,413.8 995.5,414.8 995.7,415.9 995.8,417.0 995.9,418.2 996.1,419.3 996.2,420.3 996.3,421.4 996.5,422.5 996.6,423.4 996.7,424.2 996.9,425.1 997.0,425.7 997.3,427.1 997.6,428.6 997.9,429.7 998.2,430.8 998.4,431.6 998.7,432.3 999.0,432.1 999.3,431.8 999.4,431.4 999.5,431.0 999.6,430.3 999.8,429.6 999.9,428.8 1000.0,428.0 1000.1,427.1 1000.2,426.0 1000.4,425.1 1000.5,423.9 1000.6,422.9 1000.7,421.8 1000.8,420.7 1000.9,419.6 1001.1,418.7 1001.2,417.7 1001.3,416.7 1001.4,415.7 1001.5,415.0 1001.6,414.3 1001.7,413.6 1002.0,412.0 1002.2,410.7 1002.4,409.3 1002.6,408.1 1002.8,407.4 1003.0,406.8 1003.3,406.7 1003.5,407.0 1003.6,407.2 1003.7,407.9 1003.8,408.4 1004.0,409.1 1004.1,409.9 1004.2,410.9 1004.3,411.9 1004.5,413.0 1004.6,414.0 1004.7,415.1 1004.8,416.2 1004.9,417.3 1005.1,418.4 1005.2,419.3 1005.3,420.3 1005.4,421.1 1005.5,421.9 1005.6,422.7 1005.8,424.2 1006.0,425.8 1006.2,427.1 1006.3,428.2 1006.5,429.1 1006.7,429.2 1007.0,428.7 1007.1,428.4 1007.2,427.9 1007.3,427.5 1007.4,426.8 1007.6,426.2 1007.7,425.4 1007.8,424.6 1008.0,423.7 1008.1,422.8 1008.2,421.9 1008.4,420.9 1008.5,419.9 1008.7,418.8 1008.8,417.7 1008.9,416.7 1009.1,415.6 1009.2,414.7 1009.4,413.5 1009.5,412.5 1009.7,411.6 1009.8,410.5 1009.9,409.8 1010.0,408.9 1010.2,408.0 1010.3,407.0 1010.4,406.1 1010.5,405.2 1010.7,404.2 1010.8,403.2 1010.9,402.3 1011.0,401.2 1011.2,400.3 1011.3,399.3 1011.4,398.3 1011.5,397.4 1011.7,396.4 1011.8,395.5 1011.9,394.6 1012.0,393.8 1012.2,392.9 1012.3,392.2 1012.4,391.5 1012.5,390.7 1012.7,390.0 1012.8,389.5 1013.2,387.9 1013.6,386.2 1014.0,384.6 1014.4,383.4 1014.8,382.7 1015.2,382.5 1015.5,382.6 1015.9,383.4 1016.0,383.9 1016.1,384.2 1016.2,384.5 1016.2,385.0 1016.3,385.4 1016.4,385.9 1016.5,386.4 1016.6,386.9 1016.6,387.5 1016.7,388.1 1016.8,388.7 1016.9,389.4 1016.9,390.1 1017.0,390.8 1017.1,391.5 1017.1,392.4 1017.2,393.2 1017.3,394.2 1017.4,395.0 1017.4,396.0 1017.5,397.1 1017.6,398.2 1017.7,399.3 1017.7,400.5 1017.8,401.8 1017.9,403.1 1018.0,404.5 1018.0,406.0 1018.1,407.4 1018.2,409.0 1018.3,410.6 1018.3,411.2 1018.4,411.8 1018.4,412.5 1018.4,413.1 1018.5,413.8 1018.5,414.5 1018.5,415.2 1018.6,416.0 1018.6,416.7 1018.6,417.4 1018.7,418.1 1018.7,418.9 1018.7,419.7 1018.8,420.4 1018.8,421.2 1018.8,422.0 1018.9,422.8 1018.9,423.7 1018.9,424.5 1019.0,425.3 1019.0,426.2 1019.0,427.1 1019.1,427.9 1019.1,428.8 1019.1,429.7 1019.2,430.6 1019.2,431.5 1019.3,432.4 1019.3,433.3 1019.3,434.2 1019.4,435.1 1019.4,436.0 1019.4,437.0 1019.5,438.0 1019.5,438.9 1019.5,439.9 1019.6,440.8 1019.6,441.8 1019.7,442.7 1019.7,443.7 1019.7,444.7 1019.8,445.6 1019.8,446.6 1019.8,447.6 1019.9,448.6 1019.9,449.6 1019.9,450.6 1020.0,451.6 1020.0,452.6 1020.1,453.6 1020.1,454.5 1020.1,455.5 1020.2,456.5 1020.2,457.5 1020.2,458.5 1020.3,459.5 1020.3,460.5 1020.4,461.5 1020.4,462.5 1020.4,463.5 1020.5,464.5 1020.5,465.5 1020.5,466.5 1020.6,467.4 1020.6,468.4 1020.6,469.4 1020.7,470.4 1020.7,471.3 1020.8,472.3 1020.8,473.2 1020.8,474.2 1020.9,475.1 1020.9,476.1 1020.9,477.0 1021.0,477.9 1021.0,478.9 1021.0,479.8 1021.1,480.7 1021.1,481.6 1021.2,482.5 1021.2,483.4 1021.2,484.3 1021.3,485.1 1021.3,486.0 1021.3,486.9 1021.4,487.9 1021.4,488.8 1021.5,489.7 1021.5,490.7 1021.5,491.7 1021.6,492.6 1021.6,493.6 1021.7,494.6 1021.7,495.6 1021.7,496.5 1021.8,497.6 1021.8,498.5 1021.9,499.5 1021.9,500.5 1021.9,501.5 1022.0,502.5 1022.0,503.6 1022.1,504.6 1022.1,505.5 1022.2,506.6 1022.2,507.6 1022.2,508.6 1022.3,509.6 1022.3,510.6 1022.4,511.6 1022.4,512.6 1022.5,513.6 1022.5,514.6 1022.5,515.6 1022.6,516.6 1022.6,517.6 1022.7,518.6 1022.7,519.6 1022.7,520.6 1022.8,521.6 1022.8,522.6 1022.9,523.5 1022.9,524.5 1023.0,525.5 1023.0,526.4 1023.0,527.4 1023.1,528.3 1023.1,529.3 1023.2,530.2 1023.2,531.1 1023.2,532.1 1023.3,533.0 1023.3,533.9 1023.4,534.8 1023.4,535.7 1023.4,536.5 1023.5,537.4 1023.5,538.3 1023.5,539.1 1023.6,540.0 1023.6,540.8 1023.7,541.6 1023.7,542.4 1023.7,543.2 1023.8,544.0 1023.8,544.8 1023.8,545.5 1023.9,546.3 1023.9,547.0 1023.9,547.8 1024.0,548.4 1024.0,549.2 1024.0,549.9 1024.1,550.5 1024.1,551.2 1024.1,551.8 1024.2,552.4 1024.2,553.1 1024.2,553.6 1024.2,554.2 1024.3,554.7 1024.3,555.3 1024.4,557.8 1024.5,560.0 1024.6,562.0 1024.7,563.9 1024.8,565.4 1024.8,566.8 1024.9,567.9 1024.9,568.9 1025.0,569.6 1025.0,570.1 1025.1,570.4 1025.1,570.7 1025.2,570.3 1025.3,570.2 1025.4,569.6 1025.5,569.0 1025.5,568.7 1025.6,568.3 1025.6,568.0 1025.7,567.5 1025.7,567.0 1025.8,566.6 1025.8,566.0 1025.9,565.4 1026.0,564.8 1026.0,564.2 1026.1,563.5 1026.1,562.8 1026.2,562.0 1026.2,561.2 1026.3,560.4 1026.4,559.7 1026.4,558.7 1026.5,557.9 1026.5,557.0 1026.6,556.0 1026.7,555.1 1026.7,554.1 1026.8,553.1 1026.9,552.1 1026.9,551.1 1027.0,550.1 1027.1,549.0 1027.1,547.9 1027.2,546.9 1027.3,545.8 1027.3,544.7 1027.4,543.6 1027.5,542.5 1027.6,541.3 1027.6,540.2 1027.7,539.0 1027.8,537.8 1027.8,536.7 1027.9,535.6 1028.0,534.4 1028.1,533.3 1028.1,532.2 1028.2,531.0 1028.2,530.2 1028.3,529.5 1028.3,528.8 1028.4,528.0 1028.4,527.2 1028.5,526.4 1028.5,525.7 1028.6,524.9 1028.6,524.1 1028.7,523.3 1028.7,522.4 1028.8,521.7 1028.8,520.8 1028.9,520.0 1028.9,519.2 1029.0,518.3 1029.0,517.5 1029.1,516.7 1029.1,515.8 1029.2,514.9 1029.2,514.0 1029.3,513.1 1029.3,512.3 1029.4,511.4 1029.4,510.5 1029.5,509.6 1029.5,508.7 1029.6,507.8 1029.6,506.9 1029.7,506.0 1029.7,505.1 1029.8,504.2 1029.9,503.3 1029.9,502.3 1030.0,501.4 1030.0,500.5 1030.1,499.6 1030.1,498.6 1030.2,497.6 1030.2,496.7 1030.3,495.8 1030.3,494.8 1030.4,493.9 1030.5,492.9 1030.5,491.9 1030.6,491.0 1030.6,490.1 1030.7,489.1 1030.7,488.2 1030.8,487.2 1030.9,486.2 1030.9,485.3 1031.0,484.3 1031.0,483.4 1031.1,482.4 1031.1,481.4 1031.2,480.5 1031.3,479.5 1031.3,478.6 1031.4,477.6 1031.4,476.7 1031.5,475.8 1031.6,474.8 1031.6,473.9 1031.7,472.9 1031.7,471.9 1031.8,471.0 1031.9,470.1 1031.9,469.2 1032.0,468.4 1032.0,467.5 1032.1,466.6 1032.1,465.7 1032.2,464.8 1032.3,463.9 1032.3,463.0 1032.4,462.1 1032.4,461.1 1032.5,460.3 1032.6,459.3 1032.6,458.4 1032.7,457.4 1032.8,456.5 1032.8,455.5 1032.9,454.5 1032.9,453.6 1033.0,452.6 1033.1,451.7 1033.1,450.7 1033.2,449.7 1033.3,448.8 1033.3,447.8 1033.4,446.9 1033.5,445.8 1033.5,444.9 1033.6,443.9 1033.7,443.0 1033.7,441.9 1033.8,441.0 1033.9,440.0 1033.9,439.1 1034.0,438.1 1034.1,437.1 1034.1,436.1 1034.2,435.2 1034.3,434.2 1034.3,433.2 1034.4,432.3 1034.5,431.4 1034.5,430.4 1034.6,429.5 1034.7,428.5 1034.7,427.6 1034.8,426.6 1034.9,425.8 1034.9,424.8 1035.0,423.9 1035.1,423.0 1035.1,422.1 1035.2,421.2 1035.2,420.3 1035.3,419.4 1035.4,418.6 1035.4,417.7 1035.5,416.8 1035.6,416.0 1035.6,415.2 1035.7,414.4 1035.7,413.5 1035.8,412.8 1035.9,411.9 1035.9,411.2 1036.0,410.4 1036.0,409.7 1036.1,408.9 1036.1,408.1 1036.2,407.4 1036.2,406.6 1036.3,406.0 1036.3,405.3 1036.4,404.6 1036.5,403.3 1036.6,402.0 1036.7,400.8 1036.8,399.6 1036.9,398.5 1037.0,397.3 1037.1,396.2 1037.1,395.1 1037.2,394.0 1037.3,393.0 1037.4,392.0 1037.5,391.0 1037.5,390.0 1037.6,389.1 1037.7,388.1 1037.8,387.2 1037.9,386.4 1037.9,385.5 1038.0,384.7 1038.1,383.9 1038.1,383.1 1038.2,382.3 1038.3,381.5 1038.4,380.8 1038.4,380.0 1038.5,379.3 1038.6,378.5 1038.7,377.9 1038.7,377.2 1038.8,376.5 1038.9,375.9 1038.9,375.2 1039.0,374.6 1039.1,373.9 1039.2,373.3 1039.2,372.6 1039.3,372.1 1039.4,371.4 1039.6,369.9 1039.8,368.7 1040.0,367.5 1040.2,366.4 1040.3,365.3 1040.5,364.3 1040.7,363.4 1040.9,362.5 1041.1,361.9 1041.3,361.1 1041.5,360.6 1041.7,359.9 1041.8,359.3 1042.0,358.9 1042.2,358.3 1042.4,357.9 1043.1,356.3 1043.9,355.6 1044.6,355.5 1045.4,356.4 1045.6,356.7 1045.8,357.5 1046.1,358.3 1046.3,359.2 1046.5,360.4 1046.8,361.4 1047.0,362.7 1047.3,363.7 1047.5,364.8 1047.7,365.9 1048.0,366.9 1048.2,367.4 1048.5,367.9 1048.7,368.2 1049.0,368.5 1049.2,368.2 1049.4,368.0 1049.7,367.3 1049.9,366.8 1050.1,366.0 1050.3,365.1 1050.6,364.3 1050.8,363.3 1051.0,362.2 1051.3,361.1 1051.5,360.1 1051.7,359.0 1052.0,358.0 1052.2,356.9 1052.4,355.9 1052.6,354.9 1052.8,354.0 1053.0,353.2 1053.3,352.4 1053.5,351.2 1053.8,349.9 1054.0,348.8 1054.2,347.6 1054.5,346.6 1054.7,345.6 1054.9,344.7 1055.1,344.0 1055.3,343.2 1055.5,343.0 1055.8,342.5 1056.0,342.9 1056.2,342.9 1056.3,343.2 1056.5,343.4 1056.6,343.7 1056.8,343.9 1056.9,344.4 1057.1,344.7 1057.2,345.4 1057.4,346.0 1057.5,346.7 1057.7,347.4 1057.9,348.4 1058.0,349.4 1058.2,350.7 1058.3,352.1 1058.5,353.6 1058.7,355.3 1058.8,357.2 1059.0,359.3 1059.0,359.9 1059.1,360.5 1059.1,361.0 1059.2,361.6 1059.2,362.3 1059.3,362.9 1059.3,363.5 1059.4,364.2 1059.4,364.9 1059.5,365.5 1059.5,366.2 1059.5,366.9 1059.6,367.6 1059.6,368.3 1059.7,369.0 1059.7,369.7 1059.8,370.5 1059.8,371.2 1059.9,372.0 1059.9,372.8 1060.0,373.6 1060.0,374.4 1060.1,375.2 1060.1,375.9 1060.2,376.8 1060.2,377.6 1060.3,378.5 1060.3,379.3 1060.4,380.2 1060.4,381.0 1060.5,381.9 1060.5,382.8 1060.5,383.7 1060.6,384.6 1060.6,385.5 1060.7,386.4 1060.7,387.3 1060.8,388.3 1060.8,389.2 1060.9,390.2 1060.9,391.1 1061.0,392.0 1061.0,393.0 1061.1,394.0 1061.1,395.0 1061.2,395.9 1061.2,396.9 1061.3,397.9 1061.3,398.9 1061.4,399.9 1061.4,401.0 1061.5,402.0 1061.5,403.0 1061.6,404.1 1061.6,405.1 1061.7,406.1 1061.7,407.2 1061.8,408.2 1061.8,409.3 1061.9,410.4 1061.9,411.4 1062.0,412.5 1062.0,413.6 1062.1,414.7 1062.1,415.7 1062.2,416.8 1062.2,417.9 1062.3,419.1 1062.3,420.1 1062.4,421.2 1062.4,422.4 1062.5,423.5 1062.5,424.6 1062.6,425.7 1062.6,426.5 1062.7,427.2 1062.7,428.0 1062.7,428.7 1062.8,429.5 1062.8,430.3 1062.8,431.1 1062.9,431.9 1062.9,432.7 1062.9,433.5 1063.0,434.3 1063.0,435.1 1063.0,435.9 1063.1,436.8 1063.1,437.6 1063.2,438.4 1063.2,439.3 1063.2,440.1 1063.3,441.0 1063.3,441.9 1063.3,442.7 1063.4,443.6 1063.4,444.4 1063.4,445.3 1063.5,446.2 1063.5,447.1 1063.5,448.0 1063.6,448.9 1063.6,449.8 1063.7,450.6 1063.7,451.6 1063.7,452.4 1063.8,453.3 1063.8,454.3 1063.8,455.2 1063.9,456.1 1063.9,457.0 1063.9,458.0 1064.0,458.9 1064.0,459.8 1064.1,460.7 1064.1,461.7 1064.1,462.6 1064.2,463.5 1064.2,464.5 1064.2,465.4 1064.3,466.3 1064.3,467.3 1064.3,468.2 1064.4,469.2 1064.4,470.1 1064.5,471.1 1064.5,472.0 1064.5,473.0 1064.6,474.0 1064.6,474.9 1064.6,475.8 1064.7,476.8 1064.7,477.7 1064.8,478.7 1064.8,479.7 1064.8,480.6 1064.9,481.6 1064.9,482.5 1064.9,483.5 1065.0,484.4 1065.0,485.4 1065.0,486.3 1065.1,487.3 1065.1,488.2 1065.1,489.1 1065.2,490.1 1065.2,491.0 1065.3,492.0 1065.3,492.9 1065.3,493.9 1065.4,494.8 1065.4,495.8 1065.4,496.7 1065.5,497.6 1065.5,498.6 1065.5,499.5 1065.6,500.4 1065.6,501.4 1065.6,502.3 1065.7,503.2 1065.7,504.1 1065.7,505.0 1065.8,505.9 1065.8,506.9 1065.8,507.7 1065.9,508.7 1065.9,509.6 1065.9,510.5 1066.0,511.3 1066.0,512.2 1066.0,513.1 1066.1,514.0 1066.1,514.9 1066.1,515.7 1066.2,516.6 1066.2,517.4 1066.2,518.3 1066.3,519.2 1066.3,520.0 1066.3,520.9 1066.4,521.7 1066.4,522.6 1066.4,523.3 1066.5,524.2 1066.5,525.0 1066.5,526.0 1066.6,527.0 1066.6,528.0 1066.7,529.0 1066.7,530.0 1066.7,531.0 1066.8,532.0 1066.8,533.0 1066.8,534.0 1066.9,535.1 1066.9,536.1 1067.0,537.1 1067.0,538.1 1067.0,539.1 1067.1,540.2 1067.1,541.2 1067.1,542.2 1067.2,543.2 1067.2,544.2 1067.3,545.2 1067.3,546.3 1067.3,547.3 1067.4,548.3 1067.4,549.3 1067.4,550.3 1067.5,551.3 1067.5,552.4 1067.5,553.4 1067.6,554.4 1067.6,555.4 1067.7,556.4 1067.7,557.4 1067.7,558.4 1067.8,559.4 1067.8,560.4 1067.8,561.4 1067.9,562.4 1067.9,563.4 1067.9,564.3 1068.0,565.3 1068.0,566.3 1068.0,567.3 1068.1,568.2 1068.1,569.2 1068.2,570.2 1068.2,571.1 1068.2,572.0 1068.3,573.0 1068.3,573.9 1068.3,574.9 1068.4,575.8 1068.4,576.8 1068.4,577.7 1068.5,578.6 1068.5,579.5 1068.5,580.4 1068.6,581.3 1068.6,582.1 1068.6,583.0 1068.6,583.9 1068.7,584.8 1068.7,585.6 1068.7,586.5 1068.8,587.3 1068.8,588.1 1068.8,589.0 1068.9,589.8 1068.9,590.6 1068.9,591.4 1068.9,592.2 1069.0,592.9 1069.0,593.7 1069.0,594.5 1069.1,595.3 1069.1,596.0 1069.1,596.7 1069.1,597.5 1069.2,598.2 1069.2,598.9 1069.2,599.6 1069.3,600.3 1069.3,601.0 1069.3,601.6 1069.3,602.3 1069.4,602.9 1069.4,603.5 1069.4,604.2 1069.4,604.7 1069.5,605.3 1069.5,605.9 1069.5,606.5 1069.6,608.6 1069.7,610.6 1069.7,612.5 1069.8,614.3 1069.9,616.1 1069.9,617.7 1070.0,619.2 1070.0,620.7 1070.0,622.0 1070.1,623.2 1070.1,624.4 1070.2,625.3 1070.2,626.2 1070.2,627.0 1070.3,627.7 1070.3,628.2 1070.3,628.5 1070.4,628.8 1070.4,629.0 1070.5,628.9 1070.5,628.8 1070.6,628.5 1070.6,628.2 1070.7,627.6 1070.7,627.4 1070.8,627.1 1070.8,626.6 1070.8,626.4 1070.8,625.9 1070.9,625.5 1070.9,625.1 1070.9,624.6 1071.0,624.1 1071.0,623.6 1071.0,623.1 1071.1,622.5 1071.1,621.9 1071.1,621.3 1071.2,620.7 1071.2,620.0 1071.2,619.3 1071.3,618.6 1071.3,617.9 1071.4,617.1 1071.4,616.4 1071.4,615.6 1071.5,614.8 1071.5,613.9 1071.5,613.1 1071.6,612.2 1071.6,611.3 1071.6,610.4 1071.7,609.5 1071.7,608.5 1071.8,607.5 1071.8,606.5 1071.8,605.5 1071.9,604.5 1071.9,603.4 1072.0,602.3 1072.0,601.2 1072.0,600.1 1072.1,599.0 1072.1,597.9 1072.2,596.8 1072.2,595.6 1072.2,594.4 1072.3,593.2 1072.3,592.0 1072.4,590.8 1072.4,589.5 1072.4,588.3 1072.5,587.0 1072.5,585.7 1072.6,584.4 1072.6,583.1 1072.6,581.8 1072.7,580.5 1072.7,579.1 1072.8,577.8 1072.8,576.4 1072.8,575.7 1072.8,575.1 1072.9,574.4 1072.9,573.6 1072.9,573.0 1072.9,572.2 1072.9,571.5 1073.0,570.7 1073.0,570.0 1073.0,569.2 1073.0,568.4 1073.0,567.6 1073.1,566.8 1073.1,566.0 1073.1,565.2 1073.1,564.4 1073.1,563.5 1073.2,562.7 1073.2,561.8 1073.2,560.9 1073.2,560.1 1073.3,559.2 1073.3,558.3 1073.3,557.4 1073.3,556.5 1073.3,555.6 1073.4,554.7 1073.4,553.8 1073.4,552.8 1073.4,551.9 1073.4,551.0 1073.5,550.0 1073.5,549.1 1073.5,548.1 1073.5,547.2 1073.6,546.2 1073.6,545.2 1073.6,544.2 1073.6,543.3 1073.6,542.3 1073.7,541.3 1073.7,540.3 1073.7,539.3 1073.7,538.3 1073.8,537.3 1073.8,536.3 1073.8,535.3 1073.8,534.3 1073.9,533.3 1073.9,532.3 1073.9,531.3 1073.9,530.3 1073.9,529.3 1074.0,528.2 1074.0,527.2 1074.0,526.2 1074.0,525.2 1074.1,524.2 1074.1,523.1 1074.1,522.1 1074.1,521.1 1074.1,520.1 1074.2,519.1 1074.2,518.1 1074.2,517.0 1074.2,516.0 1074.3,515.0 1074.3,514.0 1074.3,513.0 1074.3,512.0 1074.3,511.0 1074.4,510.0 1074.4,509.0 1074.4,508.0 1074.4,507.1 1074.5,506.1 1074.5,505.1 1074.5,504.1 1074.5,503.1 1074.5,502.2 1074.6,501.2 1074.6,500.3 1074.6,499.3 1074.6,498.4 1074.6,497.4 1074.7,496.5 1074.7,495.6 1074.7,494.6 1074.7,493.7 1074.8,492.8 1074.8,491.9 1074.8,491.0 1074.8,490.1 1074.8,489.2 1074.9,488.4 1074.9,487.5 1074.9,486.7 1074.9,485.8 1074.9,485.0 1075.0,484.1 1075.0,483.3 1075.0,482.5 1075.0,481.7 1075.0,480.9 1075.1,480.2 1075.1,479.4 1075.1,478.6 1075.1,477.9 1075.1,477.1 1075.2,476.4 1075.2,475.7 1075.2,475.0 1075.2,474.3 1075.2,473.6 1075.2,473.0 1075.3,472.3 1075.3,471.6 1075.3,471.0 1075.3,469.5 1075.4,468.0 1075.4,466.6 1075.5,465.2 1075.5,463.8 1075.5,462.5 1075.6,461.2 1075.6,459.9 1075.7,458.7 1075.7,457.5 1075.7,456.4 1075.8,455.2 1075.8,454.1 1075.8,453.1 1075.9,452.1 1075.9,451.1 1076.0,450.1 1076.0,449.1 1076.0,448.2 1076.1,447.3 1076.1,446.4 1076.1,445.6 1076.2,444.7 1076.2,443.9 1076.2,443.1 1076.3,442.4 1076.3,441.6 1076.3,440.9 1076.4,440.2 1076.4,439.5 1076.4,438.8 1076.4,438.1 1076.5,437.4 1076.5,436.8 1076.5,436.2 1076.6,435.6 1076.6,435.0 1076.6,434.3 1076.7,433.8 1076.7,433.2 1076.7,432.6 1076.8,432.0 1076.8,431.5 1076.9,430.9 1076.9,430.4 1076.9,429.8 1077.0,429.3 1077.0,428.7 1077.1,426.7 1077.3,424.9 1077.4,423.4 1077.6,422.0 1077.7,420.7 1077.9,419.8 1078.0,418.9 1078.1,418.2 1078.3,417.7 1078.4,417.5 1078.6,417.7 1078.7,417.5 1078.9,418.0 1079.0,418.4 1079.1,418.7 1079.1,419.2 1079.2,419.8 1079.3,420.4 1079.4,421.2 1079.4,422.1 1079.5,423.0 1079.6,423.9 1079.7,424.9 1079.8,425.9 1079.8,426.9 1079.9,428.1 1080.0,429.2 1080.1,430.3 1080.2,431.3 1080.3,432.4 1080.3,433.5 1080.4,434.6 1080.5,435.6 1080.6,436.6 1080.7,437.5 1080.7,438.4 1080.8,439.2 1080.9,440.1 1081.0,440.7 1081.2,442.1 1081.4,443.5 1081.6,444.9 1081.8,446.2 1081.9,447.4 1082.1,448.5 1082.3,449.5 1082.5,450.3 1082.7,450.7 1082.9,451.3 1083.1,451.1 1083.3,451.1 1083.4,450.8 1083.5,450.3 1083.6,449.9 1083.7,449.5 1083.8,448.9 1083.9,448.1 1084.0,447.4 1084.1,446.6 1084.2,445.8 1084.3,444.9 1084.4,443.9 1084.5,442.9 1084.5,441.9 1084.6,440.8 1084.7,439.7 1084.8,438.6 1084.9,437.5 1085.1,436.3 1085.2,435.1 1085.3,434.0 1085.4,432.8 1085.5,431.7 1085.6,431.0 1085.7,430.2 1085.7,429.4 1085.8,428.6 1085.9,427.6 1086.0,426.8 1086.1,425.9 1086.2,424.9 1086.3,424.0 1086.3,423.0 1086.4,422.1 1086.5,421.0 1086.6,420.0 1086.7,419.1 1086.8,418.0 1086.9,417.0 1087.0,416.0 1087.1,415.1 1087.2,414.1 1087.3,413.0 1087.4,412.1 1087.5,411.1 1087.5,410.2 1087.6,409.3 1087.7,408.4 1087.8,407.5 1087.9,406.6 1088.0,405.8 1088.1,405.0 1088.2,404.2 1088.3,403.5 1088.3,402.7 1088.4,402.1 1088.5,401.5 1088.7,399.8 1088.9,398.0 1089.1,396.4 1089.3,394.8 1089.5,393.5 1089.7,392.3 1089.8,391.2 1090.0,390.4 1090.2,389.9 1090.4,390.1 1090.7,390.2 1090.9,391.0 1091.0,391.4 1091.1,391.7 1091.1,392.0 1091.2,392.5 1091.3,393.0 1091.4,393.6 1091.5,394.2 1091.6,394.8 1091.7,395.5 1091.8,396.1 1091.9,396.8 1091.9,397.4 1092.0,398.2 1092.1,399.1 1092.2,399.9 1092.3,400.7 1092.4,401.6 1092.5,402.5 1092.6,403.5 1092.7,404.4 1092.8,405.4 1092.9,406.4 1093.0,407.4 1093.1,408.4 1093.2,409.5 1093.3,410.6 1093.4,411.6 1093.5,412.8 1093.6,413.9 1093.7,415.0 1093.8,416.2 1093.9,417.3 1094.0,418.5 1094.1,419.7 1094.2,420.8 1094.2,422.1 1094.3,423.3 1094.4,424.4 1094.5,425.7 1094.5,426.4 1094.6,427.1 1094.6,427.9 1094.7,428.7 1094.7,429.5 1094.8,430.2 1094.8,431.1 1094.9,431.9 1094.9,432.7 1095.0,433.6 1095.0,434.4 1095.0,435.4 1095.1,436.3 1095.1,437.2 1095.2,438.1 1095.2,439.0 1095.3,440.0 1095.3,440.9 1095.4,441.9 1095.4,442.9 1095.4,443.9 1095.5,444.8 1095.5,445.8 1095.6,446.8 1095.6,447.8 1095.7,448.8 1095.7,449.8 1095.7,450.8 1095.8,451.8 1095.8,452.8 1095.9,453.9 1095.9,454.8 1095.9,455.9 1096.0,456.9 1096.0,457.9 1096.1,458.9 1096.1,459.9 1096.1,460.9 1096.2,461.9 1096.2,462.9 1096.3,463.9 1096.3,464.9 1096.3,465.8 1096.4,466.8 1096.4,467.7 1096.4,468.7 1096.5,469.6 1096.5,470.6 1096.6,471.5 1096.6,472.4 1096.6,473.3 1096.7,474.2 1096.7,475.0 1096.7,475.9 1096.8,476.8 1096.8,477.5 1096.8,478.4 1096.9,479.2 1096.9,479.9 1096.9,480.7 1097.0,481.4 1097.0,482.1 1097.0,482.8 1097.1,483.5 1097.1,484.2 1097.1,484.8 1097.2,485.4 1097.2,486.0 1097.3,487.8 1097.4,489.6 1097.5,491.3 1097.5,492.8 1097.6,494.3 1097.7,495.7 1097.8,497.0 1097.8,498.3 1097.9,499.4 1097.9,500.3 1098.0,501.3 1098.1,502.1 1098.1,502.8 1098.2,503.3 1098.2,503.9 1098.3,504.1 1098.4,504.4 1098.5,504.5 1098.5,504.4 1098.6,504.3 1098.7,504.0 1098.8,503.7 1098.8,503.4 1098.9,503.1 1098.9,502.7 1099.0,502.2 1099.0,501.7 1099.1,501.1 1099.1,500.5 1099.2,499.8 1099.3,499.1 1099.3,498.3 1099.4,497.5 1099.4,496.6 1099.5,495.8 1099.6,494.9 1099.6,493.9 1099.7,492.9 1099.8,491.9 1099.8,491.0 1099.9,489.9 1099.9,488.8 1100.0,487.7 1100.1,486.6 1100.1,485.5 1100.2,484.4 1100.3,483.3 1100.3,482.1 1100.4,481.0 1100.5,479.9 1100.5,478.8 1100.6,477.6 1100.7,476.5 1100.7,475.3 1100.8,474.3 1100.9,473.2 1100.9,472.1 1101.0,471.0 1101.0,470.2 1101.1,469.4 1101.1,468.6 1101.2,467.8 1101.2,466.9 1101.3,466.0 1101.3,465.2 1101.4,464.2 1101.4,463.3 1101.5,462.4 1101.5,461.5 1101.6,460.5 1101.6,459.5 1101.7,458.6 1101.7,457.6 1101.8,456.6 1101.8,455.6 1101.9,454.6 1101.9,453.6 1102.0,452.7 1102.0,451.6 1102.1,450.6 1102.1,449.6 1102.2,448.6 1102.2,447.7 1102.3,446.6 1102.3,445.6 1102.4,444.7 1102.4,443.7 1102.5,442.7 1102.5,441.7 1102.6,440.8 1102.6,439.8 1102.7,438.9 1102.7,438.0 1102.8,437.1 1102.8,436.2 1102.9,435.3 1102.9,434.4 1103.0,433.6 1103.0,432.8 1103.1,432.0 1103.1,431.2 1103.2,430.4 1103.2,429.6 1103.3,428.9 1103.3,428.2 1103.4,427.6 1103.4,426.9 1103.5,426.3 1103.5,425.7 1103.6,423.9 1103.8,422.2 1103.9,420.6 1104.0,419.1 1104.2,417.6 1104.3,416.4 1104.4,415.2 1104.6,414.3 1104.7,413.3 1104.8,412.7 1104.9,412.0 1105.1,411.7 1105.2,411.3 1105.3,411.6 1105.5,411.5 1105.6,412.0 1105.7,412.3 1105.7,412.6 1105.8,413.0 1105.9,413.5 1106.0,414.0 1106.0,414.6 1106.1,415.2 1106.2,415.9 1106.2,416.7 1106.3,417.4 1106.4,418.2 1106.5,419.1 1106.5,420.0 1106.6,420.9 1106.7,421.9 1106.8,423.0 1106.8,423.9 1106.9,425.0 1107.0,426.0 1107.1,427.1 1107.1,428.1 1107.2,429.3 1107.3,430.3 1107.4,431.4 1107.4,432.5 1107.5,433.5 1107.6,434.7 1107.7,435.7 1107.7,436.7 1107.8,437.8 1107.9,438.8 1107.9,439.8 1108.0,440.7 1108.1,441.5 1108.1,442.4 1108.2,443.3 1108.2,444.1 1108.3,445.0 1108.3,445.9 1108.4,446.8 1108.4,447.8 1108.5,448.7 1108.6,449.7 1108.6,450.7 1108.7,451.6 1108.7,452.6 1108.8,453.5 1108.8,454.5 1108.9,455.5 1108.9,456.5 1109.0,457.4 1109.0,458.4 1109.1,459.4 1109.1,460.3 1109.2,461.2 1109.2,462.2 1109.3,463.1 1109.3,464.0 1109.4,464.9 1109.4,465.8 1109.5,466.7 1109.5,467.5 1109.6,468.3 1109.6,469.1 1109.7,469.9 1109.7,470.7 1109.8,471.4 1109.8,472.1 1109.9,472.7 1109.9,473.4 1110.0,474.0 1110.1,475.7 1110.3,477.3 1110.4,478.9 1110.6,480.5 1110.7,482.0 1110.8,483.3 1111.0,484.5 1111.1,485.6 1111.2,486.4 1111.4,487.0 1111.5,487.4 1111.7,487.0 1111.8,486.7 1112.0,485.9 1112.1,485.7 1112.1,485.2 1112.2,484.9 1112.2,484.4 1112.3,483.8 1112.3,483.3 1112.4,482.8 1112.5,482.1 1112.5,481.4 1112.6,480.8 1112.6,480.0 1112.7,479.2 1112.8,478.5 1112.8,477.7 1112.9,476.8 1112.9,475.9 1113.0,475.0 1113.1,474.1 1113.1,473.2 1113.2,472.1 1113.3,471.2 1113.3,470.2 1113.4,469.1 1113.5,468.1 1113.5,467.1 1113.6,466.0 1113.7,465.0 1113.7,463.9 1113.8,462.8 1113.8,461.7 1113.9,460.6 1114.0,459.5 1114.0,458.4 1114.1,457.4 1114.2,456.3 1114.2,455.2 1114.3,454.1 1114.3,453.0 1114.4,452.0 1114.5,450.9 1114.5,449.8 1114.6,448.8 1114.6,447.8 1114.7,446.8 1114.7,446.0 1114.8,445.2 1114.8,444.3 1114.9,443.4 1114.9,442.5 1115.0,441.7 1115.0,440.7 1115.1,439.9 1115.1,438.9 1115.2,438.0 1115.2,437.0 1115.2,436.0 1115.3,435.1 1115.3,434.1 1115.4,433.2 1115.4,432.2 1115.5,431.2 1115.5,430.2 1115.5,429.2 1115.6,428.2 1115.6,427.2 1115.7,426.2 1115.7,425.2 1115.8,424.2 1115.8,423.2 1115.8,422.2 1115.9,421.2 1115.9,420.2 1116.0,419.2 1116.0,418.3 1116.0,417.3 1116.1,416.4 1116.1,415.4 1116.2,414.4 1116.2,413.5 1116.3,412.6 1116.3,411.7 1116.3,410.8 1116.4,409.9 1116.4,409.0 1116.5,408.1 1116.5,407.3 1116.5,406.5 1116.6,405.6 1116.6,404.8 1116.7,404.0 1116.7,403.3 1116.8,402.5 1116.8,401.8 1116.8,401.1 1116.9,400.4 1116.9,399.7 1117.0,399.1 1117.0,398.5 1117.1,396.8 1117.2,395.2 1117.4,393.7 1117.5,392.3 1117.6,390.9 1117.7,389.8 1117.8,388.5 1117.9,387.5 1118.0,386.5 1118.2,385.6 1118.3,384.7 1118.4,384.0 1118.5,383.4 1118.6,383.1 1118.7,382.5 1118.8,382.1 1119.0,382.1 1119.1,381.8 1119.2,382.2 1119.3,382.1 1119.4,382.3 1119.5,382.7 1119.6,383.3 1119.7,383.8 1119.8,384.5 1119.9,385.3 1120.1,386.1 1120.2,387.1 1120.3,387.9 1120.4,389.0 1120.5,390.1 1120.6,391.2 1120.7,392.3 1120.8,393.4 1120.9,394.6 1121.1,395.9 1121.2,397.0 1121.3,398.1 1121.4,399.3 1121.5,400.5 1121.6,401.5 1121.7,402.3 1121.8,403.1 1121.8,403.9 1121.9,404.7 1122.0,405.6 1122.1,406.6 1122.2,407.4 1122.2,408.4 1122.3,409.4 1122.4,410.3 1122.5,411.2 1122.6,412.2 1122.6,413.3 1122.7,414.2 1122.8,415.2 1122.9,416.2 1123.0,417.2 1123.0,418.1 1123.1,419.1 1123.2,419.9 1123.3,420.9 1123.3,421.8 1123.4,422.7 1123.5,423.6 1123.6,424.4 1123.6,425.2 1123.7,425.9 1123.8,426.7 1123.9,427.4 1123.9,428.0 1124.0,428.7 1124.2,430.3 1124.3,431.8 1124.5,433.2 1124.6,434.6 1124.7,435.9 1124.9,436.9 1125.0,437.8 1125.1,438.6 1125.3,439.1 1125.4,439.5 1125.6,439.2 1125.8,438.9 1125.9,438.6 1126.0,438.4 1126.1,438.1 1126.2,437.5 1126.3,437.0 1126.4,436.4 1126.5,435.9 1126.6,435.2 1126.7,434.5 1126.9,433.6 1127.0,432.9 1127.1,432.0 1127.2,431.1 1127.3,430.1 1127.5,429.2 1127.6,428.2 1127.7,427.1 1127.8,426.1 1128.0,424.9 1128.1,423.8 1128.2,422.7 1128.3,421.5 1128.4,420.2 1128.6,419.0 1128.7,417.8 1128.8,416.6 1128.9,415.9 1128.9,415.2 1129.0,414.5 1129.1,413.7 1129.1,413.0 1129.2,412.1 1129.2,411.3 1129.3,410.5 1129.4,409.6 1129.4,408.8 1129.5,407.9 1129.5,407.1 1129.6,406.1 1129.7,405.2 1129.7,404.3 1129.8,403.3 1129.9,402.4 1129.9,401.5 1130.0,400.5 1130.0,399.5 1130.1,398.5 1130.2,397.6 1130.2,396.6 1130.3,395.6 1130.4,394.7 1130.4,393.7 1130.5,392.7 1130.5,391.7 1130.6,390.7 1130.7,389.8 1130.7,388.9 1130.8,387.9 1130.9,387.0 1130.9,386.0 1131.0,385.1 1131.1,384.1 1131.1,383.3 1131.2,382.4 1131.3,381.5 1131.3,380.7 1131.4,379.8 1131.5,379.0 1131.5,378.2 1131.6,377.4 1131.7,376.6 1131.8,375.9 1131.8,375.1 1131.9,374.4 1132.0,373.3 1132.2,372.1 1132.3,370.9 1132.4,369.8 1132.5,368.7 1132.7,367.7 1132.8,366.6 1132.9,365.5 1133.1,364.5 1133.2,363.5 1133.3,362.6 1133.5,361.6 1133.6,360.8 1133.8,359.8 1133.9,358.9 1134.0,358.1 1134.2,357.3 1134.3,356.6 1134.5,355.8 1134.6,355.0 1134.8,354.4 1134.9,353.6 1135.1,352.9 1135.2,352.3 1135.4,351.7 1135.5,351.1 1135.7,350.6 1135.8,349.9 1136.4,348.2 1137.1,346.5 1137.8,345.6 1138.4,344.7 1139.1,344.8 1139.7,345.1 1140.3,345.9 1140.5,346.3 1140.6,346.6 1140.8,347.0 1140.9,347.6 1141.1,348.1 1141.2,348.7 1141.3,349.3 1141.5,350.0 1141.6,350.9 1141.7,351.6 1141.9,352.4 1142.0,353.3 1142.1,354.2 1142.2,355.2 1142.4,356.2 1142.5,357.2 1142.6,358.3 1142.7,359.4 1142.8,360.5 1142.9,361.7 1143.1,362.9 1143.2,364.2 1143.3,365.4 1143.4,366.1 1143.4,366.8 1143.5,367.5 1143.5,368.3 1143.6,369.1 1143.7,369.9 1143.7,370.8 1143.8,371.7 1143.8,372.6 1143.9,373.5 1143.9,374.5 1144.0,375.4 1144.1,376.4 1144.1,377.3 1144.2,378.3 1144.2,379.3 1144.3,380.3 1144.3,381.3 1144.4,382.4 1144.4,383.3 1144.5,384.4 1144.5,385.4 1144.6,386.4 1144.6,387.4 1144.7,388.4 1144.8,389.4 1144.8,390.4 1144.9,391.4 1144.9,392.4 1145.0,393.4 1145.0,394.3 1145.1,395.2 1145.1,396.1 1145.2,397.1 1145.2,398.0 1145.3,398.8 1145.3,399.6 1145.4,400.4 1145.4,401.2 1145.5,401.9 1145.5,402.6 1145.6,403.3 1145.6,404.0 1145.7,404.6 1145.8,406.2 1146.0,407.8 1146.1,409.3 1146.3,410.7 1146.4,412.1 1146.6,413.3 1146.7,414.6 1146.9,415.6 1147.0,416.4 1147.2,417.3 1147.3,417.8 1147.4,418.1 1147.6,418.4 1147.7,418.6 1147.9,418.4 1148.0,417.9 1148.1,417.8 1148.1,417.4 1148.2,416.9 1148.3,416.3 1148.3,415.7 1148.4,415.0 1148.5,414.3 1148.5,413.4 1148.6,412.5 1148.7,411.6 1148.7,410.7 1148.8,409.6 1148.8,408.6 1148.9,407.5 1149.0,406.4 1149.0,405.3 1149.1,404.2 1149.2,403.0 1149.2,401.9 1149.3,400.8 1149.3,399.6 1149.4,398.6 1149.5,397.5 1149.5,396.4 1149.6,395.4 1149.6,394.4 1149.7,393.5 1149.8,392.5 1149.8,391.7 1149.9,390.9 1149.9,390.1 1150.0,389.5 1150.1,388.0 1150.3,386.5 1150.4,385.0 1150.6,383.6 1150.7,382.2 1150.8,381.1 1151.0,380.0 1151.1,379.1 1151.2,378.3 1151.4,377.9 1151.5,377.8 1151.6,377.7 1151.8,378.0 1151.9,378.3 1151.9,378.5 1152.0,379.1 1152.1,379.6 1152.2,380.2 1152.3,380.8 1152.3,381.6 1152.4,382.4 1152.5,383.2 1152.6,384.1 1152.6,385.1 1152.7,386.0 1152.8,387.0 1152.9,388.0 1153.0,389.1 1153.1,390.2 1153.1,391.2 1153.2,392.3 1153.3,393.4 1153.4,394.5 1153.5,395.5 1153.6,396.7 1153.6,397.7 1153.7,398.7 1153.8,399.6 1153.9,400.6 1154.0,401.5 1154.1,402.4 1154.2,403.2 1154.3,404.2 1154.4,405.1 1154.5,406.0 1154.6,406.9 1154.7,407.9 1154.8,408.8 1154.9,409.9 1155.0,410.8 1155.1,411.9 1155.2,412.8 1155.3,413.7 1155.4,414.7 1155.5,415.7 1155.6,416.6 1155.7,417.5 1155.8,418.4 1155.9,419.3 1155.9,420.1 1156.0,420.9 1156.1,421.7 1156.2,422.4 1156.3,423.1 1156.4,423.9 1156.5,424.5 1156.5,425.2 1156.6,425.7 1156.8,427.8 1157.0,429.7 1157.2,431.2 1157.3,432.4 1157.4,432.9 1157.6,432.6 1157.8,431.7 1157.9,431.3 1157.9,431.0 1158.0,430.5 1158.0,430.0 1158.1,429.4 1158.2,428.7 1158.2,428.2 1158.3,427.5 1158.3,426.7 1158.4,426.0 1158.5,425.2 1158.5,424.3 1158.6,423.5 1158.7,422.6 1158.8,421.7 1158.8,420.7 1158.9,419.7 1159.0,418.8 1159.0,417.7 1159.1,416.7 1159.2,415.7 1159.3,414.6 1159.4,413.5 1159.4,412.4 1159.5,411.3 1159.6,410.2 1159.7,409.1 1159.8,407.9 1159.8,406.9 1159.9,405.7 1160.0,404.6 1160.1,403.9 1160.1,403.1 1160.2,402.3 1160.2,401.5 1160.3,400.7 1160.3,399.9 1160.4,399.0 1160.4,398.2 1160.5,397.2 1160.5,396.4 1160.6,395.5 1160.7,394.6 1160.7,393.6 1160.8,392.7 1160.8,391.8 1160.9,390.8 1160.9,389.8 1161.0,388.9 1161.1,387.9 1161.1,386.9 1161.2,385.9 1161.2,384.9 1161.3,384.0 1161.4,383.0 1161.4,382.0 1161.5,381.1 1161.5,380.0 1161.6,379.1 1161.7,378.1 1161.7,377.1 1161.8,376.2 1161.9,375.2 1161.9,374.3 1162.0,373.4 1162.1,372.5 1162.1,371.6 1162.2,370.7 1162.3,369.8 1162.3,368.9 1162.4,368.1 1162.5,367.2 1162.6,366.4 1162.6,365.7 1162.7,364.9 1162.8,364.1 1162.8,363.4 1162.9,362.6 1163.0,362.1 1163.1,360.8 1163.3,359.6 1163.4,358.5 1163.6,357.3 1163.8,356.2 1163.9,355.1 1164.1,354.2 1164.2,353.2 1164.4,352.2 1164.6,351.3 1164.8,350.3 1164.9,349.3 1165.1,348.5 1165.3,347.8 1165.5,346.9 1165.6,346.2 1165.8,345.4 1166.0,344.7 1166.2,344.0 1166.3,343.3 1166.5,342.7 1166.7,342.0 1166.9,341.5 1167.1,340.9 1167.2,340.2 1167.4,339.7 1167.9,338.3 1168.4,337.1 1168.9,336.4 1169.4,335.6 1169.9,335.1 1170.4,334.7 1170.9,334.2 1171.5,333.9 1172.0,333.8 1172.8,333.2 1173.7,332.8 1174.6,332.7 1175.5,332.6 1176.3,332.9 1177.0,333.6 1177.3,334.1 1177.6,334.6 1177.8,335.0 1178.0,335.7 1178.2,336.2 1178.4,336.9 1178.6,337.8 1178.8,338.8 1178.9,339.7 1179.1,341.0 1179.3,342.5 1179.5,344.0 1179.6,344.6 1179.6,345.2 1179.7,346.0 1179.8,346.7 1179.9,347.5 1179.9,348.4 1180.0,349.2 1180.1,350.1 1180.2,350.9 1180.2,351.8 1180.3,352.9 1180.4,353.8 1180.5,354.7 1180.5,355.7 1180.6,356.7 1180.7,357.7 1180.8,358.7 1180.8,359.8 1180.9,360.8 1181.0,361.8 1181.1,362.8 1181.1,363.8 1181.2,364.7 1181.3,365.8 1181.4,366.7 1181.4,367.7 1181.5,368.5 1181.6,369.4 1181.6,370.3 1181.7,371.1 1181.8,371.8 1181.9,372.7 1181.9,373.3 1182.0,374.0 1182.1,375.4 1182.3,376.8 1182.4,378.1 1182.6,379.5 1182.7,380.8 1182.9,382.0 1183.0,383.2 1183.1,384.3 1183.3,385.3 1183.4,386.2 1183.6,386.9 1183.7,387.4 1183.8,388.0 1184.0,388.0 1184.1,388.0 1184.3,388.0 1184.4,387.9 1184.5,387.4 1184.6,387.1 1184.7,386.4 1184.8,385.9 1184.9,385.3 1185.0,384.5 1185.1,383.7 1185.2,382.8 1185.3,381.9 1185.4,380.9 1185.5,379.9 1185.6,378.9 1185.7,377.8 1185.8,376.7 1185.9,375.6 1186.0,374.5 1186.1,373.4 1186.2,372.3 1186.3,371.1 1186.5,370.0 1186.6,368.9 1186.7,368.0 1186.8,366.9 1186.9,365.9 1187.0,365.0 1187.1,364.1 1187.2,363.2 1187.3,362.3 1187.4,361.4 1187.5,360.5 1187.6,359.5 1187.7,358.6 1187.8,357.7 1187.9,356.7 1188.0,355.7 1188.1,354.8 1188.1,353.8 1188.2,352.8 1188.3,352.0 1188.4,351.0 1188.5,350.1 1188.7,349.2 1188.8,348.2 1188.9,347.4 1189.0,346.4 1189.1,345.6 1189.3,344.8 1189.4,343.9 1189.5,343.2 1189.7,342.4 1189.8,341.8 1190.0,340.9 1190.3,339.8 1190.6,338.9 1190.9,338.0 1191.2,337.0 1191.6,336.1 1192.0,335.1 1192.3,334.2 1192.7,333.3 1193.1,332.8 1193.5,331.8 1193.9,331.1 1194.2,330.6 1194.6,330.0 1195.0,329.3 1195.3,328.9 1195.7,328.2 1196.0,327.8 1196.7,326.6 1197.5,325.5 1198.2,324.9 1198.9,324.4 1199.5,324.3 1200.1,324.0 1200.6,324.6 1200.8,325.2 1201.0,325.5 1201.2,325.8 1201.4,326.4 1201.5,327.0 1201.7,327.8 1201.8,328.5 1202.0,329.3 1202.1,330.2 1202.2,331.0 1202.4,332.1 1202.5,333.2 1202.6,334.2 1202.7,335.5 1202.9,336.7 1203.0,338.0 1203.1,338.7 1203.1,339.3 1203.2,340.1 1203.3,340.8 1203.3,341.6 1203.4,342.4 1203.4,343.3 1203.5,344.1 1203.6,344.9 1203.6,345.8 1203.7,346.7 1203.7,347.7 1203.8,348.7 1203.9,349.6 1203.9,350.6 1204.0,351.5 1204.0,352.5 1204.1,353.5 1204.1,354.4 1204.2,355.4 1204.3,356.4 1204.3,357.4 1204.4,358.3 1204.4,359.3 1204.5,360.3 1204.5,361.2 1204.6,362.1 1204.7,363.0 1204.7,363.9 1204.8,364.8 1204.8,365.6 1204.9,366.4 1204.9,367.2 1205.0,368.0 1205.1,369.1 1205.2,370.2 1205.2,371.3 1205.3,372.5 1205.4,373.5 1205.5,374.7 1205.6,375.8 1205.6,376.9 1205.7,378.1 1205.8,379.1 1205.9,380.2 1206.0,381.2 1206.0,382.3 1206.1,383.2 1206.2,384.1 1206.3,385.0 1206.4,385.7 1206.5,386.6 1206.5,387.2 1206.6,387.8 1206.7,388.4 1206.8,388.9 1206.9,389.3 1207.0,389.4 1207.2,389.8 1207.4,389.4 1207.7,388.4 1207.9,387.3 1208.2,385.8 1208.4,384.4 1208.6,382.9 1208.9,381.6 1209.1,380.7 1209.4,380.0 1209.6,380.1 1209.7,380.3 1209.9,380.8 1210.0,381.2 1210.1,381.8 1210.3,382.5 1210.4,383.4 1210.5,384.4 1210.6,385.4 1210.8,386.4 1210.9,387.5 1211.0,388.6 1211.2,389.7 1211.3,390.7 1211.4,391.9 1211.6,392.8 1211.7,393.8 1211.9,394.7 1212.0,395.5 1212.2,396.6 1212.4,397.6 1212.6,398.9 1212.8,400.2 1213.1,401.3 1213.3,402.5 1213.5,403.7 1213.8,404.8 1214.0,405.7 1214.2,406.3 1214.4,407.2 1214.6,407.6 1214.8,407.5 1215.0,407.7 1215.1,407.6 1215.2,407.2 1215.3,406.8 1215.4,406.2 1215.5,405.7 1215.6,405.2 1215.7,404.5 1215.8,403.8 1215.9,402.9 1216.0,402.0 1216.1,401.1 1216.2,400.1 1216.3,399.1 1216.3,398.1 1216.4,396.9 1216.5,395.7 1216.6,394.5 1216.7,393.3 1216.8,392.1 1216.9,390.8 1217.0,389.5 1217.1,388.8 1217.1,388.1 1217.2,387.3 1217.2,386.6 1217.3,385.7 1217.3,384.9 1217.4,384.1 1217.4,383.2 1217.5,382.2 1217.5,381.4 1217.6,380.4 1217.6,379.4 1217.7,378.5 1217.7,377.5 1217.8,376.4 1217.8,375.4 1217.9,374.4 1217.9,373.5 1218.0,372.4 1218.0,371.4 1218.1,370.4 1218.1,369.3 1218.2,368.3 1218.2,367.3 1218.3,366.3 1218.3,365.4 1218.4,364.3 1218.5,363.4 1218.5,362.5 1218.6,361.5 1218.6,360.6 1218.7,359.7 1218.8,358.9 1218.8,358.1 1218.9,357.2 1219.0,356.5 1219.0,355.6 1219.1,355.0 1219.2,354.3 1219.2,353.6 1219.3,353.1 1219.5,351.4 1219.7,349.9 1220.0,348.8 1220.2,347.6 1220.5,346.9 1220.7,346.0 1221.0,345.3 1221.3,344.6 1221.5,343.9 1221.8,343.6 1222.1,343.1 1222.4,342.3 1222.7,341.6 1223.0,340.9 1223.4,340.1 1223.7,339.2 1224.1,338.3 1224.5,337.4 1224.9,336.6 1225.4,335.9 1225.8,335.1 1226.2,334.5 1226.6,333.8 1227.0,333.1 1227.3,332.6 1227.7,332.1 1228.4,331.0 1229.0,330.3 1229.6,329.4 1230.1,329.1 1230.7,329.0 1231.3,328.8 1231.8,329.4 1232.2,329.9 1232.7,330.7 1233.2,331.5 1233.7,332.7 1234.1,333.5 1234.6,334.3 1235.0,335.2 1235.6,335.9 1236.3,336.8 1236.8,337.4 1237.4,337.9 1238.0,337.8 1238.7,337.8 1239.4,337.0 1240.2,336.2 1241.0,336.7 1241.3,337.1 1241.6,337.7 1242.0,338.5 1242.3,339.3 1242.7,340.4 1243.1,341.2 1243.4,342.4 1243.8,343.1 1244.1,344.0 1244.4,344.9 1244.7,345.4 1245.0,346.0 1245.8,346.2 1246.4,345.5 1247.0,343.9 1247.3,343.4 1247.6,342.3 1248.0,341.1 1248.3,339.9 1248.7,338.8 1249.1,338.1 1249.4,337.7 1249.7,337.5 1249.9,337.9 1250.0,338.2 1250.2,338.9 1250.3,339.5 1250.5,340.4 1250.6,341.1 1250.7,342.1 1250.9,343.1 1251.0,344.1 1251.1,345.3 1251.3,346.4 1251.5,347.6 1251.6,348.8 1251.8,349.9 1251.9,350.7 1252.0,351.4 1252.1,352.2 1252.3,353.0 1252.4,353.9 1252.5,354.8 1252.6,355.6 1252.8,356.6 1252.9,357.5 1253.0,358.4 1253.2,359.4 1253.3,360.4 1253.5,361.4 1253.6,362.3 1253.7,363.2 1253.9,364.2 1254.0,365.1 1254.1,366.0 1254.2,366.9 1254.4,367.7 1254.5,368.5 1254.6,369.3 1254.7,370.1 1254.8,370.8 1254.9,371.4 1255.1,372.8 1255.3,374.1 1255.4,375.5 1255.5,376.7 1255.6,377.9 1255.7,378.9 1255.8,379.7 1255.9,380.2 1256.1,380.8 1256.2,381.0 1256.4,381.1 1256.5,380.9 1256.7,380.5 1256.9,379.9 1257.1,379.3 1257.2,378.5 1257.4,377.6 1257.6,376.5 1257.8,375.5 1258.0,374.5 1258.2,373.4 1258.4,372.3 1258.6,371.2 1258.8,370.1 1259.0,369.1 1259.2,368.3 1259.4,367.5 1259.5,366.5 1259.7,365.5 1259.9,364.6 1260.0,363.6 1260.2,362.6 1260.4,361.7 1260.5,360.6 1260.7,359.7 1260.9,358.6 1261.0,357.7 1261.2,356.9 1261.4,356.1 1261.6,355.5 1261.7,354.7 1261.9,354.2 1262.1,353.7 1262.8,352.9 1263.5,353.1 1264.2,353.7 1264.9,354.4 1265.6,354.5 1266.4,354.2 1267.1,353.7 1267.8,353.0 1268.5,353.2 1268.9,353.6 1269.2,354.4 1269.6,355.4 1269.9,356.3 1270.2,357.2 1270.6,358.2 1270.9,359.0 1271.3,359.6 1272.0,360.7 1272.7,361.5 1273.4,361.8 1274.2,361.8 1274.6,361.3 1274.9,360.8 1275.3,360.2 1275.7,359.3 1276.2,358.3 1276.6,357.6 1277.0,356.7 1277.3,356.1 1277.7,355.3 1278.5,354.9 1279.2,354.6 1279.9,354.7 1280.6,353.8 1280.9,353.3 1281.2,352.8 1281.5,351.9 1281.7,351.0 1282.0,350.3 1282.3,349.4 1282.7,349.0 1283.5,348.6 1284.4,348.6 1285.3,348.8 1286.2,348.4 1286.7,347.9 1287.2,347.1 1287.7,346.4 1288.2,345.3 1288.7,344.5 1289.3,343.9 1289.8,343.3 1290.6,343.2 1291.5,343.0 1292.3,343.2 1293.2,343.1 1294.0,342.7 1294.4,342.1 1294.8,341.6 1295.2,340.9 1295.6,340.0 1296.0,339.3 1296.4,338.6 1296.8,337.6 1297.2,336.9 1297.6,336.3 1298.1,335.2 1298.5,334.4 1299.0,333.5 1299.5,332.6 1299.9,331.9 1300.4,331.2 1300.8,330.8 1301.2,330.4 1301.6,331.0 1302.0,331.3 1302.3,332.0 1302.7,333.0 1303.0,333.8 1303.4,335.0 1303.7,335.9 1304.0,336.9 1304.2,337.9 1304.5,338.7 1304.7,339.7 1304.9,340.6 1305.1,341.6 1305.3,342.4 1305.5,343.4 1305.7,344.2 1305.9,344.9 1306.1,345.6 1306.6,346.5 1307.2,347.5 1307.8,347.9 1308.3,347.7 1308.6,347.2 1308.9,347.0 1309.2,346.4 1309.6,345.5 1309.9,344.6 1310.1,343.7 1310.4,342.7 1310.5,341.9 1310.6,341.2 1310.8,340.4 1310.9,339.5 1311.0,338.6 1311.1,337.7 1311.1,336.7 1311.2,335.7 1311.3,334.8 1311.4,333.8 1311.6,332.9 1311.7,332.1 1311.8,331.2 1312.0,330.3 1312.2,329.4 1312.4,328.4 1312.6,327.6 1312.8,326.7 1313.0,325.8 1313.2,325.1 1313.5,324.3 1313.7,323.5 1313.9,322.7 1314.2,321.9 1314.5,320.8 1314.8,319.8 1315.2,319.0 1315.5,318.3 1315.8,317.5 1316.0,316.8 1316.2,316.6" fill="none" stroke="#0000ff" stroke-width="6.3" stroke-linejoin="round" stroke-linecap="butt" clip-path="url(#plot)"/>
<path d="M115.6,131.9 116.1,133.0 116.7,131.6 117.4,133.7 118.2,132.4 119.0,133.0 119.9,131.6 120.9,132.6 121.9,132.2 122.9,133.1 123.9,131.5 125.0,133.0 126.0,132.1 127.0,132.7 128.0,131.5 128.8,132.4 129.7,131.9 130.6,132.4 131.5,131.8 132.4,132.7 133.4,131.2 134.3,132.2 135.3,130.7 136.2,132.3 137.1,130.5 138.0,131.7 138.9,130.9 139.8,132.4 140.6,130.8 141.3,132.0 142.1,130.7 142.7,131.7 143.9,131.5 144.9,131.7 145.7,131.7 146.5,132.4 147.1,131.7 147.7,132.7 148.3,132.8 148.9,133.7 149.7,131.8 150.3,133.2 150.9,131.1 151.7,131.9 152.8,130.5 153.4,131.6 154.2,130.8 154.9,131.9 155.8,131.0 156.7,132.9 157.6,131.9 158.5,133.8 159.5,132.4 160.4,133.3 161.3,133.3 162.1,133.6 162.9,132.9 163.8,133.7 164.7,133.3 165.5,134.2 166.2,132.2 167.0,132.5 167.8,131.5 168.6,132.6 169.6,130.6 170.6,131.3 171.4,130.3 172.2,130.9 173.1,130.8 174.0,131.6 174.9,130.5 175.9,131.1 176.9,129.8 177.9,130.2 178.8,130.0 179.8,130.1 180.7,129.6 181.5,130.3 182.3,129.2 183.0,129.5 184.1,129.1 185.0,129.6 185.8,128.2 186.5,128.8 187.1,127.8 187.8,127.4 188.5,127.1 189.2,128.0 190.0,126.7 190.7,128.3 191.5,127.8 192.3,128.7 193.1,128.3 193.9,129.4 194.6,128.9 195.4,130.4 196.0,129.7 196.7,130.6 197.3,131.0 198.0,132.7 198.6,132.1 199.2,134.0 199.9,133.2 200.5,135.1 201.0,134.6 201.6,135.7 202.3,134.3 202.9,135.2 203.5,133.3 204.1,133.8 204.7,132.0 205.2,132.1 205.8,131.0 206.3,130.6 207.0,129.4 207.7,129.2 208.3,128.1 208.9,128.5 209.6,127.8 210.2,128.5 210.7,127.8 211.3,129.1 211.8,129.2 212.3,130.3 212.9,130.6 213.4,132.3 214.0,131.9 214.7,132.2 215.5,131.9 216.3,132.1 217.2,132.0 218.0,132.0 218.7,132.1 219.4,132.6 220.1,132.1 220.8,133.6 221.4,133.9 222.1,134.5 222.6,134.9 223.0,135.8 223.4,136.2 223.7,137.5 223.9,138.0 224.2,139.6 224.5,140.0 224.9,141.0 225.6,141.0 226.4,141.5 227.2,141.5 228.0,140.9 228.6,140.9 229.2,140.3 229.8,139.2 230.4,139.0 231.0,139.3 231.4,139.3 231.8,139.8 232.2,141.1 232.6,141.5 233.1,142.8 233.5,143.3 233.8,144.1 234.2,145.1 234.6,145.7 234.9,146.4 235.3,146.7 235.6,147.8 236.0,148.3 236.5,148.7 236.9,149.4 237.3,150.5 237.8,150.6 238.3,151.3 238.8,152.0 239.4,153.1 239.9,154.0 240.4,154.5 240.8,154.9 241.2,155.9 241.5,156.5 241.8,157.5 242.0,158.5 242.3,159.3 242.4,160.3 242.6,161.0 242.8,161.9 243.0,162.7 243.2,163.8 243.5,164.3 243.7,165.5 244.0,166.0 244.2,167.0 244.5,167.5 244.7,168.1 245.0,168.9 245.2,169.8 245.5,171.0 245.8,171.4 246.1,172.4 246.3,173.0 246.6,174.3 246.9,175.0 247.1,175.6 247.4,176.6 247.7,177.0 248.0,178.3 248.3,179.0 248.6,179.8 248.8,180.6 249.1,181.6 249.4,182.2 249.7,183.2 250.0,184.2 250.3,185.0 250.5,185.6 250.7,186.4 251.0,187.3 251.2,187.6 251.4,188.5 251.7,189.4 251.9,190.0 252.2,191.1 252.5,192.0 252.8,193.1 253.2,193.9 253.6,195.2 253.8,195.7 254.1,196.5 254.4,197.0 254.6,197.7 254.9,198.7 255.2,199.3 255.5,200.3 255.9,201.0 256.2,202.0 256.5,202.6 256.9,203.8 257.2,204.4 257.5,205.1 257.9,206.5 258.2,207.3 258.6,208.1 258.9,208.7 259.3,209.5 259.6,210.2 260.0,211.2 260.3,211.9 260.6,212.6 261.0,213.4 261.3,214.1 261.7,215.3 262.2,216.1 262.6,216.8 263.0,218.1 263.4,218.3 263.9,219.0 264.3,219.9 264.7,220.9 265.1,221.2 265.6,222.0 266.0,222.6 266.4,223.4 266.9,224.0 267.3,225.0 267.7,225.9 268.1,226.9 268.6,227.1 269.0,228.3 269.4,229.1 269.9,229.8 270.3,230.4 270.8,230.7 271.2,231.5 271.7,232.5 272.1,233.2 272.6,234.3 273.0,234.4 273.5,235.3 273.9,236.3 274.3,237.1 274.8,237.7 275.2,238.8 275.6,239.1 276.0,239.8 276.4,240.5 276.8,241.7 277.2,242.3 277.6,243.0 277.9,243.9 278.3,244.7 278.6,245.5 278.9,246.2 279.2,247.4 279.5,248.0 279.9,248.7 280.2,249.9 280.5,250.7 280.8,251.0 281.1,252.1 281.5,252.9 281.8,253.5 282.2,254.0 282.6,254.8 283.1,255.7 283.5,256.7 284.0,257.2 284.5,258.1 285.1,259.1 285.6,259.4 286.1,260.2 286.7,261.1 287.2,261.5 287.7,262.5 288.3,263.3 288.8,263.8 289.4,264.0 289.9,265.3 290.4,266.0 290.9,266.5 291.4,267.0 292.0,267.9 292.5,268.5 293.0,269.3 293.5,270.6 294.1,270.9 294.6,271.4 295.1,272.8 295.6,273.0 296.1,273.7 296.6,274.9 297.1,275.5 297.5,276.1 298.0,276.7 298.7,277.6 299.5,277.5 300.2,278.6 300.8,278.8 301.5,279.8 302.1,280.1 302.8,280.6 303.4,280.8 304.0,280.8 304.9,281.5 305.7,281.8 306.4,282.0 307.2,282.1 308.0,282.3 308.8,282.6 309.6,282.3 310.4,282.6 311.2,282.2 312.0,281.9 312.8,281.4 313.7,280.9 314.6,280.3 315.1,280.1 315.7,279.4 316.3,278.7 316.8,277.9 317.4,277.3 318.0,276.6 318.6,276.0 319.2,275.5 319.7,275.0 320.3,273.8 320.9,273.0 321.4,272.9 321.9,271.5 322.4,270.8 322.8,270.5 323.3,269.6 323.7,269.0 324.2,268.3 324.6,267.5 325.1,267.1 325.5,265.8 326.0,265.7 326.4,264.7 326.8,264.0 327.2,262.7 327.5,261.8 327.8,261.5 328.1,260.6 328.4,259.7 328.7,258.9 329.0,258.1 329.3,257.0 329.6,256.2 329.9,255.7 330.2,254.9 330.5,254.0 330.8,253.0 331.0,252.0 331.3,251.6 331.5,250.8 331.8,249.9 332.0,249.4 332.3,248.3 332.6,247.3 332.8,246.4 333.0,245.9 333.2,244.9 333.4,244.3 333.6,243.5 333.9,242.8 334.1,241.9 334.4,241.0 334.7,240.6 335.0,239.6 335.3,238.6 335.6,237.9 335.9,237.4 336.2,236.8 336.5,235.9 336.8,235.2 337.2,234.0 337.5,233.4 337.9,232.7 338.3,231.7 338.6,230.9 339.0,230.0 339.4,228.8 339.7,228.5 340.1,227.3 340.5,226.9 340.8,226.2 341.2,225.2 341.6,224.1 342.0,223.5 342.4,222.8 342.8,222.1 343.2,221.2 343.6,220.0 344.0,219.7 344.4,218.4 344.7,217.9 345.1,217.3 345.5,216.7 345.9,215.8 346.2,214.9 346.6,214.5 347.0,213.5 347.5,212.5 347.9,211.5 348.3,210.7 348.7,210.2 349.1,209.4 349.4,208.5 349.8,207.7 350.2,207.0 350.6,205.8 351.0,205.1 351.4,205.0 351.9,204.1 352.4,203.2 352.9,202.6 353.4,201.5 353.9,201.3 354.5,200.5 355.0,200.3 355.6,199.7 356.3,199.2 356.8,198.2 357.4,197.8 357.9,196.9 358.5,196.7 359.1,195.9 359.7,195.5 360.4,195.0 361.0,194.6 361.7,193.5 362.5,193.3 363.2,192.9 364.0,191.9 364.6,191.3 365.3,191.4 366.0,190.8 366.8,190.5 367.6,189.3 368.4,189.0 369.2,188.4 370.0,188.1 370.8,187.3 371.6,187.0 372.3,186.9 373.1,186.0 373.8,185.9 374.5,185.5 375.1,184.6 375.7,184.4 376.5,183.9 377.2,182.9 377.8,182.6 378.4,181.5 378.9,181.0 379.3,180.1 379.8,179.4 380.3,178.7 380.9,178.3 381.5,177.3 382.0,177.0 382.6,176.1 383.1,175.8 383.7,175.1 384.2,174.6 384.8,173.9 385.4,172.9 386.0,172.4 386.6,171.3 387.2,171.0 387.9,170.1 388.5,169.4 389.2,168.7 389.8,168.2 390.4,167.8 391.0,167.3 391.7,166.3 392.4,165.4 393.0,164.9 393.7,164.5 394.4,163.6 395.1,163.6 395.7,162.9 396.4,162.3 397.0,161.2 397.7,161.0 398.3,160.8 398.9,159.7 399.7,159.6 400.4,158.8 401.2,158.4 401.9,157.8 402.6,157.3 403.3,157.0 404.0,155.7 404.6,155.5 405.3,154.8 406.0,154.7 406.7,154.0 407.5,153.5 408.2,153.1 409.0,152.6 409.8,152.7 410.6,152.0 411.3,151.3 412.1,151.2 412.9,150.7 413.6,150.5 414.4,150.0 415.2,149.9 416.0,149.1 416.7,149.1 417.5,148.5 418.3,148.5 419.1,147.7 419.9,147.4 420.6,147.1 421.4,147.0 422.2,146.9 423.0,146.1 423.7,145.9 424.4,145.4 425.1,145.3 425.8,144.8 426.5,144.5 427.3,144.2 428.1,143.0 429.0,142.7 429.9,142.7 430.6,142.2 431.4,142.4 432.2,141.7 433.1,141.1 433.9,141.0 434.8,140.9 435.8,140.5 436.7,140.3 437.6,139.6 438.4,139.6 439.3,139.1 440.1,139.0 440.9,139.3 441.6,138.9 442.6,138.3 443.6,138.3 444.5,137.9 445.4,137.8 446.2,137.8 447.0,137.6 447.7,138.3 448.5,138.3 449.3,138.2 450.2,137.7 451.1,137.6 452.0,137.8 452.8,137.2 453.7,137.8 454.5,137.2 455.3,137.3 456.0,137.4 456.8,138.4 457.6,138.5 458.3,138.9 459.0,138.9 459.6,139.7 460.3,140.3 461.0,140.8 461.7,140.8 462.4,142.0 463.2,142.7 463.9,143.2 464.6,143.3 465.2,144.5 465.8,144.8 466.6,145.1 467.3,145.5 467.9,145.6 468.7,145.5 469.3,145.2 470.0,144.4 470.7,143.8 471.3,143.1 472.0,142.4 472.6,142.1 473.4,142.0 474.0,141.3 474.7,141.5 475.5,141.3 476.1,142.0 476.8,141.9 477.5,142.3 478.2,142.8 478.9,143.5 479.6,144.1 480.3,144.0 481.1,144.5 481.9,145.5 482.6,146.0 483.4,146.4 484.2,145.9 484.8,145.6 485.4,145.3 486.1,144.6 486.8,144.5 487.5,143.7 488.2,143.0 489.0,142.3 489.7,142.2 490.4,141.5 491.1,141.3 491.8,140.9 492.6,140.2 493.4,139.6 494.2,139.7 495.0,139.2 495.8,138.7 496.5,138.4 497.3,138.3 498.1,138.0 498.9,137.9 499.8,137.1 500.6,136.6 501.4,136.9 502.2,136.6 502.9,136.5 503.6,135.7 504.5,135.7 505.4,135.7 506.2,135.6 507.0,135.2 507.8,135.3 508.6,134.6 509.4,134.3 510.0,134.1 510.7,133.5 511.3,132.9 511.9,132.7 512.5,132.1 513.1,131.2 513.8,131.0 514.5,130.7 515.2,130.3 515.9,129.8 516.6,129.3 517.4,129.1 518.2,129.0 519.0,128.8 519.8,128.5 520.6,128.4 521.4,127.9 522.2,127.8 523.0,127.5 523.9,127.2 524.7,127.0 525.5,127.2 526.4,126.8 527.2,126.8 528.0,126.4 528.9,126.2 529.8,126.1 530.7,126.0 531.5,125.9 532.2,125.7 532.9,125.7 533.7,125.8 534.4,125.6 535.2,125.5 536.1,125.2 537.1,125.5 538.3,125.1 539.6,124.6 540.3,125.0 540.9,124.8 541.6,124.5 542.3,124.3 543.1,124.3 543.8,124.4 544.6,124.1 545.4,124.4 546.2,124.1 547.0,124.2 547.9,123.9 548.7,123.6 549.7,123.9 550.6,123.8 551.6,123.5 552.6,123.6 553.6,123.3 554.7,123.3 555.8,123.6 556.9,123.1 558.1,123.4 559.3,123.1 560.0,123.2 560.7,123.2 561.5,123.1 562.2,123.0 563.0,123.3 563.8,123.2 564.6,123.0 565.5,122.9 566.3,123.0 567.2,123.0 568.1,122.9 568.9,123.2 569.8,122.8 570.7,123.1 571.6,123.0 572.6,122.8 573.5,122.7 574.4,123.1 575.4,122.9 576.3,123.1 577.3,123.1 578.2,122.6 579.1,122.6 580.1,122.7 581.0,122.9 582.0,122.8 582.9,123.1 583.9,123.1 584.8,122.6 585.7,122.7 586.6,122.6 587.5,123.1 588.4,122.7 589.3,122.6 590.2,122.9 591.1,122.9 591.9,123.0 592.8,122.7 593.6,123.0 594.6,122.8 595.5,122.8 596.5,123.2 597.4,122.9 598.4,123.0 599.3,122.7 600.3,123.0 601.2,123.0 602.1,123.3 603.1,123.3 604.0,123.2 604.9,123.3 605.8,123.1 606.7,123.5 607.6,123.4 608.5,123.3 609.4,123.6 610.3,123.5 611.2,123.3 612.1,123.6 612.9,123.6 613.8,123.4 614.7,123.7 615.5,123.6 616.4,123.8 617.3,123.4 618.1,123.6 618.9,123.3 619.8,123.5 620.6,123.3 621.5,123.6 622.3,123.4 623.1,123.8 624.1,123.6 625.0,123.8 625.9,123.5 626.8,123.4 627.7,123.4 628.5,123.4 629.4,123.6 630.2,123.3 631.1,123.6 631.9,123.1 632.7,123.1 633.6,123.4 634.4,123.0 635.2,122.8 636.0,123.0 636.8,123.0 637.7,122.9 638.5,122.6 639.4,122.6 640.2,122.9 641.1,122.8 642.0,122.7 642.8,122.6 643.8,122.5 644.7,122.3 645.6,122.3 646.6,122.5 647.6,122.5 648.4,122.3 649.2,122.2 650.0,121.8 650.9,122.1 651.7,121.8 652.6,121.8 653.4,121.8 654.3,121.9 655.2,121.6 656.1,121.9 657.0,121.6 658.0,121.7 658.9,121.9 659.8,121.4 660.7,121.4 661.7,121.7 662.6,121.3 663.5,121.4 664.5,121.4 665.4,121.3 666.4,121.6 667.3,121.3 668.2,121.3 669.1,121.3 670.1,121.4 671.0,121.3 671.9,121.4 672.8,121.3 673.6,121.1 674.5,120.8 675.4,120.9 676.2,121.2 677.1,121.0 677.9,121.0 678.7,121.2 679.5,120.8 680.5,120.6 681.5,120.7 682.5,120.7 683.5,121.1 684.4,121.1 685.4,120.8 686.3,120.6 687.3,121.0 688.2,120.7 689.1,120.6 690.0,120.9 690.9,120.6 691.8,120.7 692.7,121.1 693.6,121.1 694.5,121.1 695.3,120.8 696.2,121.2 697.0,121.0 697.8,120.8 698.6,120.9 699.4,121.2 700.2,120.9 701.0,121.4 701.8,121.2 702.6,121.3 703.3,121.0 704.1,121.0 705.1,121.2 706.1,121.2 707.1,121.5 708.0,121.3 708.9,121.2 709.7,121.4 710.6,121.7 711.4,121.5 712.2,121.8 713.0,121.8 713.8,121.4 714.6,121.5 715.4,121.7 716.2,122.1 717.0,122.1 717.8,121.9 718.7,122.2 719.5,122.1 720.4,122.1 721.3,122.2 722.1,122.5 723.0,122.4 723.8,122.7 724.6,123.0 725.5,122.9 726.3,122.8 727.2,122.9 728.0,123.2 728.9,123.5 729.8,123.3 730.6,123.6 731.5,123.5 732.4,123.8 733.3,123.9 734.2,124.0 735.1,124.4 736.1,124.2 737.0,124.5 738.0,124.3 738.9,124.6 739.9,124.8 740.9,125.1 741.7,124.8 742.5,125.0 743.3,125.3 744.2,125.6 745.0,125.3 745.8,125.6 746.7,125.8 747.6,125.6 748.4,125.9 749.3,126.1 750.2,126.1 751.1,126.3 752.0,126.4 752.9,126.4 753.8,126.3 754.7,126.9 755.6,127.0 756.5,127.0 757.4,127.0 758.3,127.1 759.2,127.3 760.1,127.3 761.0,127.2 761.9,127.8 762.8,127.8 763.7,127.8 764.6,128.0 765.5,127.9 766.4,127.9 767.3,128.2 768.1,128.4 769.0,128.6 769.9,128.3 770.8,128.4 771.6,129.0 772.5,128.7 773.4,128.8 774.3,129.2 775.1,129.0 776.0,129.6 776.9,129.4 777.8,129.3 778.6,129.7 779.5,129.6 780.4,129.6 781.3,130.1 782.1,130.0 783.0,130.3 783.9,130.0 784.8,130.4 785.6,130.2 786.5,130.7 787.4,130.4 788.3,130.6 789.1,130.9 790.0,131.0 790.9,131.1 791.8,131.3 792.7,131.4 793.6,131.3 794.5,131.8 795.4,131.5 796.4,131.9 797.3,131.7 798.2,131.9 799.1,132.1 800.1,132.1 801.0,132.5 801.9,132.5 802.9,132.5 803.8,132.4 804.7,132.9 805.6,132.7 806.5,133.1 807.3,133.4 808.2,133.5 809.1,133.7 809.9,133.3 810.7,133.5 811.5,133.9 812.3,134.0 813.0,134.1 813.8,134.1 814.5,134.1 815.6,134.6 816.7,134.7 817.7,134.9 818.6,134.8 819.5,135.3 820.3,135.3 821.2,135.5 822.0,135.6 822.7,135.6 823.5,136.1 824.3,136.1 825.1,136.5 825.9,136.7 826.7,136.7 827.5,136.8 828.4,137.0 829.3,137.0 830.1,137.3 830.9,137.5 831.8,137.2 832.6,137.6 833.4,137.8 834.3,137.6 835.1,137.9 836.0,137.8 836.9,138.1 837.8,137.8 838.6,138.2 839.5,137.9 840.4,138.1 841.3,138.2 842.2,138.6 843.0,138.2 843.9,138.5 844.8,138.7 845.6,139.2 846.5,139.0 847.4,139.4 848.3,139.5 849.2,140.0 850.1,139.9 851.0,140.4 852.0,140.3 852.9,140.6 853.9,141.0 854.8,141.2 855.7,141.4 856.6,142.0 857.5,142.0 858.4,142.4 859.3,143.2 860.1,143.4 860.9,143.2 861.6,143.5 862.3,143.8 863.0,144.3 863.6,144.7 864.8,145.2 865.7,145.7 866.5,145.8 867.2,146.1 867.8,147.0 868.3,147.2 868.8,147.5 869.4,148.2 870.0,148.6 870.7,149.0 871.4,149.7 872.0,149.3 872.7,149.9 873.3,150.1 874.0,150.6 874.7,151.5 875.4,151.6 876.2,152.4 876.7,152.9 877.1,153.5 877.6,154.5 878.1,154.9 878.7,155.9 879.2,156.3 879.7,157.1 880.2,157.9 880.8,158.4 881.3,159.2 881.8,160.4 882.3,161.4 882.8,161.8 883.2,162.6 883.6,163.5 884.0,164.3 884.4,164.9 884.8,166.0 885.2,166.7 885.5,167.7 885.8,168.6 886.1,169.6 886.3,170.5 886.6,171.1 886.8,172.1 887.1,172.8 887.3,173.5 887.5,174.4 887.8,175.0 888.2,176.2 888.5,177.0 888.8,177.9 889.1,178.8 889.4,179.2 889.7,180.3 890.1,180.5 890.5,181.7 890.9,181.8 891.6,182.4 892.3,183.4 893.1,183.8 893.9,183.8 894.8,184.4 895.6,184.6 896.4,184.7 897.2,185.3 898.0,185.8 898.8,186.6 899.7,186.4 900.4,187.0 901.2,186.6 901.8,186.8 902.4,186.6 902.9,186.6 903.4,185.9 903.8,185.2 904.3,184.5 904.9,183.3 905.3,183.0 905.8,182.0 906.3,181.6 906.8,180.6 907.3,179.6 907.8,179.4 908.4,178.7 908.9,178.3 909.5,178.2 910.2,178.0 910.9,177.5 911.6,178.2 912.4,178.2 913.1,179.5 913.8,179.9 914.4,180.3 915.0,181.0 915.4,182.0 915.7,182.4 916.0,183.2 916.3,183.8 916.5,184.7 916.8,185.4 917.0,186.2 917.2,187.1 917.5,187.8 917.7,188.6 918.0,189.9 918.3,190.5 918.5,191.4 918.8,192.2 919.1,193.2 919.3,193.9 919.6,194.7 919.9,195.8 920.1,196.4 920.4,197.4 920.7,198.1 920.9,198.8 921.2,199.9 921.5,200.6 921.9,201.8 922.2,202.3 922.6,203.0 922.9,204.0 923.3,204.8 923.6,205.4 924.0,205.9 924.3,206.8 924.7,207.8 925.2,208.6 925.6,209.0 926.0,209.7 926.5,210.4 926.9,211.1 927.4,211.1 928.1,212.0 928.9,212.9 929.7,212.8 930.5,213.5 931.2,213.1 931.8,213.2 932.3,212.8 932.8,212.1 933.3,211.3 933.8,210.3 934.3,209.2 934.5,208.2 934.8,207.6 935.0,207.0 935.2,206.0 935.5,205.2 935.7,204.5 935.9,203.6 936.1,202.5 936.4,201.7 936.6,200.5 936.9,199.8 937.1,199.2 937.4,198.3 937.7,197.5 938.0,196.6 938.3,195.9 938.6,194.9 938.9,193.9 939.2,193.5 939.5,192.9 939.8,191.8 940.1,191.2 940.5,190.4 940.9,189.5 941.3,188.7 941.8,188.1 942.3,187.6 942.8,186.7 943.4,186.3 944.0,185.2 944.6,184.7 945.1,184.1 945.7,183.9 946.3,182.7 946.9,182.8 947.5,181.7 948.2,181.2 948.8,180.8 949.5,180.1 950.1,180.1 950.7,179.4 951.4,179.3 952.1,178.4 952.9,178.4 953.7,177.7 954.4,178.1 955.3,177.4 956.1,176.9 957.0,176.2 957.9,176.3 958.9,175.9 959.8,175.7 960.7,175.5 961.5,175.6 962.3,175.2 963.0,175.5 964.0,175.1 964.9,175.3 965.7,176.1 966.4,176.8 967.1,176.6 967.7,177.0 968.4,177.5 969.1,176.8 969.8,176.9 970.4,176.6 971.1,176.1 971.7,175.1 972.3,175.2 973.0,174.2 973.6,173.7 974.3,173.1 975.0,172.9 975.6,172.3 976.2,171.7 977.0,171.8 977.8,171.5 978.5,171.7 979.3,172.9 979.8,172.9 980.3,173.3 980.8,174.1 981.4,174.8 981.9,175.9 982.4,176.3 982.8,177.4 983.2,178.2 983.5,178.7 983.9,179.4 984.3,180.4 984.7,181.5 985.1,182.0 985.5,182.8 986.1,183.7 986.7,184.3 987.4,184.7 988.1,184.7 988.7,185.9 989.4,186.2 990.2,186.2 990.9,185.9 991.6,185.8 992.4,185.4 993.3,186.3 993.8,186.4 994.4,187.3 995.0,187.9 995.6,188.2 996.2,188.7 996.8,189.4 997.5,190.0 998.1,190.7 998.7,191.0 999.5,191.8 1000.3,192.0 1001.1,192.1 1001.8,192.4 1002.6,193.2 1003.4,193.3 1004.1,193.5 1004.9,193.6 1005.7,194.2 1006.4,194.7 1007.2,195.3 1008.0,195.1 1008.8,194.7 1009.5,194.8 1010.3,194.8 1011.1,194.0 1011.8,193.9 1012.6,193.2 1013.4,192.4 1014.2,192.1 1015.0,191.6 1015.7,191.2 1016.4,190.1 1017.2,190.2 1017.9,189.6 1018.7,189.0 1019.6,188.9 1020.4,188.7 1021.2,189.0 1022.1,189.2 1023.0,189.6 1023.9,189.1 1024.8,189.7 1025.7,189.7 1026.6,189.2 1027.3,188.9 1028.1,189.4 1028.9,188.6 1029.7,188.1 1030.5,188.3 1031.3,187.5 1032.1,187.9 1032.8,186.9 1033.6,186.6 1034.3,186.2 1035.2,186.5 1036.0,185.6 1036.8,185.6 1037.6,185.5 1038.4,184.7 1039.1,185.2 1039.8,184.7 1040.5,184.4 1041.4,184.1 1042.2,183.4 1043.0,183.8 1043.7,183.4 1044.4,182.8 1045.2,183.0 1046.0,183.4 1046.7,183.5 1047.4,183.6 1048.2,183.6 1048.9,184.0 1049.8,184.6 1050.5,184.8 1051.2,184.7 1052.0,185.0 1052.8,185.7 1053.6,185.8 1054.4,186.6 1055.2,187.2 1056.0,187.0 1056.8,187.8 1057.6,187.8 1058.4,188.8 1059.2,188.8 1060.0,189.6 1060.8,189.5 1061.5,190.5 1062.2,190.6 1063.0,190.7 1063.6,191.3 1064.2,192.1 1064.8,192.5 1065.4,192.8 1066.1,193.4 1066.8,193.3 1067.6,193.5 1068.3,193.4 1069.1,193.4 1069.9,193.4 1070.8,193.7 1071.5,193.7 1072.3,192.7 1073.1,192.2 1073.9,192.3 1074.7,191.4 1075.5,191.1 1076.3,191.1 1077.0,190.0 1077.9,189.9 1078.6,190.1 1079.4,190.3 1080.1,190.4 1080.8,191.3 1081.6,191.1 1082.4,191.7 1083.1,191.7 1083.9,191.4 1084.7,191.9 1085.5,191.4 1086.3,191.8 1087.0,192.4 1087.8,193.0 1088.6,193.7 1089.3,194.0 1090.1,194.2 1090.9,194.8 1091.7,194.6 1092.5,194.7 1093.2,194.8 1094.0,194.4 1094.8,193.7 1095.5,192.8 1096.3,192.3 1097.1,192.6 1097.9,191.6 1098.7,191.7 1099.5,191.9 1100.3,191.5 1101.1,191.4 1101.9,191.2 1102.6,191.2 1103.4,191.3 1104.2,190.9 1104.9,191.2 1105.6,191.8 1106.3,192.3 1107.0,193.1 1107.6,193.5 1108.2,194.1 1108.7,194.9 1109.3,195.3 1109.8,195.8 1110.3,196.7 1110.9,197.4 1111.5,198.3 1112.0,198.5 1112.6,199.5 1113.2,200.3 1113.7,200.5 1114.3,201.2 1114.8,202.0 1115.6,202.4 1116.3,202.3 1117.1,202.4 1117.9,202.7 1118.6,202.7 1119.4,202.7 1120.3,202.4 1121.1,202.0 1121.8,202.3 1122.4,203.1 1122.9,203.5 1123.4,204.1 1123.9,205.0 1124.4,206.0 1124.9,206.6 1125.3,207.1 1125.7,208.1 1126.1,208.7 1126.5,209.8 1126.9,210.2 1127.3,210.8 1127.6,211.8 1128.0,212.1 1128.7,213.3 1129.3,213.8 1129.9,214.4 1130.6,214.6 1131.3,214.8 1132.0,214.0 1132.7,213.8 1133.5,214.3 1134.2,213.6 1134.9,213.2 1135.7,213.5 1136.5,213.3 1137.2,212.5 1138.0,212.2 1138.5,211.7 1139.1,211.6 1139.6,210.8 1140.2,209.8 1140.7,209.4 1141.3,208.6 1141.9,208.3 1142.5,207.6 1143.2,207.3 1143.9,207.3 1144.6,206.7 1145.3,206.0 1146.0,205.4 1146.6,205.4 1147.1,204.9 1147.6,203.9 1148.1,203.1 1148.6,202.7 1149.0,201.7 1149.5,201.2 1150.0,200.3 1150.5,200.1 1150.9,199.2 1151.4,198.4 1151.8,198.1 1152.3,196.9 1152.8,196.4 1153.2,195.5 1153.7,194.6 1154.2,194.3 1154.6,193.3 1155.1,193.1 1155.7,192.1 1156.3,191.3 1156.9,190.5 1157.4,189.5 1158.0,189.5 1158.6,188.8 1159.2,188.0 1159.8,187.5 1160.4,186.8 1161.1,186.3 1161.7,185.6 1162.3,185.7 1163.0,185.0 1163.7,184.5 1164.4,184.4 1165.1,184.0 1165.9,183.6 1166.6,184.0 1167.5,183.9 1168.3,183.1 1169.1,183.2 1169.9,183.4 1170.6,183.4 1171.4,182.6 1172.2,182.9 1173.0,182.4 1173.8,182.1 1174.5,181.9 1175.3,181.4 1176.0,181.5 1176.8,181.7 1177.6,181.5 1178.4,182.1 1179.2,182.3 1180.0,183.3 1180.7,183.7 1181.4,184.1 1182.1,184.8 1182.8,184.7 1183.4,185.6 1184.1,186.3 1184.6,186.6 1185.3,186.8 1185.8,187.7 1186.3,188.0 1186.9,188.4 1187.5,187.6 1188.1,187.4 1188.7,187.1 1189.4,186.3 1190.0,185.8 1190.5,184.7 1191.0,184.3 1191.5,183.6 1192.0,183.2 1192.5,182.2 1193.1,182.3 1193.8,181.7 1194.6,181.2 1195.4,181.4 1196.2,180.8 1197.0,180.8 1197.7,181.1 1198.4,180.5 1199.1,180.1 1199.8,180.0 1200.6,180.8 1201.6,180.6 1202.3,180.6 1203.1,180.5 1204.0,180.5 1204.9,180.6 1205.9,181.2 1206.8,181.2 1207.7,181.5 1208.6,181.5 1209.4,181.9 1210.3,182.2 1211.1,182.7 1211.9,183.2 1212.7,183.7 1213.5,183.6 1214.2,184.3 1214.9,184.1 1215.6,184.6 1216.5,184.9 1217.2,183.9 1217.8,184.1 1218.6,183.2 1219.5,183.5 1220.1,184.0 1220.9,183.8 1221.6,184.1 1222.4,184.8 1223.3,184.7 1224.1,185.1 1224.9,186.0 1225.7,185.8 1226.4,186.4 1227.3,185.9 1228.1,186.6 1228.9,185.9 1229.7,186.0 1230.4,185.3 1231.2,185.4 1231.9,185.5 1232.7,186.3 1233.5,186.8 1234.2,187.2 1235.0,187.8 1235.7,188.1 1236.5,189.0 1237.1,189.1 1237.7,189.6 1238.3,189.9 1238.9,190.6 1239.4,190.8 1240.0,191.4 1240.6,192.5 1241.2,192.5 1241.8,193.1 1242.4,194.0 1242.9,194.8 1243.5,195.5 1244.1,196.3 1244.6,197.0 1245.2,197.4 1245.8,198.1 1246.6,198.9 1247.3,199.1 1248.0,199.4 1248.8,200.0 1249.6,200.1 1250.5,200.0 1251.2,200.5 1252.0,200.8 1252.8,200.5 1253.6,200.3 1254.4,200.9 1255.2,200.4 1256.0,201.2 1256.7,201.5 1257.4,201.4 1258.0,202.4 1258.6,202.6 1259.1,203.4 1259.7,204.2 1260.2,204.3 1260.8,205.3 1261.3,205.5 1261.9,206.6 1262.4,206.7 1263.0,207.9 1263.5,208.1 1264.1,209.0 1264.6,209.6 1265.2,209.8 1265.9,210.4 1266.6,210.4 1267.4,211.1 1268.1,210.6 1268.9,211.2 1269.8,211.2 1270.5,211.2 1271.2,211.7 1272.0,212.0 1272.8,212.5 1273.6,212.7 1274.4,213.4 1275.2,213.5 1276.0,213.4 1276.9,213.9 1277.7,214.1 1278.6,214.6 1279.4,214.3 1280.3,214.7 1281.2,215.1 1282.2,215.1 1283.0,215.1 1283.9,214.8 1284.8,214.5 1285.7,215.0 1286.6,214.5 1287.5,214.2 1288.4,214.8 1289.2,214.0 1290.0,214.6 1290.9,213.7 1291.7,213.4 1292.5,212.7 1293.2,212.7 1293.9,212.3 1294.6,211.7 1295.4,211.6 1296.2,211.5 1297.0,211.2 1297.8,211.1 1298.5,210.5 1299.3,210.5 1300.1,210.3 1300.9,210.5 1301.7,210.2 1302.5,210.9 1303.3,210.5 1304.1,210.1 1304.9,209.8 1305.6,210.5 1306.3,209.7 1306.9,209.7 1307.5,208.6 1308.1,208.0 1308.7,207.7 1309.2,206.6 1309.7,205.6 1310.2,205.0 1310.7,204.3 1311.1,204.0 1311.6,203.5 1312.0,202.4 1312.4,202.0 1312.9,201.0 1313.3,200.7 1313.8,200.0 1314.3,199.4 1314.8,198.6 1315.3,197.6 1315.8,196.8 1316.2,196.2 1316.5,196.0" fill="none" stroke="#ff00ff" stroke-width="6.0" stroke-linejoin="round" stroke-linecap="butt" clip-path="url(#plot)"/>
<path d="M1175.5,447.3H1276" stroke="#ff00ff" stroke-width="6.6"/>
<path d="M1175.5,513.5H1276" stroke="#0000ff" stroke-width="6.6"/>
<path d="M1175.5,579.8H1276" stroke="#ff0000" stroke-width="6.6"/>
<path d="M1175.5,646.1H1276" stroke="#000" stroke-width="6.6"/>
<g fill="none">
<rect x="192" y="35" width="220" height="1108.3" stroke="#40ffff" stroke-width="1.3"/>
<path d="M192.6,36V1142M209.9,36V1142M227.3,36V1142M244.6,36V1142M261.9,36V1142M279.2,36V1142M296.6,36V1142M313.9,36V1142M331.2,36V1142M348.6,36V1142M365.9,36V1142M383.2,36V1142M400.6,36V1142" stroke="#30ff30" stroke-width="1.7"/>
</g>
<text transform="translate(258.54,130.75) scale(0.8174,1)" font-size="55.35">3444</text>
<path d="M306,125V1280" stroke="#fb0680" stroke-width="3.7"/>
<path d="M487.2,67L484,1298" stroke="#bdbdbd" stroke-width="4"/>
<path d="M928.3,92L925.7,1233" stroke="#b0b0b0" stroke-width="1"/>
<path d="M1135,157V1039" stroke="#bdbdbd" stroke-width="4"/>
</svg></body></html>
